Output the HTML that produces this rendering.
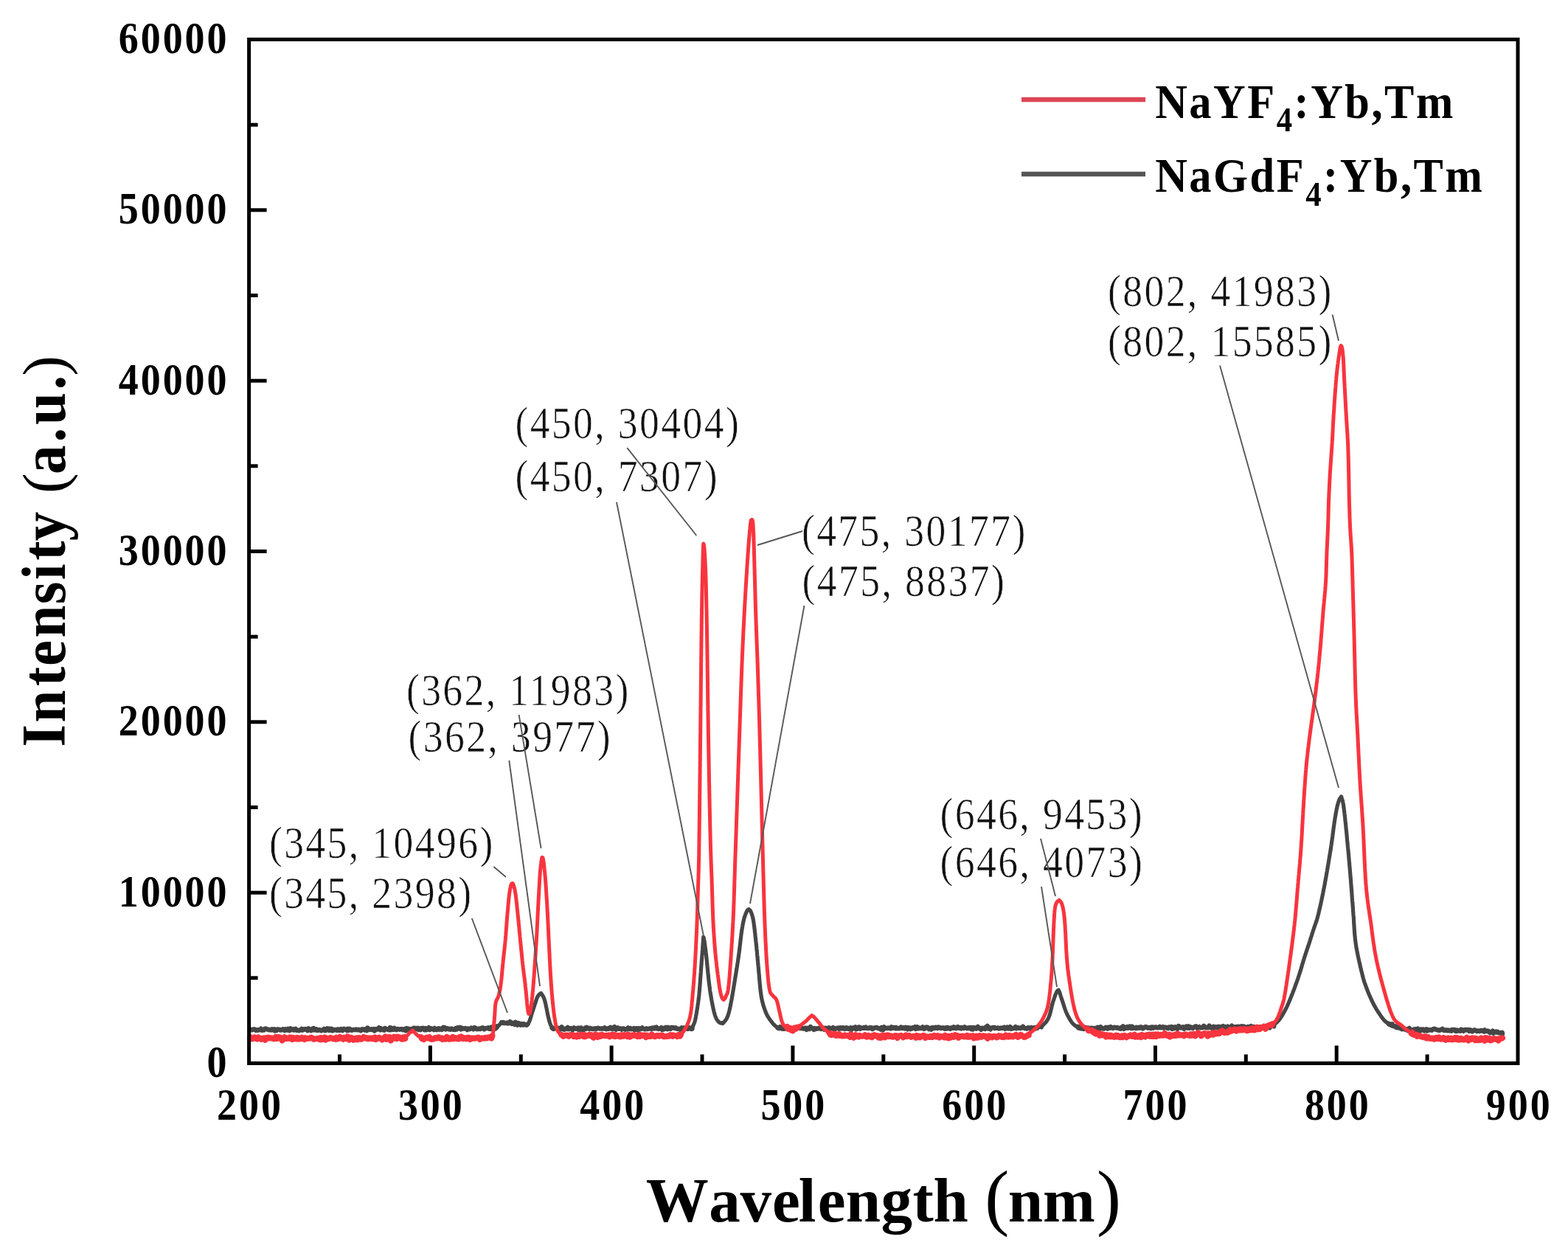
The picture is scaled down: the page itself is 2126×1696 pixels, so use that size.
<!DOCTYPE html><html><head><meta charset="utf-8"><title>Upconversion emission spectra</title><style>html,body{margin:0;padding:0;background:#fff;}svg{display:block;}</style></head><body>
<svg width="2126" height="1696" viewBox="0 0 2126 1696">
<rect width="2126" height="1696" fill="#fff"/>
<path d="M339.0,1396.0 L340.0,1395.8 L341.1,1396.4 L342.3,1395.8 L343.6,1395.8 L344.9,1395.3 L345.9,1395.8 L346.9,1396.9 L348.0,1396.3 L349.1,1396.8 L350.3,1396.2 L351.5,1396.3 L352.7,1396.2 L353.9,1394.7 L355.2,1396.7 L356.5,1396.4 L357.8,1396.4 L359.2,1394.7 L360.6,1394.6 L362.0,1395.3 L363.4,1395.7 L364.9,1396.3 L366.3,1396.0 L367.8,1396.5 L368.8,1395.5 L369.8,1396.3 L370.9,1396.4 L371.9,1395.5 L372.9,1397.4 L374.0,1396.5 L375.0,1397.0 L376.1,1395.6 L377.2,1395.5 L378.2,1395.8 L379.3,1396.0 L380.4,1396.6 L381.5,1396.3 L382.6,1395.7 L383.7,1395.3 L384.8,1395.6 L385.9,1397.0 L387.1,1395.4 L388.2,1396.3 L389.3,1396.4 L390.5,1394.9 L391.6,1396.1 L392.7,1397.1 L393.9,1394.5 L395.0,1395.8 L396.2,1396.0 L397.3,1395.4 L398.5,1396.5 L399.6,1396.0 L400.8,1394.9 L402.0,1396.7 L403.1,1396.6 L404.3,1396.8 L405.5,1397.2 L406.6,1396.4 L407.8,1396.2 L409.0,1395.0 L410.1,1396.6 L411.3,1395.6 L412.5,1395.7 L413.6,1395.1 L414.8,1395.3 L416.0,1395.6 L417.1,1397.1 L418.3,1394.4 L419.4,1394.9 L420.6,1396.3 L421.7,1397.2 L422.9,1396.5 L424.0,1394.5 L425.2,1394.1 L426.3,1396.3 L427.5,1395.5 L428.6,1395.2 L429.7,1396.8 L430.8,1396.9 L432.0,1396.2 L433.1,1396.2 L434.2,1396.4 L435.3,1397.3 L436.4,1396.5 L437.5,1396.5 L438.5,1396.5 L439.6,1394.8 L440.7,1397.1 L441.8,1396.8 L442.8,1396.5 L443.9,1394.4 L444.9,1395.5 L445.9,1396.7 L447.0,1394.6 L448.0,1395.9 L449.0,1396.8 L450.0,1395.0 L451.0,1397.3 L452.0,1396.4 L453.0,1395.9 L454.0,1396.2 L455.0,1396.5 L456.0,1396.1 L457.1,1396.9 L458.1,1395.4 L459.1,1395.6 L460.1,1396.8 L461.1,1396.0 L462.1,1395.2 L463.2,1396.7 L464.2,1397.1 L465.2,1395.6 L466.2,1394.8 L467.3,1395.8 L468.3,1395.8 L469.3,1395.6 L470.4,1397.0 L471.4,1395.0 L472.4,1396.9 L473.5,1394.8 L474.5,1395.2 L475.5,1396.3 L476.6,1396.7 L477.6,1396.5 L478.7,1396.1 L479.7,1395.9 L480.7,1395.9 L481.8,1396.2 L482.8,1395.6 L483.9,1396.0 L484.9,1396.2 L485.9,1395.7 L487.0,1396.3 L488.0,1396.2 L489.1,1397.3 L490.1,1396.0 L491.1,1395.3 L492.2,1395.4 L493.2,1395.7 L494.3,1396.4 L495.3,1395.4 L496.3,1395.9 L497.4,1397.1 L498.4,1393.6 L499.5,1394.7 L500.5,1395.8 L501.5,1395.9 L502.6,1395.8 L503.6,1395.2 L504.6,1396.1 L505.7,1395.8 L506.7,1395.1 L507.7,1397.5 L508.7,1395.8 L509.8,1395.1 L510.8,1395.4 L511.8,1395.3 L512.8,1395.4 L513.8,1393.3 L514.9,1395.1 L515.9,1396.2 L516.9,1394.5 L517.9,1395.4 L518.9,1396.2 L519.9,1396.1 L520.9,1396.6 L521.9,1394.0 L522.9,1395.1 L524.4,1395.1 L525.9,1395.8 L527.4,1396.2 L528.9,1393.2 L530.4,1396.2 L531.8,1394.1 L533.3,1395.8 L534.8,1394.0 L536.2,1395.4 L537.6,1396.2 L539.1,1395.1 L540.5,1395.3 L541.9,1395.8 L543.3,1395.3 L544.7,1395.1 L546.1,1396.3 L547.5,1395.9 L548.9,1394.9 L550.3,1397.3 L551.6,1394.2 L553.0,1395.8 L554.3,1394.8 L555.6,1395.1 L557.0,1395.6 L558.3,1395.2 L559.6,1395.5 L560.6,1393.8 L561.8,1393.8 L562.9,1395.5 L564.1,1394.2 L565.3,1394.1 L566.5,1393.8 L567.6,1396.0 L568.8,1395.5 L570.0,1396.1 L571.1,1394.2 L572.3,1394.9 L573.4,1394.0 L574.6,1395.5 L575.7,1396.2 L576.9,1394.2 L578.0,1396.1 L579.2,1395.7 L580.3,1394.7 L581.4,1393.3 L582.6,1396.0 L583.7,1394.8 L584.8,1394.3 L585.9,1395.1 L587.1,1395.1 L588.2,1396.0 L589.3,1394.0 L590.4,1395.7 L591.5,1396.0 L592.6,1395.9 L593.7,1394.6 L594.7,1394.2 L595.8,1395.6 L596.9,1394.8 L597.9,1394.8 L599.0,1395.9 L600.1,1394.5 L601.1,1392.9 L602.2,1394.4 L603.2,1393.2 L604.2,1395.4 L605.3,1395.0 L606.3,1394.2 L607.3,1394.7 L608.3,1395.3 L609.3,1394.7 L610.8,1395.7 L612.3,1394.6 L613.7,1395.5 L615.2,1395.8 L616.6,1395.9 L618.0,1394.1 L619.4,1395.3 L620.8,1393.1 L622.1,1393.7 L623.4,1393.0 L624.8,1395.4 L626.1,1393.6 L627.3,1394.6 L628.6,1394.4 L629.8,1394.5 L631.1,1394.1 L632.3,1394.7 L633.4,1396.0 L634.6,1394.6 L635.7,1395.0 L636.8,1395.3 L637.9,1394.4 L639.0,1393.5 L640.0,1394.1 L641.8,1395.3 L643.4,1393.2 L645.1,1394.0 L646.6,1395.3 L648.1,1395.1 L649.5,1394.5 L650.8,1395.1 L652.1,1394.6 L653.3,1393.6 L654.4,1393.3 L655.5,1394.0 L656.6,1395.3 L658.1,1394.1 L659.4,1393.9 L660.7,1394.0 L661.9,1393.4 L663.1,1394.5 L664.1,1393.6 L665.1,1394.9 L666.4,1392.6 L667.7,1394.7 L668.8,1393.9 L670.0,1392.7 L671.2,1394.7 L672.9,1393.6 L673.9,1391.5 L674.5,1392.5 L675.1,1391.3 L676.2,1390.4 L677.1,1389.4 L678.1,1388.3 L679.2,1387.4 L680.1,1386.2 L681.3,1386.7 L682.4,1386.0 L683.8,1386.9 L685.2,1386.9 L686.3,1386.8 L687.3,1386.6 L688.4,1387.5 L689.5,1387.1 L690.6,1387.0 L691.6,1385.1 L692.7,1387.5 L694.1,1388.0 L695.6,1386.8 L696.6,1386.7 L697.7,1388.8 L699.1,1385.9 L700.5,1387.9 L701.9,1389.6 L703.2,1387.1 L704.5,1388.5 L706.0,1389.6 L707.1,1388.2 L708.2,1389.0 L709.3,1389.5 L710.3,1388.2 L711.3,1389.0 L712.7,1389.4 L713.9,1389.7 L715.2,1388.6 L716.2,1387.7 L716.9,1386.5 L717.3,1385.6 L717.8,1384.5 L718.2,1383.6 L718.6,1382.5 L719.0,1381.2 L719.4,1379.9 L719.7,1378.9 L720.0,1377.9 L720.3,1376.8 L720.6,1375.7 L721.0,1374.5 L721.4,1373.3 L721.8,1372.0 L722.3,1370.5 L722.6,1369.5 L722.9,1368.5 L723.3,1367.5 L723.6,1366.5 L723.9,1365.5 L724.3,1364.5 L724.6,1363.5 L725.1,1362.1 L725.5,1360.8 L725.9,1359.6 L726.3,1358.4 L726.6,1357.3 L727.0,1356.3 L727.3,1355.3 L727.7,1354.0 L728.1,1352.8 L728.6,1351.7 L729.3,1350.5 L730.0,1349.5 L730.7,1348.6 L731.5,1347.9 L732.6,1347.1 L733.6,1346.5 L734.5,1347.9 L735.4,1349.1 L736.0,1350.0 L736.5,1351.0 L737.0,1352.0 L737.5,1353.1 L737.9,1354.2 L738.3,1355.4 L738.7,1356.8 L739.0,1358.0 L739.3,1359.3 L739.6,1360.4 L739.9,1361.5 L740.1,1362.9 L740.4,1364.3 L740.6,1365.3 L740.9,1366.4 L741.1,1367.4 L741.3,1368.5 L741.5,1369.6 L741.7,1370.6 L741.9,1371.7 L742.1,1372.8 L742.3,1373.8 L742.5,1374.8 L742.8,1376.2 L743.1,1377.4 L743.3,1378.4 L743.6,1379.6 L743.9,1380.7 L744.2,1381.8 L744.4,1382.8 L744.8,1384.2 L745.1,1385.4 L745.5,1386.6 L745.9,1387.7 L746.2,1388.6 L746.7,1389.7 L747.3,1391.0 L748.1,1392.0 L749.0,1392.6 L748.0,1393.5 L749.2,1393.9 L750.4,1394.9 L752.1,1394.4 L754.3,1393.7 L757.0,1393.7 L758.1,1396.6 L759.3,1395.3 L760.6,1395.0 L761.6,1392.4 L762.7,1395.0 L763.8,1394.9 L764.9,1395.8 L766.1,1394.8 L767.3,1394.4 L768.6,1394.9 L769.8,1393.0 L771.2,1395.3 L772.5,1394.8 L773.9,1394.0 L775.3,1395.6 L776.7,1396.0 L778.2,1393.4 L779.7,1394.0 L780.7,1394.8 L781.7,1394.7 L782.7,1394.2 L783.7,1393.7 L784.8,1396.2 L785.8,1395.4 L786.9,1393.6 L788.0,1393.4 L789.0,1395.9 L790.1,1395.3 L791.2,1396.0 L792.3,1395.2 L793.4,1393.8 L794.5,1394.7 L795.6,1392.8 L796.7,1393.9 L797.9,1394.5 L799.0,1394.9 L800.1,1393.9 L801.3,1394.4 L802.4,1394.9 L803.6,1394.8 L804.7,1395.0 L805.9,1394.7 L807.0,1394.2 L808.2,1395.1 L809.3,1394.5 L810.5,1393.8 L811.6,1394.0 L812.8,1394.5 L813.9,1394.4 L815.1,1394.6 L816.2,1394.5 L817.4,1394.6 L818.5,1394.3 L819.7,1393.4 L820.8,1394.8 L822.0,1395.3 L823.1,1394.8 L824.3,1394.3 L825.4,1394.8 L826.5,1393.7 L827.6,1392.9 L828.8,1394.5 L829.9,1393.7 L831.0,1395.0 L832.1,1393.6 L833.2,1392.3 L834.3,1393.6 L835.3,1395.7 L836.4,1394.1 L837.5,1393.3 L838.5,1393.8 L839.6,1394.8 L840.6,1394.8 L841.7,1394.5 L842.7,1395.6 L843.7,1395.0 L844.7,1394.4 L846.2,1394.9 L847.6,1395.7 L849.1,1395.2 L850.5,1395.2 L851.6,1393.5 L852.7,1394.3 L853.8,1395.0 L854.9,1394.2 L856.0,1395.3 L857.1,1394.9 L858.2,1395.1 L859.4,1394.2 L860.5,1396.4 L861.6,1395.4 L862.7,1394.2 L863.9,1394.5 L865.0,1396.5 L866.2,1394.1 L867.3,1395.1 L868.5,1395.2 L869.6,1394.4 L870.7,1393.5 L871.9,1394.6 L873.0,1394.7 L874.2,1395.3 L875.3,1395.0 L876.5,1394.4 L877.6,1395.1 L878.8,1394.8 L879.9,1394.6 L881.1,1394.5 L882.2,1394.2 L883.4,1395.0 L884.5,1393.6 L885.6,1393.9 L886.8,1394.4 L887.9,1393.2 L889.0,1394.1 L890.1,1392.8 L891.2,1393.9 L892.3,1394.9 L893.4,1394.9 L894.5,1394.4 L895.6,1394.2 L896.7,1393.3 L897.8,1395.9 L898.8,1394.8 L899.9,1395.3 L901.0,1393.7 L902.0,1394.3 L903.0,1393.0 L904.1,1395.1 L905.1,1395.2 L906.1,1392.9 L907.6,1394.4 L909.0,1394.9 L910.5,1393.0 L911.9,1393.0 L913.3,1393.6 L914.6,1393.9 L916.0,1393.3 L917.3,1394.5 L918.5,1394.7 L919.8,1395.0 L921.0,1395.0 L922.1,1395.7 L923.2,1395.4 L924.3,1393.4 L925.4,1394.1 L926.4,1393.6 L927.7,1393.6 L928.9,1394.4 L930.0,1394.5 L932.6,1394.9 L934.7,1393.3 L936.2,1393.7 L937.3,1394.7 L938.4,1394.8 L937.4,1395.0 L938.1,1394.5 L938.8,1393.5 L939.3,1392.2 L939.6,1391.1 L940.0,1390.0 L940.4,1389.0 L941.0,1387.9 L941.4,1386.9 L941.9,1385.6 L942.2,1384.4 L942.6,1382.9 L943.0,1381.0 L943.2,1380.0 L943.4,1378.9 L943.6,1377.8 L943.8,1376.6 L944.0,1375.4 L944.3,1374.0 L944.5,1372.7 L944.7,1371.2 L945.0,1369.8 L945.1,1368.8 L945.3,1367.8 L945.5,1366.7 L945.6,1365.7 L945.8,1364.6 L945.9,1363.5 L946.1,1362.4 L946.3,1361.3 L946.4,1360.2 L946.6,1359.1 L946.7,1358.0 L946.9,1356.9 L947.0,1355.7 L947.2,1354.6 L947.3,1353.4 L947.4,1352.3 L947.6,1351.1 L947.7,1350.0 L947.8,1348.7 L948.0,1347.3 L948.1,1345.9 L948.2,1344.5 L948.4,1343.1 L948.5,1341.6 L948.6,1340.1 L948.7,1339.1 L948.8,1338.1 L948.9,1337.1 L949.0,1336.1 L949.0,1335.0 L949.1,1334.0 L949.2,1333.0 L949.3,1331.9 L949.3,1330.9 L949.4,1329.8 L949.5,1328.8 L949.6,1327.7 L949.6,1326.7 L949.7,1325.6 L949.8,1324.6 L949.9,1323.6 L949.9,1322.5 L950.0,1321.5 L950.1,1320.5 L950.1,1319.5 L950.2,1318.5 L950.3,1317.5 L950.4,1316.0 L950.5,1314.5 L950.6,1313.1 L950.7,1311.7 L950.8,1310.3 L950.9,1309.0 L951.0,1307.9 L951.1,1306.7 L951.2,1305.6 L951.2,1304.5 L951.3,1303.3 L951.4,1302.2 L951.5,1301.0 L951.6,1299.9 L951.7,1298.8 L951.7,1297.6 L951.8,1296.5 L951.9,1295.4 L952.0,1294.3 L952.1,1293.2 L952.2,1292.1 L952.2,1291.1 L952.3,1290.0 L952.4,1289.0 L952.5,1288.0 L952.6,1286.5 L952.7,1285.1 L952.8,1283.7 L952.9,1282.4 L953.0,1281.2 L953.1,1280.0 L953.1,1278.9 L953.2,1277.9 L953.4,1275.6 L953.5,1274.4 L953.5,1273.3 L953.6,1271.5 L953.7,1270.4 L954.2,1271.4 L954.4,1272.5 L954.6,1273.4 L954.8,1274.6 L955.0,1275.9 L955.2,1277.3 L955.4,1278.3 L955.5,1279.4 L955.7,1280.4 L955.8,1281.6 L956.0,1282.7 L956.1,1283.9 L956.3,1285.1 L956.5,1286.3 L956.6,1287.5 L956.8,1288.7 L956.9,1290.0 L957.1,1291.2 L957.2,1292.4 L957.3,1293.4 L957.5,1294.7 L957.6,1296.1 L957.8,1297.5 L957.9,1298.9 L958.1,1300.4 L958.2,1301.4 L958.3,1302.4 L958.4,1303.4 L958.5,1304.4 L958.6,1305.5 L958.7,1306.5 L958.8,1307.6 L958.9,1308.6 L959.0,1309.7 L959.1,1310.7 L959.2,1311.8 L959.3,1312.8 L959.4,1313.9 L959.5,1314.9 L959.6,1315.9 L959.7,1316.9 L959.8,1318.0 L959.9,1319.0 L960.0,1320.4 L960.2,1321.8 L960.3,1323.2 L960.5,1324.6 L960.6,1325.6 L960.7,1326.7 L960.8,1327.8 L960.9,1328.9 L961.1,1329.9 L961.2,1330.9 L961.3,1331.9 L961.4,1332.9 L961.6,1334.4 L961.8,1335.9 L962.0,1337.3 L962.2,1338.7 L962.4,1340.1 L962.5,1341.5 L962.7,1342.9 L962.9,1344.2 L963.2,1345.7 L963.4,1347.1 L963.6,1348.5 L963.9,1350.0 L964.0,1351.0 L964.2,1352.0 L964.4,1353.0 L964.6,1354.1 L964.7,1355.1 L964.9,1356.2 L965.1,1357.2 L965.3,1358.3 L965.5,1359.3 L965.7,1360.4 L965.9,1361.4 L966.1,1362.5 L966.3,1363.5 L966.5,1364.5 L966.7,1365.5 L967.0,1366.9 L967.3,1368.3 L967.6,1369.6 L967.9,1370.9 L968.2,1372.1 L968.6,1373.5 L969.0,1374.8 L969.3,1376.0 L969.7,1377.1 L970.1,1378.1 L970.4,1379.0 L971.0,1380.3 L971.5,1381.5 L972.1,1382.5 L972.8,1383.4 L973.6,1384.5 L974.4,1385.3 L975.2,1386.0 L976.1,1386.6 L977.4,1387.1 L978.7,1386.7 L979.9,1387.5 L980.8,1386.7 L981.8,1385.6 L982.7,1384.6 L983.4,1383.8 L984.0,1383.0 L984.6,1382.0 L985.2,1380.9 L985.7,1379.8 L986.1,1378.9 L986.6,1377.8 L987.0,1376.8 L987.3,1375.7 L987.7,1374.5 L988.1,1373.3 L988.4,1372.0 L988.8,1370.6 L989.0,1369.7 L989.2,1368.6 L989.5,1367.5 L989.7,1366.3 L990.0,1365.1 L990.3,1363.8 L990.6,1362.4 L990.8,1361.3 L991.0,1360.2 L991.2,1359.0 L991.5,1357.7 L991.7,1356.4 L992.0,1355.1 L992.2,1353.6 L992.5,1352.2 L992.6,1351.2 L992.8,1350.2 L993.0,1349.2 L993.2,1348.2 L993.3,1347.1 L993.5,1346.1 L993.7,1345.0 L993.9,1344.0 L994.1,1342.9 L994.2,1341.9 L994.4,1340.8 L994.6,1339.7 L994.8,1338.7 L994.9,1337.6 L995.1,1336.5 L995.3,1335.5 L995.5,1334.4 L995.6,1333.4 L995.8,1332.3 L996.0,1331.3 L996.1,1330.3 L996.3,1329.3 L996.5,1327.8 L996.8,1326.4 L997.0,1325.0 L997.2,1323.9 L997.3,1322.9 L997.5,1321.9 L997.7,1320.8 L997.8,1319.8 L998.0,1318.8 L998.2,1317.8 L998.3,1316.8 L998.5,1315.8 L998.6,1314.8 L998.8,1313.8 L999.0,1312.3 L999.3,1310.9 L999.5,1309.4 L999.7,1308.0 L999.9,1306.5 L1000.2,1305.1 L1000.4,1303.6 L1000.6,1302.2 L1000.8,1300.7 L1001.0,1299.3 L1001.2,1297.9 L1001.4,1296.4 L1001.6,1295.0 L1001.8,1293.5 L1002.0,1292.0 L1002.2,1291.0 L1002.3,1290.0 L1002.4,1288.9 L1002.6,1287.9 L1002.7,1286.9 L1002.8,1285.8 L1002.9,1284.8 L1003.1,1283.7 L1003.2,1282.7 L1003.3,1281.6 L1003.4,1280.6 L1003.6,1279.5 L1003.7,1278.5 L1003.8,1277.4 L1003.9,1276.4 L1004.0,1275.4 L1004.1,1274.3 L1004.3,1273.3 L1004.4,1272.3 L1004.5,1271.3 L1004.7,1269.9 L1004.8,1268.4 L1005.0,1267.0 L1005.2,1265.6 L1005.4,1264.3 L1005.6,1263.0 L1005.7,1261.8 L1005.9,1260.8 L1006.1,1259.5 L1006.3,1258.3 L1006.5,1257.2 L1006.7,1256.1 L1006.8,1255.0 L1007.0,1253.9 L1007.2,1252.9 L1007.4,1251.9 L1007.7,1250.5 L1008.0,1249.1 L1008.3,1247.8 L1008.6,1246.5 L1008.9,1245.3 L1009.2,1244.1 L1009.6,1243.0 L1010.0,1241.7 L1010.5,1240.4 L1010.9,1239.2 L1011.4,1238.0 L1011.9,1236.9 L1012.4,1235.8 L1012.9,1234.9 L1013.6,1233.7 L1014.4,1233.0 L1015.4,1232.7 L1016.4,1233.5 L1017.3,1234.6 L1017.9,1235.7 L1018.5,1237.0 L1018.9,1238.1 L1019.3,1239.2 L1019.7,1240.5 L1020.1,1241.8 L1020.5,1243.2 L1020.8,1244.7 L1021.1,1245.8 L1021.3,1246.9 L1021.5,1248.1 L1021.7,1249.3 L1021.9,1250.6 L1022.1,1252.0 L1022.3,1253.4 L1022.5,1254.8 L1022.7,1256.3 L1022.8,1257.3 L1022.9,1258.4 L1023.1,1259.4 L1023.2,1260.5 L1023.3,1261.5 L1023.4,1262.6 L1023.5,1263.7 L1023.7,1264.7 L1023.8,1265.8 L1023.9,1266.9 L1024.0,1268.0 L1024.1,1269.0 L1024.2,1270.1 L1024.3,1271.2 L1024.5,1272.2 L1024.6,1273.3 L1024.7,1274.3 L1024.8,1275.3 L1024.9,1276.3 L1025.1,1277.8 L1025.2,1279.2 L1025.4,1280.7 L1025.5,1282.1 L1025.7,1283.5 L1025.8,1284.9 L1025.9,1286.3 L1026.1,1287.8 L1026.2,1289.2 L1026.4,1290.6 L1026.5,1292.0 L1026.6,1293.4 L1026.7,1294.8 L1026.9,1296.3 L1027.0,1297.7 L1027.2,1299.2 L1027.2,1300.2 L1027.3,1301.2 L1027.4,1302.2 L1027.5,1303.3 L1027.6,1304.3 L1027.7,1305.4 L1027.8,1306.5 L1027.9,1307.5 L1028.0,1308.6 L1028.1,1309.6 L1028.3,1311.0 L1028.4,1312.4 L1028.5,1313.9 L1028.7,1315.4 L1028.7,1316.4 L1028.8,1317.4 L1028.9,1318.4 L1029.0,1319.5 L1029.1,1320.5 L1029.2,1321.6 L1029.3,1322.6 L1029.4,1323.7 L1029.4,1324.8 L1029.5,1325.9 L1029.6,1326.9 L1029.7,1328.0 L1029.8,1329.1 L1029.9,1330.2 L1030.0,1331.2 L1030.1,1332.3 L1030.2,1333.4 L1030.3,1334.4 L1030.4,1335.5 L1030.5,1336.5 L1030.6,1337.6 L1030.7,1338.6 L1030.8,1339.6 L1030.9,1340.6 L1031.0,1342.1 L1031.2,1343.5 L1031.4,1344.9 L1031.6,1346.3 L1031.7,1347.6 L1031.9,1348.8 L1032.1,1350.0 L1032.3,1351.3 L1032.5,1352.6 L1032.8,1353.8 L1033.0,1355.0 L1033.3,1356.1 L1033.5,1357.2 L1033.7,1358.3 L1034.0,1359.3 L1034.3,1360.3 L1034.5,1361.3 L1034.9,1362.7 L1035.3,1364.0 L1035.7,1365.3 L1036.2,1366.6 L1036.6,1367.8 L1037.0,1369.0 L1037.5,1370.2 L1037.9,1371.3 L1038.4,1372.4 L1038.7,1373.4 L1039.2,1374.5 L1039.7,1375.5 L1040.2,1376.5 L1040.7,1377.4 L1041.3,1378.3 L1041.8,1379.2 L1042.6,1380.4 L1043.4,1381.6 L1044.2,1382.7 L1044.9,1383.7 L1045.7,1384.7 L1046.4,1385.6 L1047.1,1386.6 L1047.8,1387.4 L1048.5,1388.2 L1049.5,1389.3 L1050.5,1390.2 L1051.5,1391.0 L1052.5,1391.8 L1053.4,1392.6 L1053.9,1393.7 L1054.9,1393.6 L1056.5,1394.2 L1057.7,1392.2 L1059.2,1393.7 L1060.3,1394.6 L1061.3,1393.4 L1062.6,1394.7 L1063.8,1394.7 L1065.1,1393.5 L1066.1,1394.3 L1067.3,1394.3 L1068.5,1394.9 L1069.5,1394.9 L1070.6,1394.4 L1071.8,1393.7 L1073.1,1394.2 L1074.6,1394.3 L1075.6,1394.9 L1076.7,1394.5 L1077.8,1393.7 L1079.0,1393.1 L1080.3,1393.9 L1081.7,1393.6 L1083.1,1393.3 L1084.6,1394.0 L1086.2,1393.7 L1087.9,1394.2 L1089.7,1394.5 L1091.5,1393.7 L1093.5,1395.9 L1094.5,1393.8 L1095.6,1394.9 L1096.6,1394.1 L1097.7,1394.9 L1098.9,1392.1 L1100.0,1393.4 L1101.3,1394.2 L1102.6,1394.5 L1103.6,1395.9 L1104.7,1394.2 L1105.7,1395.0 L1106.8,1394.6 L1107.9,1394.7 L1109.1,1394.4 L1110.2,1393.8 L1111.4,1394.4 L1112.5,1393.1 L1113.7,1394.9 L1115.0,1393.1 L1116.2,1394.1 L1117.5,1395.6 L1118.7,1393.8 L1120.0,1393.9 L1121.3,1394.9 L1122.6,1393.9 L1124.0,1393.3 L1125.3,1394.1 L1126.7,1394.4 L1128.1,1394.5 L1129.5,1393.3 L1130.9,1395.3 L1132.3,1395.2 L1133.7,1393.9 L1135.2,1394.1 L1136.7,1393.6 L1138.1,1395.0 L1139.6,1393.3 L1141.1,1394.4 L1142.1,1393.5 L1143.1,1393.3 L1144.1,1394.5 L1145.2,1394.9 L1146.2,1393.9 L1147.2,1393.3 L1148.2,1394.5 L1149.3,1393.8 L1150.3,1394.1 L1151.4,1395.1 L1152.4,1394.8 L1153.5,1393.4 L1154.5,1395.7 L1155.6,1393.9 L1156.6,1394.5 L1157.7,1393.3 L1158.8,1393.8 L1159.8,1392.4 L1160.9,1395.3 L1162.0,1394.9 L1163.1,1392.9 L1164.2,1392.6 L1165.3,1392.5 L1166.3,1394.8 L1167.4,1393.5 L1168.5,1393.8 L1169.6,1393.6 L1170.7,1393.7 L1171.8,1393.0 L1172.9,1393.8 L1174.0,1392.7 L1175.1,1393.8 L1176.2,1394.1 L1177.3,1394.2 L1178.5,1393.6 L1179.6,1393.1 L1180.7,1393.9 L1181.8,1393.4 L1182.9,1395.1 L1184.0,1394.4 L1185.1,1393.7 L1186.3,1393.4 L1187.4,1393.2 L1188.5,1393.0 L1189.6,1393.5 L1190.7,1394.0 L1191.9,1394.2 L1193.0,1394.2 L1194.1,1395.5 L1195.2,1393.2 L1196.3,1393.8 L1197.4,1396.0 L1198.6,1392.3 L1199.7,1393.4 L1200.8,1393.9 L1201.9,1393.9 L1203.0,1394.1 L1204.1,1393.6 L1205.2,1394.1 L1206.4,1393.8 L1207.5,1394.4 L1208.6,1392.3 L1209.7,1393.1 L1210.8,1393.8 L1211.9,1392.9 L1213.0,1392.9 L1214.1,1394.3 L1215.2,1393.2 L1216.3,1394.3 L1217.4,1394.3 L1218.5,1394.0 L1219.5,1394.2 L1220.6,1393.7 L1221.7,1392.6 L1222.8,1393.7 L1223.9,1394.1 L1224.9,1393.3 L1226.0,1393.7 L1227.1,1394.3 L1228.1,1393.0 L1229.2,1394.2 L1230.3,1395.2 L1231.3,1393.3 L1232.4,1393.8 L1233.4,1393.6 L1234.4,1395.0 L1235.5,1394.0 L1236.5,1394.4 L1237.5,1393.2 L1238.6,1393.7 L1239.6,1393.7 L1240.6,1392.3 L1241.6,1394.9 L1242.6,1394.4 L1243.6,1392.3 L1245.1,1394.3 L1246.6,1393.6 L1248.1,1394.1 L1249.5,1394.0 L1251.0,1392.5 L1252.1,1393.5 L1253.1,1394.9 L1254.2,1393.2 L1255.2,1392.9 L1256.3,1392.6 L1257.3,1392.7 L1258.4,1394.0 L1259.5,1395.0 L1260.6,1394.0 L1261.6,1393.9 L1262.7,1395.5 L1263.8,1393.3 L1264.9,1393.1 L1266.0,1394.1 L1267.1,1394.1 L1268.2,1392.9 L1269.3,1392.7 L1270.4,1393.9 L1271.5,1393.9 L1272.6,1392.6 L1273.7,1393.5 L1274.9,1393.2 L1276.0,1394.0 L1277.1,1393.6 L1278.2,1393.6 L1279.4,1393.4 L1280.5,1394.5 L1281.6,1394.8 L1282.7,1393.4 L1283.9,1394.3 L1285.0,1393.1 L1286.1,1393.7 L1287.3,1394.3 L1288.4,1394.9 L1289.6,1393.4 L1290.7,1393.6 L1291.8,1393.8 L1293.0,1392.5 L1294.1,1393.7 L1295.3,1393.1 L1296.4,1394.0 L1297.5,1392.8 L1298.7,1392.1 L1299.8,1393.7 L1301.0,1393.9 L1302.1,1393.2 L1303.3,1394.4 L1304.4,1393.4 L1305.5,1393.2 L1306.7,1394.0 L1307.8,1392.4 L1308.9,1393.1 L1310.1,1393.6 L1311.2,1394.3 L1312.3,1393.5 L1313.5,1393.9 L1314.6,1393.1 L1315.7,1393.9 L1316.9,1395.0 L1318.0,1393.1 L1319.1,1395.5 L1320.2,1393.1 L1321.3,1393.7 L1322.5,1393.8 L1323.6,1394.5 L1324.7,1392.7 L1325.8,1392.0 L1326.9,1394.1 L1328.0,1394.3 L1329.1,1394.1 L1330.2,1395.7 L1331.3,1393.8 L1332.3,1393.8 L1333.4,1394.4 L1334.5,1393.9 L1335.6,1395.0 L1336.6,1392.6 L1337.7,1393.3 L1338.8,1390.9 L1339.8,1394.3 L1340.9,1393.3 L1341.9,1394.4 L1343.0,1395.4 L1344.0,1393.6 L1345.0,1393.4 L1346.0,1393.2 L1347.1,1393.0 L1348.1,1393.1 L1349.1,1394.1 L1350.1,1393.7 L1351.6,1393.7 L1353.1,1393.5 L1354.5,1394.4 L1356.0,1394.0 L1357.4,1393.5 L1358.8,1394.1 L1360.3,1393.5 L1361.6,1392.7 L1363.0,1394.8 L1364.4,1394.0 L1365.7,1392.8 L1367.0,1394.5 L1368.3,1393.9 L1369.6,1392.3 L1370.9,1394.9 L1372.1,1393.9 L1373.4,1394.3 L1374.6,1393.7 L1375.8,1393.5 L1376.9,1392.3 L1378.1,1394.3 L1379.2,1393.6 L1380.3,1393.3 L1381.4,1393.8 L1382.4,1393.6 L1383.5,1394.1 L1384.5,1393.2 L1385.8,1393.5 L1387.0,1391.8 L1388.3,1393.2 L1389.4,1394.0 L1392.1,1394.6 L1393.9,1393.2 L1395.7,1393.4 L1397.2,1394.7 L1398.7,1393.2 L1400.0,1394.0 L1401.1,1394.8 L1402.2,1393.4 L1403.9,1394.4 L1405.2,1392.8 L1406.5,1393.5 L1407.4,1392.6 L1408.7,1392.3 L1409.8,1392.1 L1410.9,1392.6 L1412.2,1393.0 L1413.3,1390.5 L1414.3,1389.7 L1415.3,1388.7 L1416.0,1388.0 L1416.9,1387.1 L1417.8,1386.1 L1418.6,1385.1 L1419.4,1384.0 L1420.2,1382.8 L1420.7,1381.9 L1421.2,1380.9 L1421.7,1379.8 L1422.2,1378.6 L1422.6,1377.6 L1423.0,1376.5 L1423.4,1375.2 L1423.8,1373.8 L1424.2,1372.4 L1424.4,1371.4 L1424.7,1370.4 L1424.9,1369.3 L1425.2,1368.3 L1425.4,1367.2 L1425.7,1366.2 L1425.9,1365.1 L1426.2,1364.1 L1426.4,1363.1 L1426.7,1362.0 L1426.9,1361.0 L1427.3,1359.6 L1427.7,1358.3 L1428.1,1357.0 L1428.5,1355.9 L1428.9,1354.7 L1429.3,1353.5 L1429.7,1352.4 L1430.1,1351.2 L1430.5,1350.0 L1430.9,1348.9 L1431.3,1347.8 L1431.8,1346.8 L1432.2,1345.9 L1432.8,1344.7 L1433.4,1343.7 L1434.1,1342.9 L1435.2,1342.3 L1436.0,1343.8 L1436.5,1345.1 L1436.9,1346.1 L1437.3,1347.2 L1437.6,1348.5 L1438.0,1349.7 L1438.4,1351.0 L1438.8,1352.2 L1439.2,1353.4 L1439.5,1354.4 L1440.0,1355.7 L1440.5,1357.0 L1440.9,1358.5 L1441.2,1359.5 L1441.6,1360.5 L1441.9,1361.5 L1442.2,1362.5 L1442.5,1363.5 L1442.8,1364.5 L1443.2,1365.5 L1443.5,1366.5 L1443.8,1367.5 L1444.3,1368.9 L1444.8,1370.2 L1445.3,1371.5 L1445.8,1372.6 L1446.2,1373.6 L1446.6,1374.6 L1447.1,1375.5 L1447.5,1376.4 L1448.2,1377.7 L1448.8,1378.9 L1449.5,1380.1 L1450.1,1381.2 L1450.8,1382.3 L1451.4,1383.2 L1451.9,1384.1 L1452.7,1385.3 L1453.6,1386.5 L1454.4,1387.5 L1455.4,1388.5 L1456.4,1389.4 L1457.5,1390.2 L1458.5,1391.0 L1459.7,1391.7 L1460.9,1391.9 L1462.2,1393.4 L1463.2,1392.5 L1464.3,1394.0 L1465.6,1394.3 L1466.6,1393.8 L1467.7,1394.6 L1468.8,1392.9 L1469.9,1394.8 L1471.4,1392.9 L1472.7,1393.5 L1474.4,1393.6 L1476.3,1393.7 L1477.5,1394.7 L1478.7,1394.1 L1480.0,1393.7 L1481.3,1394.4 L1482.3,1395.2 L1483.3,1394.0 L1484.4,1394.2 L1485.6,1394.9 L1486.8,1394.1 L1488.1,1392.9 L1489.4,1395.9 L1490.7,1395.6 L1492.1,1392.3 L1493.5,1393.8 L1495.0,1394.1 L1496.4,1394.6 L1497.4,1394.3 L1498.5,1393.5 L1499.5,1392.9 L1500.5,1393.8 L1501.6,1394.5 L1502.6,1392.8 L1503.7,1392.8 L1504.8,1393.6 L1505.9,1392.1 L1507.0,1393.4 L1508.1,1393.2 L1509.2,1393.9 L1510.3,1393.0 L1511.4,1392.8 L1512.5,1393.2 L1513.7,1393.5 L1514.8,1393.0 L1515.9,1393.5 L1517.1,1394.1 L1518.2,1394.4 L1519.3,1394.8 L1520.5,1392.8 L1521.6,1393.0 L1522.7,1391.4 L1523.9,1394.9 L1525.0,1392.7 L1526.1,1393.3 L1527.2,1393.7 L1528.4,1392.2 L1529.5,1393.6 L1530.6,1393.2 L1531.7,1391.8 L1532.8,1393.4 L1533.8,1394.1 L1534.9,1391.7 L1536.0,1393.8 L1537.0,1393.3 L1538.1,1393.5 L1539.1,1393.5 L1540.1,1394.2 L1541.1,1392.9 L1542.6,1393.8 L1544.1,1392.7 L1545.5,1393.6 L1546.9,1392.4 L1548.3,1392.9 L1549.6,1394.4 L1550.6,1393.4 L1551.8,1392.9 L1553.0,1392.1 L1554.1,1392.3 L1555.2,1393.1 L1556.4,1393.7 L1557.5,1393.3 L1558.6,1393.4 L1559.7,1392.9 L1560.7,1394.0 L1561.8,1392.6 L1562.9,1392.5 L1563.9,1393.7 L1564.9,1393.0 L1566.0,1392.7 L1567.0,1392.5 L1568.0,1392.7 L1569.5,1393.4 L1571.0,1393.2 L1572.4,1392.0 L1573.9,1393.3 L1575.3,1393.1 L1576.7,1392.2 L1578.1,1393.6 L1579.6,1392.8 L1581.0,1392.7 L1582.4,1393.6 L1583.8,1394.1 L1585.2,1392.5 L1586.6,1393.4 L1588.0,1392.3 L1589.4,1394.9 L1590.8,1392.6 L1592.2,1394.0 L1593.6,1392.5 L1595.1,1393.7 L1596.5,1394.8 L1598.0,1391.0 L1599.5,1392.7 L1601.0,1393.4 L1602.5,1392.9 L1604.0,1392.4 L1605.4,1394.7 L1606.9,1393.0 L1608.4,1391.6 L1609.9,1393.6 L1611.4,1391.5 L1612.9,1393.8 L1614.4,1392.4 L1615.8,1393.0 L1617.3,1393.9 L1618.8,1392.9 L1620.3,1391.7 L1621.8,1391.4 L1623.3,1393.7 L1624.8,1393.3 L1626.2,1392.1 L1627.7,1393.4 L1629.2,1393.1 L1630.7,1393.2 L1632.2,1390.9 L1633.7,1392.4 L1635.1,1393.3 L1636.6,1393.2 L1638.1,1393.3 L1639.6,1390.6 L1641.1,1392.7 L1642.6,1392.9 L1644.1,1394.6 L1645.5,1391.8 L1647.0,1392.3 L1648.5,1392.5 L1650.0,1393.2 L1651.0,1392.1 L1652.0,1393.4 L1653.0,1391.9 L1654.1,1392.7 L1655.1,1392.1 L1656.2,1392.6 L1657.2,1391.9 L1658.3,1391.2 L1659.4,1393.4 L1660.5,1392.7 L1661.5,1392.0 L1662.6,1392.6 L1663.7,1393.3 L1664.8,1391.7 L1665.9,1392.4 L1667.0,1392.9 L1668.1,1392.9 L1669.2,1392.2 L1670.3,1390.8 L1671.4,1393.5 L1672.5,1392.8 L1673.5,1392.5 L1674.6,1392.3 L1675.7,1392.7 L1676.8,1392.2 L1677.8,1391.7 L1678.9,1391.9 L1680.0,1392.1 L1681.0,1392.1 L1682.0,1391.6 L1683.1,1393.1 L1684.1,1391.5 L1685.1,1393.1 L1686.6,1391.7 L1688.1,1392.8 L1689.5,1393.7 L1690.9,1392.7 L1692.3,1392.0 L1693.6,1392.6 L1694.9,1392.7 L1696.2,1391.2 L1697.4,1392.0 L1698.5,1392.6 L1699.6,1392.1 L1700.8,1392.6 L1702.3,1393.1 L1703.8,1393.1 L1705.2,1393.2 L1706.4,1392.9 L1707.7,1392.2 L1708.8,1392.4 L1709.9,1392.2 L1710.9,1392.2 L1712.4,1392.3 L1713.7,1391.0 L1715.0,1392.1 L1716.1,1392.3 L1717.3,1391.4 L1718.4,1392.1 L1719.4,1392.3 L1720.5,1391.6 L1721.6,1393.2 L1722.8,1389.1 L1723.9,1390.7 L1725.0,1389.0 L1725.9,1390.8 L1727.2,1391.4 L1728.3,1388.5 L1729.4,1387.6 L1730.4,1386.7 L1731.5,1385.7 L1732.5,1384.7 L1733.5,1383.6 L1734.4,1382.5 L1735.3,1381.4 L1736.2,1380.2 L1736.7,1379.3 L1737.3,1378.5 L1737.8,1377.6 L1738.4,1376.7 L1738.9,1375.8 L1739.5,1374.9 L1740.0,1374.0 L1740.7,1372.8 L1741.3,1371.6 L1742.0,1370.5 L1742.6,1369.2 L1743.3,1368.0 L1743.9,1366.7 L1744.6,1365.4 L1745.0,1364.5 L1745.4,1363.5 L1745.9,1362.6 L1746.3,1361.6 L1746.8,1360.5 L1747.2,1359.6 L1747.7,1358.4 L1748.2,1357.2 L1748.8,1355.9 L1749.3,1354.5 L1749.9,1353.2 L1750.4,1351.8 L1750.8,1350.8 L1751.2,1349.9 L1751.6,1349.0 L1751.9,1348.0 L1752.3,1347.0 L1752.7,1346.1 L1753.0,1345.1 L1753.4,1344.2 L1753.8,1343.2 L1754.1,1342.3 L1754.7,1340.9 L1755.2,1339.5 L1755.7,1338.1 L1756.2,1336.7 L1756.7,1335.3 L1757.2,1334.0 L1757.7,1332.6 L1758.2,1331.2 L1758.7,1329.8 L1759.2,1328.4 L1759.7,1327.0 L1760.1,1325.6 L1760.6,1324.2 L1761.1,1322.8 L1761.5,1321.4 L1762.0,1320.0 L1762.3,1319.0 L1762.8,1317.6 L1763.2,1316.2 L1763.6,1314.8 L1764.1,1313.3 L1764.5,1311.9 L1764.9,1310.5 L1765.3,1309.0 L1765.7,1307.6 L1766.1,1306.2 L1766.6,1304.8 L1767.0,1303.3 L1767.4,1301.9 L1767.9,1300.5 L1768.3,1299.1 L1768.7,1297.7 L1769.2,1296.3 L1769.7,1294.9 L1770.1,1293.5 L1770.6,1292.1 L1771.0,1290.7 L1771.5,1289.3 L1772.0,1287.9 L1772.4,1286.5 L1772.9,1285.1 L1773.4,1283.7 L1773.8,1282.3 L1774.3,1280.9 L1774.8,1279.5 L1775.1,1278.6 L1775.4,1277.6 L1775.7,1276.7 L1776.0,1275.7 L1776.3,1274.8 L1776.6,1273.8 L1777.1,1272.4 L1777.5,1271.0 L1778.0,1269.5 L1778.4,1268.1 L1778.9,1266.7 L1779.3,1265.2 L1779.8,1263.8 L1780.2,1262.4 L1780.7,1261.0 L1781.2,1259.5 L1781.6,1258.2 L1782.0,1256.9 L1782.5,1255.7 L1782.9,1254.5 L1783.3,1253.3 L1783.8,1252.1 L1784.2,1250.8 L1784.7,1249.5 L1785.1,1248.1 L1785.4,1247.2 L1785.7,1246.1 L1786.0,1245.1 L1786.4,1243.9 L1786.7,1242.7 L1787.0,1241.4 L1787.4,1240.0 L1787.7,1238.9 L1788.0,1237.7 L1788.2,1236.5 L1788.5,1235.3 L1788.8,1234.0 L1789.1,1232.7 L1789.4,1231.4 L1789.7,1230.1 L1790.0,1228.7 L1790.4,1227.3 L1790.7,1225.8 L1791.0,1224.4 L1791.2,1223.4 L1791.4,1222.4 L1791.6,1221.4 L1791.8,1220.4 L1792.1,1219.3 L1792.3,1218.3 L1792.5,1217.3 L1792.7,1216.2 L1792.9,1215.2 L1793.1,1214.1 L1793.3,1213.0 L1793.6,1212.0 L1793.8,1210.9 L1794.0,1209.8 L1794.2,1208.7 L1794.4,1207.7 L1794.6,1206.6 L1794.8,1205.5 L1795.1,1204.4 L1795.3,1203.3 L1795.5,1202.2 L1795.7,1201.1 L1795.9,1200.0 L1796.2,1198.7 L1796.4,1197.3 L1796.7,1195.9 L1796.9,1194.5 L1797.2,1193.1 L1797.4,1191.6 L1797.7,1190.2 L1798.0,1188.7 L1798.1,1187.7 L1798.3,1186.7 L1798.5,1185.7 L1798.7,1184.7 L1798.8,1183.7 L1799.0,1182.7 L1799.2,1181.7 L1799.4,1180.6 L1799.5,1179.6 L1799.7,1178.6 L1799.9,1177.6 L1800.1,1176.5 L1800.2,1175.5 L1800.4,1174.5 L1800.6,1173.5 L1800.8,1172.4 L1800.9,1171.4 L1801.1,1170.4 L1801.3,1169.4 L1801.4,1168.3 L1801.6,1167.3 L1801.8,1166.3 L1801.9,1165.3 L1802.1,1164.3 L1802.3,1163.3 L1802.4,1162.3 L1802.6,1161.3 L1802.8,1159.8 L1803.1,1158.4 L1803.3,1156.9 L1803.5,1155.5 L1803.8,1154.1 L1804.0,1152.7 L1804.2,1151.3 L1804.4,1150.0 L1804.6,1148.9 L1804.7,1147.8 L1804.9,1146.7 L1805.1,1145.6 L1805.2,1144.5 L1805.4,1143.3 L1805.6,1142.2 L1805.7,1141.1 L1805.9,1140.1 L1806.0,1139.0 L1806.2,1137.9 L1806.3,1136.8 L1806.5,1135.7 L1806.6,1134.7 L1806.8,1133.6 L1806.9,1132.5 L1807.0,1131.5 L1807.2,1130.4 L1807.3,1129.4 L1807.4,1128.4 L1807.6,1127.4 L1807.7,1126.4 L1807.8,1125.4 L1808.0,1123.9 L1808.2,1122.4 L1808.4,1121.0 L1808.6,1119.6 L1808.8,1118.2 L1809.0,1116.9 L1809.2,1115.6 L1809.3,1114.3 L1809.5,1113.1 L1809.7,1111.9 L1809.9,1110.7 L1810.1,1109.3 L1810.3,1107.9 L1810.6,1106.5 L1810.8,1105.3 L1811.0,1104.1 L1811.2,1102.9 L1811.4,1101.8 L1811.6,1100.7 L1811.8,1099.7 L1812.0,1098.3 L1812.3,1096.9 L1812.6,1095.6 L1812.9,1094.4 L1813.1,1093.2 L1813.4,1092.1 L1813.7,1091.1 L1814.0,1090.0 L1814.4,1088.5 L1814.9,1087.1 L1815.3,1085.7 L1815.8,1084.5 L1816.2,1083.4 L1816.9,1082.2 L1817.8,1081.4 L1818.7,1079.9 L1819.3,1082.7 L1819.8,1083.8 L1820.2,1084.9 L1820.6,1086.4 L1820.8,1087.7 L1821.1,1089.1 L1821.4,1090.8 L1821.7,1092.8 L1821.8,1093.9 L1822.0,1095.0 L1822.2,1096.3 L1822.3,1097.3 L1822.4,1098.4 L1822.6,1099.6 L1822.7,1100.8 L1822.9,1102.0 L1823.0,1103.3 L1823.2,1104.7 L1823.3,1106.1 L1823.5,1107.5 L1823.7,1109.0 L1823.8,1110.4 L1823.9,1111.5 L1824.0,1112.5 L1824.1,1113.5 L1824.2,1114.6 L1824.4,1115.6 L1824.5,1116.7 L1824.6,1117.8 L1824.7,1118.9 L1824.8,1119.9 L1824.9,1121.0 L1825.0,1122.1 L1825.1,1123.3 L1825.2,1124.4 L1825.3,1125.5 L1825.5,1126.6 L1825.6,1127.7 L1825.7,1128.8 L1825.8,1129.9 L1825.9,1131.1 L1826.0,1132.2 L1826.1,1133.3 L1826.2,1134.4 L1826.3,1135.5 L1826.4,1136.6 L1826.5,1137.7 L1826.6,1138.8 L1826.7,1139.8 L1826.8,1140.9 L1826.9,1142.0 L1827.0,1143.0 L1827.1,1144.1 L1827.2,1145.1 L1827.3,1146.1 L1827.4,1147.1 L1827.6,1148.6 L1827.7,1150.0 L1827.8,1151.0 L1827.9,1152.1 L1828.0,1153.1 L1828.1,1154.2 L1828.2,1155.2 L1828.3,1156.2 L1828.4,1157.3 L1828.5,1158.3 L1828.6,1159.3 L1828.7,1160.4 L1828.8,1161.4 L1828.8,1162.4 L1828.9,1163.5 L1829.0,1164.5 L1829.1,1165.5 L1829.2,1166.6 L1829.3,1167.6 L1829.4,1168.6 L1829.5,1169.6 L1829.6,1170.6 L1829.7,1171.7 L1829.7,1172.7 L1829.8,1173.7 L1829.9,1174.7 L1830.0,1175.7 L1830.1,1176.7 L1830.2,1177.7 L1830.3,1179.2 L1830.4,1180.7 L1830.5,1182.1 L1830.7,1183.6 L1830.8,1185.1 L1830.9,1186.5 L1831.0,1188.0 L1831.1,1189.4 L1831.3,1190.8 L1831.4,1192.2 L1831.5,1193.6 L1831.6,1195.0 L1831.7,1196.4 L1831.8,1197.8 L1831.9,1199.1 L1832.0,1200.6 L1832.1,1201.7 L1832.2,1202.7 L1832.3,1203.8 L1832.4,1204.9 L1832.5,1205.9 L1832.6,1207.0 L1832.6,1208.0 L1832.7,1209.1 L1832.8,1210.1 L1832.9,1211.1 L1832.9,1212.1 L1833.0,1213.1 L1833.1,1214.6 L1833.2,1216.0 L1833.3,1217.5 L1833.4,1218.9 L1833.5,1220.4 L1833.6,1221.8 L1833.8,1223.2 L1833.9,1224.7 L1834.0,1226.1 L1834.1,1227.5 L1834.2,1228.9 L1834.3,1230.4 L1834.4,1231.8 L1834.5,1233.2 L1834.6,1234.6 L1834.7,1236.1 L1834.8,1237.5 L1834.9,1239.0 L1835.0,1240.5 L1835.2,1242.0 L1835.3,1243.5 L1835.4,1244.9 L1835.5,1246.4 L1835.6,1247.9 L1835.6,1249.4 L1835.7,1250.9 L1835.8,1252.3 L1835.9,1253.8 L1836.0,1255.3 L1836.1,1256.8 L1836.2,1258.3 L1836.3,1259.8 L1836.4,1261.2 L1836.5,1262.7 L1836.6,1264.2 L1836.7,1265.7 L1836.8,1267.2 L1837.0,1268.6 L1837.1,1270.1 L1837.3,1271.6 L1837.4,1273.1 L1837.6,1274.6 L1837.8,1276.0 L1838.0,1277.5 L1838.2,1279.0 L1838.4,1280.5 L1838.6,1282.0 L1838.8,1283.0 L1838.9,1284.0 L1839.1,1285.0 L1839.3,1286.0 L1839.5,1287.1 L1839.7,1288.1 L1839.9,1289.2 L1840.1,1290.2 L1840.3,1291.3 L1840.5,1292.3 L1840.7,1293.4 L1840.9,1294.4 L1841.1,1295.5 L1841.3,1296.5 L1841.6,1297.6 L1841.8,1298.6 L1842.0,1299.7 L1842.3,1300.7 L1842.5,1301.8 L1842.7,1302.8 L1842.9,1303.8 L1843.2,1304.8 L1843.4,1305.8 L1843.6,1306.8 L1843.9,1307.8 L1844.2,1309.3 L1844.5,1310.7 L1844.9,1312.1 L1845.2,1313.5 L1845.5,1314.8 L1845.8,1316.1 L1846.1,1317.3 L1846.4,1318.5 L1846.7,1319.6 L1847.0,1320.7 L1847.3,1322.0 L1847.6,1323.3 L1847.9,1324.5 L1848.2,1325.6 L1848.5,1326.7 L1848.8,1327.7 L1849.2,1329.1 L1849.6,1330.4 L1850.0,1331.7 L1850.4,1332.9 L1850.8,1334.1 L1851.3,1335.3 L1851.7,1336.5 L1852.2,1337.7 L1852.7,1339.1 L1853.2,1340.5 L1853.7,1341.8 L1854.1,1342.8 L1854.4,1343.7 L1854.8,1344.7 L1855.2,1345.6 L1855.6,1346.6 L1856.0,1347.5 L1856.4,1348.5 L1856.8,1349.4 L1857.2,1350.4 L1857.6,1351.3 L1858.0,1352.2 L1858.5,1353.2 L1858.9,1354.1 L1859.5,1355.4 L1860.1,1356.7 L1860.7,1358.0 L1861.3,1359.2 L1862.0,1360.5 L1862.5,1361.5 L1863.0,1362.5 L1863.5,1363.4 L1864.0,1364.3 L1864.5,1365.2 L1865.0,1366.1 L1865.7,1367.4 L1866.5,1368.6 L1867.2,1369.8 L1868.0,1370.9 L1868.7,1372.1 L1869.5,1373.2 L1870.3,1374.4 L1870.9,1375.3 L1871.4,1376.1 L1872.0,1377.0 L1872.6,1377.8 L1873.4,1379.0 L1874.3,1380.2 L1875.2,1381.3 L1876.1,1382.4 L1877.0,1383.4 L1878.0,1384.4 L1879.1,1385.3 L1880.3,1386.2 L1881.5,1387.0 L1882.7,1387.9 L1884.0,1388.9 L1885.3,1388.8 L1886.7,1390.1 L1887.6,1388.3 L1888.6,1391.1 L1889.5,1391.1 L1890.8,1391.3 L1891.9,1391.3 L1893.0,1392.8 L1894.0,1392.3 L1895.1,1393.3 L1896.3,1393.1 L1897.6,1392.1 L1898.6,1394.1 L1899.7,1394.6 L1901.0,1395.2 L1902.4,1394.1 L1904.0,1395.0 L1905.0,1395.6 L1906.1,1395.3 L1907.2,1396.3 L1908.4,1397.0 L1909.6,1394.7 L1910.8,1394.0 L1912.0,1396.3 L1913.3,1396.9 L1914.7,1396.5 L1916.0,1396.5 L1917.4,1395.4 L1918.9,1395.3 L1920.4,1396.7 L1921.4,1395.3 L1922.4,1394.6 L1923.4,1395.3 L1924.5,1398.1 L1925.6,1397.6 L1926.7,1395.6 L1927.8,1395.6 L1928.9,1396.4 L1930.1,1395.6 L1931.3,1397.3 L1932.5,1396.2 L1933.7,1395.4 L1934.9,1397.4 L1936.1,1395.9 L1937.4,1396.5 L1938.7,1396.4 L1940.0,1396.1 L1941.2,1396.7 L1942.5,1395.9 L1943.8,1395.0 L1945.2,1394.7 L1946.6,1395.5 L1948.0,1395.9 L1949.5,1396.5 L1950.5,1396.6 L1951.5,1397.0 L1952.5,1396.6 L1953.6,1395.9 L1954.6,1396.0 L1955.7,1394.9 L1956.8,1396.4 L1957.9,1396.9 L1959.0,1397.0 L1960.1,1396.5 L1961.2,1396.4 L1962.3,1397.3 L1963.4,1396.6 L1964.5,1397.2 L1965.7,1397.0 L1966.8,1396.7 L1967.9,1397.6 L1969.0,1396.1 L1970.2,1396.3 L1971.3,1395.9 L1972.4,1395.9 L1973.5,1397.8 L1974.6,1398.0 L1975.7,1396.6 L1976.8,1397.0 L1977.9,1397.5 L1979.0,1397.2 L1980.1,1397.6 L1981.2,1395.6 L1982.3,1396.1 L1983.3,1397.0 L1984.3,1397.8 L1985.4,1396.7 L1986.4,1395.9 L1987.9,1396.4 L1989.3,1396.1 L1990.7,1396.0 L1992.1,1397.9 L1993.4,1396.2 L1994.7,1396.7 L1996.0,1398.4 L1997.1,1397.7 L1998.3,1397.0 L1999.3,1396.3 L2001.0,1397.2 L2002.7,1398.2 L2004.3,1397.4 L2005.8,1398.0 L2007.1,1397.2 L2008.3,1397.6 L2009.4,1397.1 L2010.8,1397.7 L2012.1,1398.5 L2013.2,1396.5 L2014.3,1397.7 L2015.6,1398.1 L2016.9,1397.7 L2018.0,1398.0 L2019.1,1399.0 L2020.5,1400.2 L2021.6,1399.2 L2022.7,1399.0 L2023.9,1397.7 L2025.0,1400.6 L2026.1,1399.2 L2027.3,1399.3 L2028.4,1398.5 L2029.5,1399.5 L2030.5,1398.8 L2031.6,1399.9 L2033.0,1400.4 L2034.3,1400.2 L2035.5,1400.5 L2036.7,1399.8 L2037.0,1401.6" fill="none" stroke="#464646" stroke-width="5.2" stroke-linejoin="round" stroke-linecap="round"/>
<path d="M339.0,1396.0 L340.0,1395.8 L341.1,1396.4 L342.3,1395.8 L343.6,1395.8 L344.9,1395.3 L345.9,1395.8 L346.9,1396.9 L348.0,1396.3 L349.1,1396.8 L350.3,1396.2 L351.5,1396.3 L352.7,1396.2 L353.9,1394.7 L355.2,1396.7 L356.5,1396.4 L357.8,1396.4 L359.2,1394.7 L360.6,1394.6 L362.0,1395.3 L363.4,1395.7 L364.9,1396.3 L366.3,1396.0 L367.8,1396.5 L368.8,1395.5 L369.8,1396.3 L370.9,1396.4 L371.9,1395.5 L372.9,1397.4 L374.0,1396.5 L375.0,1397.0 L376.1,1395.6 L377.2,1395.5 L378.2,1395.8 L379.3,1396.0 L380.4,1396.6 L381.5,1396.3 L382.6,1395.7 L383.7,1395.3 L384.8,1395.6 L385.9,1397.0 L387.1,1395.4 L388.2,1396.3 L389.3,1396.4 L390.5,1394.9 L391.6,1396.1 L392.7,1397.1 L393.9,1394.5 L395.0,1395.8 L396.2,1396.0 L397.3,1395.4 L398.5,1396.5 L399.6,1396.0 L400.8,1394.9 L402.0,1396.7 L403.1,1396.6 L404.3,1396.8 L405.5,1397.2 L406.6,1396.4 L407.8,1396.2 L409.0,1395.0 L410.1,1396.6 L411.3,1395.6 L412.5,1395.7 L413.6,1395.1 L414.8,1395.3 L416.0,1395.6 L417.1,1397.1 L418.3,1394.4 L419.4,1394.9 L420.6,1396.3 L421.7,1397.2 L422.9,1396.5 L424.0,1394.5 L425.2,1394.1 L426.3,1396.3 L427.5,1395.5 L428.6,1395.2 L429.7,1396.8 L430.8,1396.9 L432.0,1396.2 L433.1,1396.2 L434.2,1396.4 L435.3,1397.3 L436.4,1396.5 L437.5,1396.5 L438.5,1396.5 L439.6,1394.8 L440.7,1397.1 L441.8,1396.8 L442.8,1396.5 L443.9,1394.4 L444.9,1395.5 L445.9,1396.7 L447.0,1394.6 L448.0,1395.9 L449.0,1396.8 L450.0,1395.0 L451.0,1397.3 L452.0,1396.4 L453.0,1395.9 L454.0,1396.2 L455.0,1396.5 L456.0,1396.1 L457.1,1396.9 L458.1,1395.4 L459.1,1395.6 L460.1,1396.8 L461.1,1396.0 L462.1,1395.2 L463.2,1396.7 L464.2,1397.1 L465.2,1395.6 L466.2,1394.8 L467.3,1395.8 L468.3,1395.8 L469.3,1395.6 L470.4,1397.0 L471.4,1395.0 L472.4,1396.9 L473.5,1394.8 L474.5,1395.2 L475.5,1396.3 L476.6,1396.7 L477.6,1396.5 L478.7,1396.1 L479.7,1395.9 L480.7,1395.9 L481.8,1396.2 L482.8,1395.6 L483.9,1396.0 L484.9,1396.2 L485.9,1395.7 L487.0,1396.3 L488.0,1396.2 L489.1,1397.3 L490.1,1396.0 L491.1,1395.3 L492.2,1395.4 L493.2,1395.7 L494.3,1396.4 L495.3,1395.4 L496.3,1395.9 L497.4,1397.1 L498.4,1393.6 L499.5,1394.7 L500.5,1395.8 L501.5,1395.9 L502.6,1395.8 L503.6,1395.2 L504.6,1396.1 L505.7,1395.8 L506.7,1395.1 L507.7,1397.5 L508.7,1395.8 L509.8,1395.1 L510.8,1395.4 L511.8,1395.3 L512.8,1395.4 L513.8,1393.3 L514.9,1395.1 L515.9,1396.2 L516.9,1394.5 L517.9,1395.4 L518.9,1396.2 L519.9,1396.1 L520.9,1396.6 L521.9,1394.0 L522.9,1395.1 L524.4,1395.1 L525.9,1395.8 L527.4,1396.2 L528.9,1393.2 L530.4,1396.2 L531.8,1394.1 L533.3,1395.8 L534.8,1394.0 L536.2,1395.4 L537.6,1396.2 L539.1,1395.1 L540.5,1395.3 L541.9,1395.8 L543.3,1395.3 L544.7,1395.1 L546.1,1396.3 L547.5,1395.9 L548.9,1394.9 L550.3,1397.3 L551.6,1394.2 L553.0,1395.8 L554.3,1394.8 L555.6,1395.1 L557.0,1395.6 L558.3,1395.2 L559.6,1395.5 L560.6,1393.8 L561.8,1393.8 L562.9,1395.5 L564.1,1394.2 L565.3,1394.1 L566.5,1393.8 L567.6,1396.0 L568.8,1395.5 L570.0,1396.1 L571.1,1394.2 L572.3,1394.9 L573.4,1394.0 L574.6,1395.5 L575.7,1396.2 L576.9,1394.2 L578.0,1396.1 L579.2,1395.7 L580.3,1394.7 L581.4,1393.3 L582.6,1396.0 L583.7,1394.8 L584.8,1394.3 L585.9,1395.1 L587.1,1395.1 L588.2,1396.0 L589.3,1394.0 L590.4,1395.7 L591.5,1396.0 L592.6,1395.9 L593.7,1394.6 L594.7,1394.2 L595.8,1395.6 L596.9,1394.8 L597.9,1394.8 L599.0,1395.9 L600.1,1394.5 L601.1,1392.9 L602.2,1394.4 L603.2,1393.2 L604.2,1395.4 L605.3,1395.0 L606.3,1394.2 L607.3,1394.7 L608.3,1395.3 L609.3,1394.7 L610.8,1395.7 L612.3,1394.6 L613.7,1395.5 L615.2,1395.8 L616.6,1395.9 L618.0,1394.1 L619.4,1395.3 L620.8,1393.1 L622.1,1393.7 L623.4,1393.0 L624.8,1395.4 L626.1,1393.6 L627.3,1394.6 L628.6,1394.4 L629.8,1394.5 L631.1,1394.1 L632.3,1394.7 L633.4,1396.0 L634.6,1394.6 L635.7,1395.0 L636.8,1395.3 L637.9,1394.4 L639.0,1393.5 L640.0,1394.1 L641.8,1395.3 L643.4,1393.2 L645.1,1394.0 L646.6,1395.3 L648.1,1395.1 L649.5,1394.5 L650.8,1395.1 L652.1,1394.6 L653.3,1393.6 L654.4,1393.3 L655.5,1394.0 L656.6,1395.3 L658.1,1394.1 L659.4,1393.9 L660.7,1394.0 L661.9,1393.4 L663.1,1394.5 L664.1,1393.6 L665.1,1394.9 L666.4,1392.6 L667.7,1394.7 L668.8,1393.9 L670.0,1392.7 L671.2,1394.7 L672.9,1393.6 L673.9,1391.5 M680.1,1386.2 L681.3,1386.7 L682.4,1386.0 L683.8,1386.9 L685.2,1386.9 L686.3,1386.8 L687.3,1386.6 L688.4,1387.5 L689.5,1387.1 L690.6,1387.0 L691.6,1385.1 L692.7,1387.5 L694.1,1388.0 L695.6,1386.8 L696.6,1386.7 L697.7,1388.8 L699.1,1385.9 L700.5,1387.9 L701.9,1389.6 L703.2,1387.1 L704.5,1388.5 L706.0,1389.6 L707.1,1388.2 L708.2,1389.0 L709.3,1389.5 L710.3,1388.2 L711.3,1389.0 L712.7,1389.4 L713.9,1389.7 L715.2,1388.6 M749.2,1393.9 L750.4,1394.9 L752.1,1394.4 L754.3,1393.7 L757.0,1393.7 L758.1,1396.6 L759.3,1395.3 L760.6,1395.0 L761.6,1392.4 L762.7,1395.0 L763.8,1394.9 L764.9,1395.8 L766.1,1394.8 L767.3,1394.4 L768.6,1394.9 L769.8,1393.0 L771.2,1395.3 L772.5,1394.8 L773.9,1394.0 L775.3,1395.6 L776.7,1396.0 L778.2,1393.4 L779.7,1394.0 L780.7,1394.8 L781.7,1394.7 L782.7,1394.2 L783.7,1393.7 L784.8,1396.2 L785.8,1395.4 L786.9,1393.6 L788.0,1393.4 L789.0,1395.9 L790.1,1395.3 L791.2,1396.0 L792.3,1395.2 L793.4,1393.8 L794.5,1394.7 L795.6,1392.8 L796.7,1393.9 L797.9,1394.5 L799.0,1394.9 L800.1,1393.9 L801.3,1394.4 L802.4,1394.9 L803.6,1394.8 L804.7,1395.0 L805.9,1394.7 L807.0,1394.2 L808.2,1395.1 L809.3,1394.5 L810.5,1393.8 L811.6,1394.0 L812.8,1394.5 L813.9,1394.4 L815.1,1394.6 L816.2,1394.5 L817.4,1394.6 L818.5,1394.3 L819.7,1393.4 L820.8,1394.8 L822.0,1395.3 L823.1,1394.8 L824.3,1394.3 L825.4,1394.8 L826.5,1393.7 L827.6,1392.9 L828.8,1394.5 L829.9,1393.7 L831.0,1395.0 L832.1,1393.6 L833.2,1392.3 L834.3,1393.6 L835.3,1395.7 L836.4,1394.1 L837.5,1393.3 L838.5,1393.8 L839.6,1394.8 L840.6,1394.8 L841.7,1394.5 L842.7,1395.6 L843.7,1395.0 L844.7,1394.4 L846.2,1394.9 L847.6,1395.7 L849.1,1395.2 L850.5,1395.2 L851.6,1393.5 L852.7,1394.3 L853.8,1395.0 L854.9,1394.2 L856.0,1395.3 L857.1,1394.9 L858.2,1395.1 L859.4,1394.2 L860.5,1396.4 L861.6,1395.4 L862.7,1394.2 L863.9,1394.5 L865.0,1396.5 L866.2,1394.1 L867.3,1395.1 L868.5,1395.2 L869.6,1394.4 L870.7,1393.5 L871.9,1394.6 L873.0,1394.7 L874.2,1395.3 L875.3,1395.0 L876.5,1394.4 L877.6,1395.1 L878.8,1394.8 L879.9,1394.6 L881.1,1394.5 L882.2,1394.2 L883.4,1395.0 L884.5,1393.6 L885.6,1393.9 L886.8,1394.4 L887.9,1393.2 L889.0,1394.1 L890.1,1392.8 L891.2,1393.9 L892.3,1394.9 L893.4,1394.9 L894.5,1394.4 L895.6,1394.2 L896.7,1393.3 L897.8,1395.9 L898.8,1394.8 L899.9,1395.3 L901.0,1393.7 L902.0,1394.3 L903.0,1393.0 L904.1,1395.1 L905.1,1395.2 L906.1,1392.9 L907.6,1394.4 L909.0,1394.9 L910.5,1393.0 L911.9,1393.0 L913.3,1393.6 L914.6,1393.9 L916.0,1393.3 L917.3,1394.5 L918.5,1394.7 L919.8,1395.0 L921.0,1395.0 L922.1,1395.7 L923.2,1395.4 L924.3,1393.4 L925.4,1394.1 L926.4,1393.6 L927.7,1393.6 L928.9,1394.4 L930.0,1394.5 L932.6,1394.9 L934.7,1393.3 L936.2,1393.7 L937.3,1394.7 L938.4,1394.8 L937.4,1395.0 M1054.9,1393.6 L1056.5,1394.2 L1057.7,1392.2 L1059.2,1393.7 L1060.3,1394.6 L1061.3,1393.4 L1062.6,1394.7 L1063.8,1394.7 L1065.1,1393.5 L1066.1,1394.3 L1067.3,1394.3 L1068.5,1394.9 L1069.5,1394.9 L1070.6,1394.4 L1071.8,1393.7 L1073.1,1394.2 L1074.6,1394.3 L1075.6,1394.9 L1076.7,1394.5 L1077.8,1393.7 L1079.0,1393.1 L1080.3,1393.9 L1081.7,1393.6 L1083.1,1393.3 L1084.6,1394.0 L1086.2,1393.7 L1087.9,1394.2 L1089.7,1394.5 L1091.5,1393.7 L1093.5,1395.9 L1094.5,1393.8 L1095.6,1394.9 L1096.6,1394.1 L1097.7,1394.9 L1098.9,1392.1 L1100.0,1393.4 L1101.3,1394.2 L1102.6,1394.5 L1103.6,1395.9 L1104.7,1394.2 L1105.7,1395.0 L1106.8,1394.6 L1107.9,1394.7 L1109.1,1394.4 L1110.2,1393.8 L1111.4,1394.4 L1112.5,1393.1 L1113.7,1394.9 L1115.0,1393.1 L1116.2,1394.1 L1117.5,1395.6 L1118.7,1393.8 L1120.0,1393.9 L1121.3,1394.9 L1122.6,1393.9 L1124.0,1393.3 L1125.3,1394.1 L1126.7,1394.4 L1128.1,1394.5 L1129.5,1393.3 L1130.9,1395.3 L1132.3,1395.2 L1133.7,1393.9 L1135.2,1394.1 L1136.7,1393.6 L1138.1,1395.0 L1139.6,1393.3 L1141.1,1394.4 L1142.1,1393.5 L1143.1,1393.3 L1144.1,1394.5 L1145.2,1394.9 L1146.2,1393.9 L1147.2,1393.3 L1148.2,1394.5 L1149.3,1393.8 L1150.3,1394.1 L1151.4,1395.1 L1152.4,1394.8 L1153.5,1393.4 L1154.5,1395.7 L1155.6,1393.9 L1156.6,1394.5 L1157.7,1393.3 L1158.8,1393.8 L1159.8,1392.4 L1160.9,1395.3 L1162.0,1394.9 L1163.1,1392.9 L1164.2,1392.6 L1165.3,1392.5 L1166.3,1394.8 L1167.4,1393.5 L1168.5,1393.8 L1169.6,1393.6 L1170.7,1393.7 L1171.8,1393.0 L1172.9,1393.8 L1174.0,1392.7 L1175.1,1393.8 L1176.2,1394.1 L1177.3,1394.2 L1178.5,1393.6 L1179.6,1393.1 L1180.7,1393.9 L1181.8,1393.4 L1182.9,1395.1 L1184.0,1394.4 L1185.1,1393.7 L1186.3,1393.4 L1187.4,1393.2 L1188.5,1393.0 L1189.6,1393.5 L1190.7,1394.0 L1191.9,1394.2 L1193.0,1394.2 L1194.1,1395.5 L1195.2,1393.2 L1196.3,1393.8 L1197.4,1396.0 L1198.6,1392.3 L1199.7,1393.4 L1200.8,1393.9 L1201.9,1393.9 L1203.0,1394.1 L1204.1,1393.6 L1205.2,1394.1 L1206.4,1393.8 L1207.5,1394.4 L1208.6,1392.3 L1209.7,1393.1 L1210.8,1393.8 L1211.9,1392.9 L1213.0,1392.9 L1214.1,1394.3 L1215.2,1393.2 L1216.3,1394.3 L1217.4,1394.3 L1218.5,1394.0 L1219.5,1394.2 L1220.6,1393.7 L1221.7,1392.6 L1222.8,1393.7 L1223.9,1394.1 L1224.9,1393.3 L1226.0,1393.7 L1227.1,1394.3 L1228.1,1393.0 L1229.2,1394.2 L1230.3,1395.2 L1231.3,1393.3 L1232.4,1393.8 L1233.4,1393.6 L1234.4,1395.0 L1235.5,1394.0 L1236.5,1394.4 L1237.5,1393.2 L1238.6,1393.7 L1239.6,1393.7 L1240.6,1392.3 L1241.6,1394.9 L1242.6,1394.4 L1243.6,1392.3 L1245.1,1394.3 L1246.6,1393.6 L1248.1,1394.1 L1249.5,1394.0 L1251.0,1392.5 L1252.1,1393.5 L1253.1,1394.9 L1254.2,1393.2 L1255.2,1392.9 L1256.3,1392.6 L1257.3,1392.7 L1258.4,1394.0 L1259.5,1395.0 L1260.6,1394.0 L1261.6,1393.9 L1262.7,1395.5 L1263.8,1393.3 L1264.9,1393.1 L1266.0,1394.1 L1267.1,1394.1 L1268.2,1392.9 L1269.3,1392.7 L1270.4,1393.9 L1271.5,1393.9 L1272.6,1392.6 L1273.7,1393.5 L1274.9,1393.2 L1276.0,1394.0 L1277.1,1393.6 L1278.2,1393.6 L1279.4,1393.4 L1280.5,1394.5 L1281.6,1394.8 L1282.7,1393.4 L1283.9,1394.3 L1285.0,1393.1 L1286.1,1393.7 L1287.3,1394.3 L1288.4,1394.9 L1289.6,1393.4 L1290.7,1393.6 L1291.8,1393.8 L1293.0,1392.5 L1294.1,1393.7 L1295.3,1393.1 L1296.4,1394.0 L1297.5,1392.8 L1298.7,1392.1 L1299.8,1393.7 L1301.0,1393.9 L1302.1,1393.2 L1303.3,1394.4 L1304.4,1393.4 L1305.5,1393.2 L1306.7,1394.0 L1307.8,1392.4 L1308.9,1393.1 L1310.1,1393.6 L1311.2,1394.3 L1312.3,1393.5 L1313.5,1393.9 L1314.6,1393.1 L1315.7,1393.9 L1316.9,1395.0 L1318.0,1393.1 L1319.1,1395.5 L1320.2,1393.1 L1321.3,1393.7 L1322.5,1393.8 L1323.6,1394.5 L1324.7,1392.7 L1325.8,1392.0 L1326.9,1394.1 L1328.0,1394.3 L1329.1,1394.1 L1330.2,1395.7 L1331.3,1393.8 L1332.3,1393.8 L1333.4,1394.4 L1334.5,1393.9 L1335.6,1395.0 L1336.6,1392.6 L1337.7,1393.3 L1338.8,1390.9 L1339.8,1394.3 L1340.9,1393.3 L1341.9,1394.4 L1343.0,1395.4 L1344.0,1393.6 L1345.0,1393.4 L1346.0,1393.2 L1347.1,1393.0 L1348.1,1393.1 L1349.1,1394.1 L1350.1,1393.7 L1351.6,1393.7 L1353.1,1393.5 L1354.5,1394.4 L1356.0,1394.0 L1357.4,1393.5 L1358.8,1394.1 L1360.3,1393.5 L1361.6,1392.7 L1363.0,1394.8 L1364.4,1394.0 L1365.7,1392.8 L1367.0,1394.5 L1368.3,1393.9 L1369.6,1392.3 L1370.9,1394.9 L1372.1,1393.9 L1373.4,1394.3 L1374.6,1393.7 L1375.8,1393.5 L1376.9,1392.3 L1378.1,1394.3 L1379.2,1393.6 L1380.3,1393.3 L1381.4,1393.8 L1382.4,1393.6 L1383.5,1394.1 L1384.5,1393.2 L1385.8,1393.5 L1387.0,1391.8 L1388.3,1393.2 L1389.4,1394.0 L1392.1,1394.6 L1393.9,1393.2 L1395.7,1393.4 L1397.2,1394.7 L1398.7,1393.2 L1400.0,1394.0 L1401.1,1394.8 L1402.2,1393.4 L1403.9,1394.4 L1405.2,1392.8 L1406.5,1393.5 M1460.9,1391.9 L1462.2,1393.4 L1463.2,1392.5 L1464.3,1394.0 L1465.6,1394.3 L1466.6,1393.8 L1467.7,1394.6 L1468.8,1392.9 L1469.9,1394.8 L1471.4,1392.9 L1472.7,1393.5 L1474.4,1393.6 L1476.3,1393.7 L1477.5,1394.7 L1478.7,1394.1 L1480.0,1393.7 L1481.3,1394.4 L1482.3,1395.2 L1483.3,1394.0 L1484.4,1394.2 L1485.6,1394.9 L1486.8,1394.1 L1488.1,1392.9 L1489.4,1395.9 L1490.7,1395.6 L1492.1,1392.3 L1493.5,1393.8 L1495.0,1394.1 L1496.4,1394.6 L1497.4,1394.3 L1498.5,1393.5 L1499.5,1392.9 L1500.5,1393.8 L1501.6,1394.5 L1502.6,1392.8 L1503.7,1392.8 L1504.8,1393.6 L1505.9,1392.1 L1507.0,1393.4 L1508.1,1393.2 L1509.2,1393.9 L1510.3,1393.0 L1511.4,1392.8 L1512.5,1393.2 L1513.7,1393.5 L1514.8,1393.0 L1515.9,1393.5 L1517.1,1394.1 L1518.2,1394.4 L1519.3,1394.8 L1520.5,1392.8 L1521.6,1393.0 L1522.7,1391.4 L1523.9,1394.9 L1525.0,1392.7 L1526.1,1393.3 L1527.2,1393.7 L1528.4,1392.2 L1529.5,1393.6 L1530.6,1393.2 L1531.7,1391.8 L1532.8,1393.4 L1533.8,1394.1 L1534.9,1391.7 L1536.0,1393.8 L1537.0,1393.3 L1538.1,1393.5 L1539.1,1393.5 L1540.1,1394.2 L1541.1,1392.9 L1542.6,1393.8 L1544.1,1392.7 L1545.5,1393.6 L1546.9,1392.4 L1548.3,1392.9 L1549.6,1394.4 L1550.6,1393.4 L1551.8,1392.9 L1553.0,1392.1 L1554.1,1392.3 L1555.2,1393.1 L1556.4,1393.7 L1557.5,1393.3 L1558.6,1393.4 L1559.7,1392.9 L1560.7,1394.0 L1561.8,1392.6 L1562.9,1392.5 L1563.9,1393.7 L1564.9,1393.0 L1566.0,1392.7 L1567.0,1392.5 L1568.0,1392.7 L1569.5,1393.4 L1571.0,1393.2 L1572.4,1392.0 L1573.9,1393.3 L1575.3,1393.1 L1576.7,1392.2 L1578.1,1393.6 L1579.6,1392.8 L1581.0,1392.7 L1582.4,1393.6 L1583.8,1394.1 L1585.2,1392.5 L1586.6,1393.4 L1588.0,1392.3 L1589.4,1394.9 L1590.8,1392.6 L1592.2,1394.0 L1593.6,1392.5 L1595.1,1393.7 L1596.5,1394.8 L1598.0,1391.0 L1599.5,1392.7 L1601.0,1393.4 L1602.5,1392.9 L1604.0,1392.4 L1605.4,1394.7 L1606.9,1393.0 L1608.4,1391.6 L1609.9,1393.6 L1611.4,1391.5 L1612.9,1393.8 L1614.4,1392.4 L1615.8,1393.0 L1617.3,1393.9 L1618.8,1392.9 L1620.3,1391.7 L1621.8,1391.4 L1623.3,1393.7 L1624.8,1393.3 L1626.2,1392.1 L1627.7,1393.4 L1629.2,1393.1 L1630.7,1393.2 L1632.2,1390.9 L1633.7,1392.4 L1635.1,1393.3 L1636.6,1393.2 L1638.1,1393.3 L1639.6,1390.6 L1641.1,1392.7 L1642.6,1392.9 L1644.1,1394.6 L1645.5,1391.8 L1647.0,1392.3 L1648.5,1392.5 L1650.0,1393.2 L1651.0,1392.1 L1652.0,1393.4 L1653.0,1391.9 L1654.1,1392.7 L1655.1,1392.1 L1656.2,1392.6 L1657.2,1391.9 L1658.3,1391.2 L1659.4,1393.4 L1660.5,1392.7 L1661.5,1392.0 L1662.6,1392.6 L1663.7,1393.3 L1664.8,1391.7 L1665.9,1392.4 L1667.0,1392.9 L1668.1,1392.9 L1669.2,1392.2 L1670.3,1390.8 L1671.4,1393.5 L1672.5,1392.8 L1673.5,1392.5 L1674.6,1392.3 L1675.7,1392.7 L1676.8,1392.2 L1677.8,1391.7 L1678.9,1391.9 L1680.0,1392.1 L1681.0,1392.1 L1682.0,1391.6 L1683.1,1393.1 L1684.1,1391.5 L1685.1,1393.1 L1686.6,1391.7 L1688.1,1392.8 L1689.5,1393.7 L1690.9,1392.7 L1692.3,1392.0 L1693.6,1392.6 L1694.9,1392.7 L1696.2,1391.2 L1697.4,1392.0 L1698.5,1392.6 L1699.6,1392.1 L1700.8,1392.6 L1702.3,1393.1 L1703.8,1393.1 L1705.2,1393.2 L1706.4,1392.9 L1707.7,1392.2 L1708.8,1392.4 L1709.9,1392.2 L1710.9,1392.2 L1712.4,1392.3 L1713.7,1391.0 L1715.0,1392.1 L1716.1,1392.3 L1717.3,1391.4 L1718.4,1392.1 L1719.4,1392.3 L1720.5,1391.6 L1721.6,1393.2 L1722.8,1389.1 L1723.9,1390.7 L1725.0,1389.0 L1725.9,1390.8 L1727.2,1391.4 M1882.7,1387.9 L1884.0,1388.9 L1885.3,1388.8 L1886.7,1390.1 L1887.6,1388.3 L1888.6,1391.1 L1889.5,1391.1 L1890.8,1391.3 L1891.9,1391.3 L1893.0,1392.8 L1894.0,1392.3 L1895.1,1393.3 L1896.3,1393.1 L1897.6,1392.1 L1898.6,1394.1 L1899.7,1394.6 L1901.0,1395.2 L1902.4,1394.1 L1904.0,1395.0 L1905.0,1395.6 L1906.1,1395.3 L1907.2,1396.3 L1908.4,1397.0 L1909.6,1394.7 L1910.8,1394.0 L1912.0,1396.3 L1913.3,1396.9 L1914.7,1396.5 L1916.0,1396.5 L1917.4,1395.4 L1918.9,1395.3 L1920.4,1396.7 L1921.4,1395.3 L1922.4,1394.6 L1923.4,1395.3 L1924.5,1398.1 L1925.6,1397.6 L1926.7,1395.6 L1927.8,1395.6 L1928.9,1396.4 L1930.1,1395.6 L1931.3,1397.3 L1932.5,1396.2 L1933.7,1395.4 L1934.9,1397.4 L1936.1,1395.9 L1937.4,1396.5 L1938.7,1396.4 L1940.0,1396.1 L1941.2,1396.7 L1942.5,1395.9 L1943.8,1395.0 L1945.2,1394.7 L1946.6,1395.5 L1948.0,1395.9 L1949.5,1396.5 L1950.5,1396.6 L1951.5,1397.0 L1952.5,1396.6 L1953.6,1395.9 L1954.6,1396.0 L1955.7,1394.9 L1956.8,1396.4 L1957.9,1396.9 L1959.0,1397.0 L1960.1,1396.5 L1961.2,1396.4 L1962.3,1397.3 L1963.4,1396.6 L1964.5,1397.2 L1965.7,1397.0 L1966.8,1396.7 L1967.9,1397.6 L1969.0,1396.1 L1970.2,1396.3 L1971.3,1395.9 L1972.4,1395.9 L1973.5,1397.8 L1974.6,1398.0 L1975.7,1396.6 L1976.8,1397.0 L1977.9,1397.5 L1979.0,1397.2 L1980.1,1397.6 L1981.2,1395.6 L1982.3,1396.1 L1983.3,1397.0 L1984.3,1397.8 L1985.4,1396.7 L1986.4,1395.9 L1987.9,1396.4 L1989.3,1396.1 L1990.7,1396.0 L1992.1,1397.9 L1993.4,1396.2 L1994.7,1396.7 L1996.0,1398.4 L1997.1,1397.7 L1998.3,1397.0 L1999.3,1396.3 L2001.0,1397.2 L2002.7,1398.2 L2004.3,1397.4 L2005.8,1398.0 L2007.1,1397.2 L2008.3,1397.6 L2009.4,1397.1 L2010.8,1397.7 L2012.1,1398.5 L2013.2,1396.5 L2014.3,1397.7 L2015.6,1398.1 L2016.9,1397.7 L2018.0,1398.0 L2019.1,1399.0 L2020.5,1400.2 L2021.6,1399.2 L2022.7,1399.0 L2023.9,1397.7 L2025.0,1400.6 L2026.1,1399.2 L2027.3,1399.3 L2028.4,1398.5 L2029.5,1399.5 L2030.5,1398.8 L2031.6,1399.9 L2033.0,1400.4 L2034.3,1400.2 L2035.5,1400.5 L2036.7,1399.8 L2037.0,1401.6" fill="none" stroke="#464646" stroke-width="6.5" stroke-linejoin="round" stroke-linecap="round"/>
<path d="M339.0,1407.5 L340.0,1406.4 L341.2,1407.8 L342.3,1408.4 L343.6,1407.0 L344.9,1406.3 L346.0,1407.4 L347.1,1407.9 L348.2,1408.5 L349.3,1406.4 L350.5,1406.3 L351.7,1408.1 L353.0,1407.9 L354.3,1408.9 L355.6,1408.4 L356.9,1407.4 L358.3,1407.3 L359.7,1409.8 L361.1,1407.2 L362.5,1406.8 L364.0,1406.5 L365.5,1407.6 L366.5,1407.6 L367.5,1407.2 L368.6,1407.4 L369.6,1407.7 L370.6,1408.1 L371.7,1408.5 L372.8,1407.7 L373.8,1405.9 L374.9,1408.1 L376.0,1406.2 L377.1,1407.3 L378.2,1406.2 L379.3,1407.5 L380.4,1406.8 L381.5,1407.7 L382.6,1410.5 L383.7,1407.5 L384.9,1408.3 L386.0,1406.3 L387.2,1407.2 L388.3,1408.1 L389.4,1407.4 L390.6,1407.8 L391.8,1407.6 L392.9,1406.6 L394.1,1408.0 L395.2,1406.8 L396.4,1409.2 L397.6,1407.0 L398.7,1408.1 L399.9,1407.5 L401.1,1408.4 L402.3,1407.0 L403.4,1408.4 L404.6,1407.4 L405.8,1408.6 L406.9,1408.1 L408.1,1407.6 L409.3,1406.8 L410.4,1408.2 L411.6,1407.9 L412.8,1409.0 L413.9,1407.2 L415.1,1408.0 L416.3,1408.0 L417.4,1407.8 L418.6,1407.7 L419.7,1407.7 L420.8,1407.0 L422.0,1406.6 L423.1,1407.1 L424.2,1408.0 L425.4,1408.9 L426.5,1408.4 L427.6,1408.4 L428.7,1408.2 L429.8,1408.1 L430.9,1407.7 L432.0,1408.2 L433.1,1409.1 L434.1,1407.2 L435.2,1406.9 L436.2,1409.3 L437.3,1407.7 L438.3,1408.4 L439.4,1408.3 L440.4,1406.5 L441.4,1409.7 L442.4,1409.1 L443.9,1407.7 L445.3,1408.2 L446.8,1407.6 L448.2,1406.7 L449.5,1407.4 L450.6,1407.8 L451.7,1408.5 L452.8,1408.1 L453.9,1407.6 L455.1,1408.7 L456.2,1406.8 L457.3,1408.2 L458.5,1408.5 L459.6,1407.2 L460.8,1405.9 L461.9,1406.7 L463.1,1407.7 L464.2,1408.0 L465.4,1408.9 L466.6,1406.6 L467.7,1407.5 L468.9,1408.1 L470.0,1407.4 L471.2,1405.4 L472.4,1408.3 L473.5,1409.6 L474.7,1408.4 L475.9,1406.7 L477.0,1407.2 L478.2,1407.8 L479.3,1409.8 L480.5,1408.1 L481.6,1407.7 L482.8,1409.0 L483.9,1407.5 L485.1,1409.3 L486.2,1407.0 L487.4,1407.2 L488.5,1408.2 L489.7,1408.9 L490.8,1408.2 L491.9,1407.9 L493.0,1406.0 L494.2,1407.0 L495.3,1407.1 L496.4,1407.1 L497.5,1408.1 L498.6,1407.3 L499.7,1408.3 L500.8,1407.7 L501.9,1407.3 L502.9,1407.7 L504.0,1408.0 L505.1,1408.4 L506.1,1407.2 L507.2,1407.4 L508.2,1406.4 L509.2,1409.1 L510.3,1408.9 L511.3,1407.5 L512.3,1407.2 L513.8,1406.5 L515.3,1407.8 L516.7,1407.8 L518.1,1409.6 L519.5,1407.9 L520.9,1406.9 L522.3,1405.4 L523.6,1408.9 L524.9,1407.8 L526.2,1406.2 L527.5,1407.8 L528.7,1406.2 L529.9,1410.7 L531.0,1408.6 L532.2,1408.1 L533.3,1407.4 L534.3,1405.7 L535.4,1407.5 L536.7,1406.2 L538.0,1408.1 L539.1,1405.6 L542.2,1406.6 L544.1,1408.5 L545.6,1408.8 L546.9,1406.3 L547.9,1405.9 L549.3,1408.0 L549.3,1406.1 L550.4,1405.3 L551.6,1404.4 L552.3,1403.7 L553.1,1402.9 L553.8,1402.0 L554.6,1401.2 L555.3,1400.4 L556.0,1399.6 L557.1,1398.7 L558.3,1398.9 L559.4,1397.1 L560.5,1397.8 L561.6,1399.2 L562.4,1399.9 L563.1,1400.7 L563.9,1401.5 L564.6,1402.3 L565.4,1403.1 L566.3,1403.9 L567.1,1404.5 L568.0,1404.4 L569.0,1404.5 L569.9,1406.2 L570.9,1406.1 L572.0,1408.1 L573.1,1407.7 L574.5,1409.1 L576.3,1407.3 L577.4,1407.3 L578.6,1406.6 L580.0,1407.4 L581.3,1406.4 L582.3,1406.0 L583.4,1408.2 L584.6,1408.9 L585.9,1408.4 L587.2,1408.8 L588.6,1407.9 L590.0,1407.0 L591.5,1407.8 L592.5,1407.4 L593.5,1406.7 L594.5,1406.2 L595.6,1406.4 L596.7,1407.7 L597.8,1407.8 L598.9,1407.3 L600.0,1409.0 L601.1,1407.9 L602.3,1408.2 L603.4,1408.8 L604.6,1407.0 L605.7,1405.9 L606.9,1408.4 L608.1,1407.1 L609.2,1408.9 L610.4,1408.0 L611.6,1408.6 L612.8,1408.4 L614.0,1405.8 L615.1,1408.3 L616.3,1407.1 L617.4,1407.0 L618.6,1407.3 L619.8,1408.3 L620.9,1408.4 L622.0,1408.5 L623.1,1406.1 L624.2,1407.1 L625.3,1405.5 L626.4,1407.5 L627.5,1408.1 L628.5,1406.9 L629.5,1407.8 L630.5,1407.8 L632.0,1408.5 L633.4,1406.8 L634.8,1406.8 L636.1,1406.8 L637.4,1409.1 L638.5,1408.5 L639.6,1407.4 L640.8,1407.7 L642.5,1407.6 L644.0,1407.7 L645.5,1407.3 L646.9,1407.2 L648.2,1406.4 L649.5,1406.9 L650.7,1409.0 L651.8,1408.0 L652.8,1407.6 L653.9,1407.3 L655.3,1407.6 L656.6,1407.8 L657.8,1406.9 L658.9,1407.6 L660.0,1407.6 L661.3,1406.6 L662.5,1406.5 L663.7,1406.1 L665.0,1405.9 L666.4,1407.5 L667.5,1404.1 L667.7,1404.8 L668.0,1403.0 L668.3,1401.7 L668.5,1400.6 L668.6,1399.3 L668.8,1397.9 L669.0,1396.5 L669.1,1395.4 L669.2,1394.4 L669.3,1393.3 L669.4,1392.2 L669.5,1391.1 L669.6,1390.0 L669.7,1388.9 L669.8,1387.8 L669.9,1386.7 L670.0,1385.6 L670.1,1384.5 L670.2,1383.4 L670.3,1382.4 L670.4,1380.9 L670.5,1379.5 L670.6,1378.4 L670.7,1377.4 L670.8,1376.3 L670.8,1375.2 L670.9,1374.2 L671.0,1373.1 L671.0,1372.0 L671.1,1371.0 L671.1,1370.0 L671.2,1368.9 L671.2,1367.9 L671.3,1366.5 L671.4,1365.0 L671.5,1363.7 L671.7,1362.4 L671.8,1361.1 L672.0,1360.0 L672.3,1358.7 L672.6,1357.6 L672.9,1356.7 L673.5,1355.4 L674.1,1354.3 L674.7,1353.2 L675.3,1352.0 L675.8,1350.5 L676.2,1349.2 L676.5,1348.0 L676.8,1346.9 L677.1,1345.7 L677.4,1344.4 L677.7,1343.1 L678.0,1341.6 L678.2,1340.6 L678.3,1339.5 L678.5,1338.3 L678.7,1337.1 L678.9,1335.7 L679.0,1334.6 L679.2,1333.5 L679.3,1332.2 L679.5,1331.0 L679.6,1329.6 L679.8,1328.3 L679.9,1326.9 L680.1,1325.4 L680.2,1323.9 L680.3,1322.9 L680.4,1321.9 L680.5,1320.9 L680.6,1319.8 L680.7,1318.8 L680.8,1317.7 L680.9,1316.7 L681.0,1315.6 L681.1,1314.5 L681.2,1313.5 L681.3,1312.4 L681.4,1311.3 L681.5,1310.3 L681.6,1309.2 L681.7,1308.1 L681.8,1307.1 L681.9,1306.0 L682.0,1305.0 L682.1,1303.6 L682.3,1302.2 L682.4,1300.7 L682.6,1299.3 L682.7,1297.8 L682.9,1296.3 L683.1,1294.9 L683.2,1293.4 L683.4,1291.9 L683.5,1290.4 L683.6,1289.4 L683.8,1288.4 L683.9,1287.4 L684.0,1286.4 L684.1,1285.4 L684.2,1284.4 L684.3,1283.4 L684.4,1282.4 L684.5,1281.4 L684.6,1280.4 L684.7,1279.4 L684.8,1278.4 L684.9,1277.5 L685.0,1276.5 L685.1,1275.0 L685.3,1273.5 L685.4,1272.0 L685.5,1270.5 L685.7,1269.0 L685.8,1267.5 L685.9,1266.1 L686.0,1265.1 L686.1,1264.1 L686.1,1263.1 L686.2,1262.1 L686.3,1261.1 L686.4,1260.1 L686.4,1259.1 L686.5,1258.1 L686.6,1257.1 L686.7,1256.1 L686.8,1254.6 L686.9,1253.1 L687.0,1251.6 L687.1,1250.1 L687.2,1248.6 L687.3,1247.2 L687.4,1245.7 L687.6,1244.2 L687.7,1242.8 L687.8,1241.4 L687.9,1239.9 L688.0,1238.5 L688.1,1237.4 L688.2,1236.4 L688.3,1235.3 L688.4,1234.2 L688.5,1233.2 L688.6,1232.1 L688.7,1231.0 L688.8,1229.9 L688.9,1228.8 L689.0,1227.7 L689.1,1226.6 L689.2,1225.6 L689.3,1224.5 L689.4,1223.4 L689.5,1222.4 L689.6,1221.4 L689.7,1220.3 L689.8,1219.3 L689.9,1217.8 L690.1,1216.4 L690.2,1215.0 L690.4,1213.7 L690.5,1212.4 L690.7,1211.2 L690.8,1210.1 L691.0,1209.0 L691.3,1207.4 L691.5,1205.9 L691.8,1204.5 L692.1,1203.2 L692.3,1202.0 L692.6,1200.9 L693.0,1199.6 L693.5,1198.5 L694.1,1197.7 L695.1,1197.6 L695.8,1198.8 L696.3,1200.0 L696.7,1201.4 L697.1,1202.5 L697.4,1203.8 L697.7,1205.1 L698.0,1206.6 L698.3,1208.2 L698.6,1209.3 L698.7,1210.4 L698.9,1211.6 L699.1,1212.8 L699.3,1214.1 L699.5,1215.5 L699.6,1216.9 L699.8,1218.3 L700.0,1219.8 L700.1,1220.8 L700.2,1221.9 L700.3,1222.9 L700.4,1224.0 L700.6,1225.0 L700.7,1226.1 L700.8,1227.2 L700.9,1228.3 L701.0,1229.4 L701.1,1230.4 L701.2,1231.5 L701.3,1232.6 L701.4,1233.7 L701.6,1234.8 L701.7,1235.8 L701.8,1236.9 L701.9,1238.0 L702.0,1239.0 L702.1,1240.4 L702.3,1241.8 L702.4,1243.3 L702.6,1244.7 L702.7,1246.2 L702.9,1247.7 L703.0,1249.1 L703.2,1250.6 L703.3,1252.1 L703.4,1253.6 L703.6,1255.1 L703.7,1256.1 L703.8,1257.1 L703.9,1258.1 L704.0,1259.1 L704.1,1260.1 L704.2,1261.1 L704.2,1262.1 L704.3,1263.1 L704.4,1264.1 L704.5,1265.1 L704.6,1266.1 L704.7,1267.0 L704.9,1268.5 L705.0,1270.0 L705.2,1271.5 L705.3,1273.0 L705.4,1274.5 L705.6,1275.9 L705.7,1277.4 L705.9,1278.9 L706.0,1280.4 L706.2,1281.9 L706.3,1283.3 L706.4,1284.8 L706.6,1286.3 L706.7,1287.8 L706.9,1289.2 L707.0,1290.7 L707.2,1292.2 L707.3,1293.7 L707.5,1295.1 L707.6,1296.6 L707.8,1298.1 L707.9,1299.6 L708.1,1301.1 L708.2,1302.5 L708.4,1304.0 L708.6,1305.5 L708.7,1307.0 L708.9,1308.5 L709.0,1309.5 L709.1,1310.5 L709.2,1311.4 L709.4,1312.4 L709.5,1313.4 L709.6,1314.4 L709.7,1315.4 L709.9,1316.4 L710.0,1317.4 L710.1,1318.4 L710.2,1319.4 L710.4,1320.4 L710.5,1321.4 L710.6,1322.4 L710.7,1323.4 L710.9,1324.4 L711.1,1325.9 L711.2,1327.4 L711.4,1328.9 L711.6,1330.3 L711.8,1331.8 L712.0,1333.2 L712.1,1334.7 L712.3,1336.1 L712.4,1337.5 L712.6,1339.0 L712.7,1340.1 L712.8,1341.2 L712.9,1342.3 L713.1,1343.3 L713.2,1344.4 L713.3,1345.6 L713.4,1346.7 L713.5,1347.8 L713.6,1348.9 L713.7,1350.0 L713.8,1351.1 L713.9,1352.2 L714.0,1353.3 L714.1,1354.4 L714.2,1355.4 L714.3,1356.5 L714.4,1357.5 L714.5,1358.5 L714.6,1360.0 L714.8,1361.4 L714.9,1362.7 L715.0,1364.0 L715.2,1365.2 L715.3,1366.3 L715.4,1367.4 L715.7,1369.2 L715.8,1370.2 L716.1,1372.0 L716.4,1373.3 L716.8,1374.5 L717.8,1374.2 L718.3,1373.6 L718.6,1372.3 L718.9,1371.2 L719.1,1370.1 L719.3,1368.9 L719.6,1367.6 L719.8,1366.3 L720.0,1365.0 L720.2,1363.8 L720.4,1362.6 L720.5,1361.4 L720.7,1360.1 L720.9,1358.7 L721.0,1357.3 L721.2,1355.8 L721.3,1354.8 L721.4,1353.7 L721.5,1352.7 L721.7,1351.6 L721.8,1350.4 L721.9,1349.2 L722.0,1348.0 L722.1,1346.8 L722.2,1345.6 L722.3,1344.3 L722.5,1343.1 L722.6,1341.9 L722.7,1340.6 L722.8,1339.3 L722.9,1338.0 L723.0,1336.6 L723.2,1335.2 L723.3,1333.7 L723.4,1332.6 L723.4,1331.6 L723.5,1330.5 L723.6,1329.3 L723.7,1328.2 L723.8,1326.9 L723.9,1325.7 L724.0,1324.4 L724.1,1323.0 L724.2,1321.6 L724.3,1320.4 L724.4,1319.2 L724.5,1318.0 L724.5,1316.7 L724.6,1315.4 L724.7,1314.1 L724.8,1312.7 L724.9,1311.3 L725.0,1309.9 L725.1,1308.4 L725.2,1306.9 L725.3,1305.4 L725.4,1304.4 L725.5,1303.4 L725.5,1302.4 L725.6,1301.4 L725.7,1300.3 L725.8,1299.3 L725.8,1298.2 L725.9,1297.2 L726.0,1296.1 L726.0,1295.1 L726.1,1294.0 L726.2,1292.9 L726.3,1291.9 L726.3,1290.8 L726.4,1289.7 L726.5,1288.7 L726.5,1287.6 L726.6,1286.5 L726.7,1285.5 L726.7,1284.4 L726.8,1283.3 L726.9,1282.3 L726.9,1281.2 L727.0,1280.2 L727.1,1279.1 L727.1,1278.1 L727.2,1277.1 L727.3,1276.0 L727.3,1275.0 L727.4,1274.0 L727.4,1273.0 L727.5,1271.5 L727.6,1270.5 L727.6,1269.5 L727.7,1268.5 L727.8,1267.5 L727.8,1266.5 L727.9,1265.4 L727.9,1264.4 L728.0,1263.4 L728.0,1262.4 L728.1,1261.4 L728.1,1260.3 L728.2,1259.3 L728.2,1258.3 L728.3,1257.3 L728.3,1256.3 L728.4,1255.2 L728.4,1254.2 L728.5,1253.2 L728.5,1252.2 L728.6,1251.1 L728.6,1250.1 L728.7,1249.1 L728.7,1248.1 L728.8,1247.1 L728.8,1246.0 L728.9,1245.0 L728.9,1244.0 L729.0,1243.0 L729.0,1242.0 L729.1,1241.0 L729.1,1240.0 L729.2,1239.0 L729.2,1237.5 L729.3,1236.0 L729.4,1234.5 L729.5,1233.0 L729.5,1231.6 L729.6,1230.1 L729.7,1228.7 L729.8,1227.3 L729.8,1225.9 L729.9,1224.5 L730.0,1223.1 L730.0,1222.1 L730.1,1221.0 L730.1,1219.9 L730.2,1218.8 L730.3,1217.7 L730.3,1216.6 L730.4,1215.5 L730.4,1214.4 L730.5,1213.3 L730.6,1212.2 L730.6,1211.1 L730.7,1210.0 L730.7,1208.9 L730.8,1207.9 L730.8,1206.8 L730.9,1205.7 L731.0,1204.6 L731.0,1203.6 L731.1,1202.5 L731.1,1201.5 L731.2,1200.4 L731.3,1199.4 L731.3,1198.4 L731.4,1197.3 L731.4,1196.3 L731.5,1194.8 L731.6,1193.4 L731.7,1192.0 L731.8,1190.5 L731.9,1189.2 L732.0,1187.8 L732.1,1186.5 L732.2,1185.3 L732.2,1184.0 L732.3,1182.9 L732.4,1181.7 L732.6,1180.2 L732.7,1178.7 L732.9,1177.2 L733.0,1175.7 L733.1,1174.3 L733.3,1172.9 L733.4,1171.6 L733.6,1170.3 L733.7,1169.1 L733.9,1168.0 L734.0,1166.9 L734.3,1165.5 L734.5,1164.3 L734.7,1163.3 L735.1,1162.3 L735.9,1162.8 L736.3,1164.0 L736.5,1165.1 L736.7,1166.4 L736.9,1167.4 L737.1,1168.5 L737.2,1169.7 L737.4,1170.9 L737.5,1172.2 L737.7,1173.6 L737.9,1175.0 L738.0,1176.5 L738.2,1177.9 L738.3,1179.5 L738.5,1181.0 L738.6,1182.1 L738.7,1183.3 L738.8,1184.5 L738.9,1185.7 L739.0,1187.0 L739.2,1188.3 L739.3,1189.6 L739.4,1191.0 L739.5,1192.4 L739.6,1193.9 L739.7,1195.3 L739.8,1196.8 L739.9,1197.8 L740.0,1198.9 L740.0,1199.9 L740.1,1200.9 L740.2,1202.0 L740.3,1203.0 L740.3,1204.1 L740.4,1205.2 L740.5,1206.2 L740.5,1207.3 L740.6,1208.4 L740.7,1209.5 L740.8,1210.6 L740.8,1211.7 L740.9,1212.8 L741.0,1213.9 L741.0,1215.0 L741.1,1216.1 L741.2,1217.1 L741.2,1218.2 L741.3,1219.3 L741.4,1220.4 L741.4,1221.5 L741.5,1222.6 L741.6,1224.0 L741.7,1225.4 L741.7,1226.8 L741.8,1228.2 L741.9,1229.7 L742.0,1231.1 L742.1,1232.6 L742.1,1234.0 L742.2,1235.5 L742.3,1237.0 L742.4,1238.5 L742.4,1239.5 L742.5,1240.5 L742.5,1241.5 L742.6,1242.5 L742.6,1243.5 L742.7,1244.5 L742.7,1245.5 L742.8,1246.5 L742.8,1247.6 L742.9,1248.6 L742.9,1249.6 L743.0,1250.6 L743.0,1251.6 L743.1,1252.7 L743.1,1253.7 L743.2,1254.7 L743.2,1255.7 L743.3,1256.8 L743.3,1257.8 L743.4,1258.8 L743.4,1259.8 L743.5,1260.9 L743.5,1261.9 L743.6,1262.9 L743.6,1263.9 L743.7,1264.9 L743.7,1266.0 L743.7,1267.0 L743.8,1268.0 L743.8,1269.0 L743.9,1270.0 L743.9,1271.0 L744.0,1272.0 L744.1,1273.5 L744.1,1275.0 L744.2,1276.0 L744.2,1277.0 L744.3,1278.0 L744.3,1279.0 L744.4,1280.0 L744.4,1281.0 L744.5,1282.0 L744.5,1283.1 L744.6,1284.1 L744.6,1285.1 L744.7,1286.1 L744.7,1287.1 L744.8,1288.1 L744.8,1289.2 L744.9,1290.2 L744.9,1291.2 L745.0,1292.2 L745.0,1293.2 L745.1,1294.3 L745.1,1295.3 L745.2,1296.3 L745.2,1297.3 L745.2,1298.3 L745.3,1299.3 L745.3,1300.3 L745.4,1301.3 L745.4,1302.3 L745.5,1303.3 L745.6,1304.8 L745.6,1306.3 L745.7,1307.8 L745.8,1309.3 L745.9,1310.7 L745.9,1312.2 L746.0,1313.6 L746.1,1315.1 L746.2,1316.5 L746.3,1317.9 L746.4,1319.3 L746.4,1320.7 L746.5,1322.1 L746.6,1323.2 L746.7,1324.3 L746.7,1325.4 L746.8,1326.5 L746.9,1327.5 L747.0,1328.6 L747.0,1329.7 L747.1,1330.7 L747.2,1331.8 L747.2,1332.8 L747.3,1333.9 L747.4,1334.9 L747.5,1336.0 L747.5,1337.0 L747.6,1338.1 L747.7,1339.1 L747.8,1340.1 L747.8,1341.1 L747.9,1342.1 L748.0,1343.1 L748.1,1344.1 L748.2,1345.6 L748.3,1347.1 L748.4,1348.6 L748.6,1350.0 L748.7,1351.4 L748.8,1352.9 L748.9,1354.2 L749.1,1355.6 L749.2,1357.0 L749.3,1358.3 L749.4,1359.6 L749.6,1360.9 L749.7,1362.2 L749.9,1363.6 L750.0,1364.8 L750.1,1366.0 L750.3,1367.2 L750.4,1368.4 L750.5,1369.5 L750.7,1370.7 L750.8,1371.8 L751.0,1372.9 L751.1,1374.0 L751.2,1375.1 L751.4,1376.1 L751.5,1377.2 L751.7,1378.2 L751.8,1379.2 L752.1,1380.7 L752.3,1382.1 L752.5,1383.5 L752.7,1384.8 L753.0,1386.1 L753.2,1387.3 L753.4,1388.5 L753.7,1389.6 L753.9,1390.7 L754.2,1391.8 L754.6,1393.2 L754.9,1394.5 L755.3,1395.6 L755.6,1396.5 L756.2,1397.7 L756.8,1398.7 L757.5,1399.6 L758.3,1400.4 L759.3,1401.3 L759.7,1402.4 L760.1,1403.3 L761.4,1403.0 L762.9,1403.8 L763.9,1404.8 L765.1,1403.9 L766.5,1403.7 L768.1,1403.4 L770.0,1403.9 L771.2,1404.9 L772.5,1403.7 L773.5,1403.1 L774.5,1403.0 L775.6,1403.1 L776.8,1402.9 L778.0,1405.1 L779.2,1404.5 L780.5,1404.0 L781.8,1405.5 L783.2,1403.6 L784.6,1404.9 L786.0,1404.9 L787.4,1402.8 L788.9,1402.8 L789.9,1403.4 L790.9,1405.0 L791.9,1405.4 L793.0,1403.1 L794.0,1405.2 L795.1,1403.9 L796.1,1403.9 L797.2,1403.7 L798.3,1403.9 L799.4,1402.6 L800.5,1403.3 L801.6,1403.1 L802.7,1404.6 L803.8,1406.1 L804.9,1406.7 L806.1,1403.9 L807.2,1402.6 L808.3,1403.8 L809.5,1403.3 L810.6,1406.0 L811.8,1404.7 L812.9,1403.5 L814.0,1405.0 L815.2,1404.6 L816.3,1402.7 L817.5,1403.7 L818.6,1403.9 L819.8,1404.1 L820.9,1404.2 L822.1,1403.8 L823.2,1404.3 L824.4,1403.6 L825.5,1403.3 L826.6,1405.4 L827.8,1404.4 L828.9,1404.5 L830.0,1402.6 L831.1,1403.9 L832.2,1404.8 L833.3,1402.9 L834.4,1405.0 L835.5,1403.7 L836.6,1404.4 L837.6,1403.9 L838.7,1404.2 L839.7,1405.1 L840.8,1403.7 L841.8,1405.4 L842.8,1403.3 L843.8,1403.2 L845.3,1404.6 L846.7,1403.0 L848.2,1403.7 L849.5,1404.8 L850.6,1405.1 L851.7,1402.4 L852.8,1404.5 L853.9,1405.7 L855.1,1405.1 L856.2,1403.8 L857.4,1403.5 L858.5,1403.7 L859.7,1403.0 L860.8,1403.8 L862.0,1403.9 L863.1,1403.9 L864.3,1405.1 L865.4,1403.8 L866.6,1402.7 L867.7,1405.0 L868.9,1403.1 L870.1,1403.7 L871.2,1404.0 L872.4,1403.8 L873.5,1403.2 L874.7,1403.9 L875.8,1406.1 L876.9,1403.6 L878.1,1404.0 L879.2,1405.1 L880.3,1404.8 L881.4,1404.8 L882.6,1404.9 L883.7,1402.4 L884.8,1403.4 L885.9,1404.3 L886.9,1404.6 L888.0,1405.3 L889.1,1404.6 L890.1,1404.0 L891.2,1404.2 L892.2,1404.0 L893.2,1404.4 L894.3,1404.8 L895.3,1403.9 L896.7,1403.5 L898.2,1403.4 L899.6,1405.2 L901.0,1405.3 L902.4,1405.1 L903.7,1404.9 L905.0,1404.9 L906.2,1404.2 L907.4,1404.7 L908.6,1403.2 L909.7,1403.9 L910.8,1403.4 L911.9,1404.7 L913.2,1403.5 L914.4,1403.9 L916.8,1404.3 L918.3,1405.1 L919.6,1403.1 L920.6,1403.0 L922.0,1404.5 L923.1,1402.5 L923.2,1402.5 L924.0,1401.5 L924.9,1400.7 L925.7,1399.7 L926.6,1398.6 L927.4,1397.4 L928.0,1396.5 L928.6,1395.6 L929.1,1394.7 L929.6,1393.8 L930.1,1392.8 L930.6,1391.9 L931.1,1390.9 L931.6,1390.0 L932.0,1389.0 L932.5,1387.8 L933.0,1386.6 L933.5,1385.4 L933.9,1384.3 L934.3,1383.1 L934.7,1381.8 L935.1,1380.4 L935.5,1379.0 L935.7,1377.9 L935.9,1376.8 L936.1,1375.6 L936.4,1374.4 L936.6,1373.0 L936.8,1371.9 L937.0,1370.7 L937.1,1369.4 L937.3,1368.1 L937.5,1366.7 L937.6,1365.3 L937.8,1363.8 L937.9,1362.4 L938.0,1361.4 L938.1,1360.3 L938.2,1359.3 L938.3,1358.3 L938.4,1357.2 L938.5,1356.2 L938.6,1355.1 L938.7,1354.0 L938.8,1353.0 L938.9,1351.9 L939.0,1350.8 L939.1,1349.8 L939.1,1348.7 L939.2,1347.7 L939.3,1346.6 L939.4,1345.6 L939.5,1344.5 L939.6,1343.5 L939.7,1342.5 L939.8,1341.5 L939.9,1340.0 L940.0,1338.6 L940.1,1337.2 L940.3,1335.8 L940.4,1334.4 L940.5,1333.0 L940.6,1331.7 L940.7,1330.3 L940.8,1329.0 L940.9,1327.6 L941.0,1326.2 L941.1,1324.8 L941.2,1323.4 L941.3,1322.0 L941.5,1320.5 L941.5,1319.5 L941.6,1318.5 L941.7,1317.5 L941.7,1316.4 L941.8,1315.3 L941.9,1314.3 L941.9,1313.1 L942.0,1312.0 L942.1,1310.8 L942.2,1309.6 L942.2,1308.6 L942.3,1307.3 L942.4,1306.0 L942.5,1304.7 L942.5,1303.4 L942.6,1302.0 L942.7,1300.6 L942.8,1299.2 L942.8,1297.7 L942.9,1296.3 L943.0,1294.8 L943.1,1293.3 L943.1,1292.3 L943.2,1291.3 L943.2,1290.3 L943.3,1289.3 L943.3,1288.3 L943.4,1287.2 L943.4,1286.2 L943.5,1285.2 L943.5,1284.1 L943.6,1283.1 L943.6,1282.0 L943.7,1281.0 L943.7,1280.0 L943.8,1278.9 L943.8,1277.9 L943.9,1276.8 L943.9,1275.8 L944.0,1274.7 L944.0,1273.7 L944.1,1272.7 L944.1,1271.6 L944.2,1270.6 L944.2,1269.6 L944.3,1268.5 L944.3,1267.5 L944.4,1266.5 L944.4,1265.5 L944.5,1264.5 L944.5,1263.5 L944.6,1262.0 L944.6,1260.5 L944.7,1259.0 L944.7,1257.5 L944.8,1256.1 L944.9,1254.7 L944.9,1253.2 L945.0,1251.8 L945.0,1250.4 L945.1,1249.0 L945.1,1247.6 L945.2,1246.2 L945.2,1244.8 L945.3,1243.4 L945.3,1242.0 L945.4,1240.6 L945.4,1239.2 L945.5,1237.8 L945.5,1236.4 L945.6,1234.9 L945.6,1233.5 L945.7,1232.0 L945.7,1230.6 L945.8,1229.1 L945.8,1228.1 L945.8,1227.0 L945.8,1226.0 L945.9,1225.0 L945.9,1223.9 L945.9,1222.9 L946.0,1221.8 L946.0,1220.7 L946.0,1219.7 L946.1,1218.6 L946.1,1217.4 L946.1,1216.3 L946.2,1215.2 L946.2,1214.0 L946.2,1212.7 L946.3,1211.5 L946.3,1210.2 L946.3,1209.0 L946.4,1207.8 L946.4,1206.7 L946.5,1205.5 L946.5,1204.4 L946.5,1203.2 L946.6,1202.1 L946.6,1200.9 L946.6,1199.8 L946.7,1198.6 L946.7,1197.5 L946.8,1196.3 L946.8,1195.2 L946.8,1194.0 L946.9,1192.8 L946.9,1191.6 L946.9,1190.3 L947.0,1189.1 L947.0,1187.8 L947.0,1186.5 L947.1,1185.1 L947.1,1183.7 L947.2,1182.3 L947.2,1180.9 L947.2,1179.4 L947.3,1178.3 L947.3,1177.3 L947.3,1176.2 L947.3,1175.1 L947.4,1174.0 L947.4,1172.9 L947.4,1171.7 L947.4,1170.5 L947.5,1169.3 L947.5,1168.1 L947.5,1166.8 L947.5,1165.5 L947.6,1164.2 L947.6,1162.8 L947.6,1161.4 L947.6,1160.0 L947.7,1158.6 L947.7,1157.1 L947.7,1155.6 L947.7,1154.0 L947.8,1152.4 L947.8,1150.8 L947.8,1149.6 L947.8,1148.6 L947.8,1147.5 L947.9,1146.4 L947.9,1145.2 L947.9,1144.1 L947.9,1142.9 L947.9,1141.7 L947.9,1140.5 L948.0,1139.3 L948.0,1138.1 L948.0,1136.9 L948.0,1135.6 L948.0,1134.4 L948.0,1133.1 L948.1,1131.8 L948.1,1130.5 L948.1,1129.2 L948.1,1127.8 L948.1,1126.5 L948.2,1125.1 L948.2,1123.8 L948.2,1122.4 L948.2,1121.0 L948.2,1119.6 L948.2,1118.2 L948.3,1116.8 L948.3,1115.3 L948.3,1113.9 L948.3,1112.4 L948.3,1111.0 L948.4,1109.5 L948.4,1108.0 L948.4,1106.5 L948.4,1105.0 L948.4,1104.0 L948.4,1103.0 L948.4,1102.0 L948.5,1101.0 L948.5,1100.0 L948.5,1099.0 L948.5,1097.9 L948.5,1096.9 L948.5,1095.9 L948.5,1094.8 L948.5,1093.8 L948.6,1092.8 L948.6,1091.7 L948.6,1090.7 L948.6,1089.6 L948.6,1088.6 L948.6,1087.5 L948.6,1086.5 L948.6,1085.4 L948.7,1084.4 L948.7,1083.3 L948.7,1082.2 L948.7,1081.2 L948.7,1080.1 L948.7,1079.0 L948.7,1078.0 L948.7,1076.9 L948.8,1075.8 L948.8,1074.7 L948.8,1073.7 L948.8,1072.6 L948.8,1071.5 L948.8,1070.4 L948.8,1069.3 L948.8,1068.3 L948.9,1067.2 L948.9,1066.1 L948.9,1065.0 L948.9,1063.9 L948.9,1062.8 L948.9,1061.7 L948.9,1060.6 L948.9,1059.6 L948.9,1058.5 L949.0,1057.4 L949.0,1056.3 L949.0,1055.2 L949.0,1054.1 L949.0,1053.0 L949.0,1051.9 L949.0,1050.8 L949.0,1049.7 L949.1,1048.6 L949.1,1047.5 L949.1,1046.5 L949.1,1045.4 L949.1,1044.3 L949.1,1043.2 L949.1,1042.1 L949.1,1041.0 L949.2,1039.9 L949.2,1038.8 L949.2,1037.8 L949.2,1036.7 L949.2,1035.6 L949.2,1034.5 L949.2,1033.4 L949.2,1032.3 L949.3,1031.3 L949.3,1030.2 L949.3,1029.1 L949.3,1028.0 L949.3,1027.0 L949.3,1025.9 L949.3,1024.8 L949.3,1023.8 L949.3,1022.7 L949.4,1021.7 L949.4,1020.6 L949.4,1019.5 L949.4,1018.5 L949.4,1017.4 L949.4,1016.4 L949.4,1015.3 L949.4,1014.3 L949.5,1013.2 L949.5,1012.2 L949.5,1011.2 L949.5,1010.1 L949.5,1009.1 L949.5,1008.1 L949.5,1007.1 L949.5,1006.0 L949.5,1005.0 L949.6,1004.0 L949.6,1003.0 L949.6,1002.0 L949.6,1001.0 L949.6,999.5 L949.6,998.0 L949.6,997.0 L949.6,996.0 L949.7,995.0 L949.7,994.0 L949.7,992.9 L949.7,991.9 L949.7,990.9 L949.7,989.9 L949.7,988.9 L949.7,987.8 L949.7,986.8 L949.8,985.8 L949.8,984.7 L949.8,983.7 L949.8,982.6 L949.8,981.6 L949.8,980.6 L949.8,979.5 L949.8,978.5 L949.8,977.4 L949.9,976.4 L949.9,975.3 L949.9,974.2 L949.9,973.2 L949.9,972.1 L949.9,971.1 L949.9,970.0 L949.9,968.9 L949.9,967.9 L950.0,966.8 L950.0,965.7 L950.0,964.7 L950.0,963.6 L950.0,962.5 L950.0,961.5 L950.0,960.4 L950.0,959.3 L950.0,958.2 L950.1,957.2 L950.1,956.1 L950.1,955.0 L950.1,953.9 L950.1,952.9 L950.1,951.8 L950.1,950.7 L950.1,949.6 L950.1,948.6 L950.2,947.5 L950.2,946.4 L950.2,945.3 L950.2,944.2 L950.2,943.2 L950.2,942.1 L950.2,941.0 L950.2,939.9 L950.2,938.9 L950.3,937.8 L950.3,936.7 L950.3,935.6 L950.3,934.6 L950.3,933.5 L950.3,932.4 L950.3,931.3 L950.3,930.3 L950.3,929.2 L950.3,928.1 L950.4,927.1 L950.4,926.0 L950.4,924.9 L950.4,923.9 L950.4,922.8 L950.4,921.8 L950.4,920.7 L950.4,919.6 L950.4,918.6 L950.5,917.5 L950.5,916.5 L950.5,915.4 L950.5,914.4 L950.5,913.3 L950.5,912.3 L950.5,911.3 L950.5,910.2 L950.5,909.2 L950.5,908.1 L950.6,907.1 L950.6,906.1 L950.6,905.1 L950.6,904.0 L950.6,903.0 L950.6,902.0 L950.6,901.0 L950.6,900.0 L950.6,898.9 L950.7,897.9 L950.7,896.9 L950.7,895.9 L950.7,894.4 L950.7,892.9 L950.7,891.5 L950.7,890.0 L950.8,888.5 L950.8,887.1 L950.8,885.6 L950.8,884.2 L950.8,882.7 L950.8,881.3 L950.8,879.9 L950.9,878.5 L950.9,877.1 L950.9,875.7 L950.9,874.3 L950.9,873.0 L950.9,871.6 L951.0,870.3 L951.0,868.9 L951.0,867.6 L951.0,866.3 L951.0,865.0 L951.0,863.7 L951.0,862.4 L951.1,861.2 L951.1,859.9 L951.1,858.7 L951.1,857.4 L951.1,856.2 L951.1,855.0 L951.2,853.8 L951.2,852.7 L951.2,851.5 L951.2,850.4 L951.2,849.3 L951.2,847.8 L951.2,846.4 L951.3,845.0 L951.3,843.6 L951.3,842.2 L951.3,840.8 L951.3,839.5 L951.4,838.2 L951.4,836.8 L951.4,835.5 L951.4,834.3 L951.4,833.0 L951.5,831.7 L951.5,830.5 L951.5,829.3 L951.5,828.1 L951.5,826.9 L951.5,825.7 L951.6,824.5 L951.6,823.4 L951.6,822.2 L951.6,821.1 L951.6,820.0 L951.7,818.9 L951.7,817.8 L951.7,816.7 L951.7,815.6 L951.7,814.6 L951.7,813.5 L951.8,812.5 L951.8,811.5 L951.8,810.5 L951.8,809.5 L951.8,808.0 L951.9,806.5 L951.9,805.1 L951.9,803.7 L952.0,802.3 L952.0,800.9 L952.0,799.6 L952.0,798.2 L952.1,796.9 L952.1,795.6 L952.1,794.3 L952.1,793.1 L952.2,791.8 L952.2,790.6 L952.2,789.4 L952.2,788.2 L952.3,787.0 L952.3,785.8 L952.3,784.6 L952.3,783.4 L952.4,782.3 L952.4,781.2 L952.4,780.0 L952.5,778.9 L952.5,777.8 L952.5,776.7 L952.5,775.6 L952.6,774.5 L952.6,773.4 L952.6,772.2 L952.7,770.7 L952.7,769.2 L952.7,767.6 L952.8,766.1 L952.8,764.7 L952.8,763.2 L952.9,761.7 L952.9,760.3 L952.9,758.9 L953.0,757.5 L953.0,756.2 L953.0,754.9 L953.1,753.6 L953.1,752.3 L953.1,751.1 L953.2,749.9 L953.2,748.8 L953.2,747.7 L953.3,746.6 L953.3,745.6 L953.4,744.2 L953.4,742.8 L953.5,741.6 L953.5,740.5 L953.6,739.3 L953.7,738.1 L953.9,737.1 L954.3,738.1 L954.5,739.3 L954.6,740.5 L954.8,741.6 L954.9,742.8 L955.0,744.2 L955.1,745.6 L955.2,746.6 L955.3,747.7 L955.3,748.8 L955.4,749.9 L955.5,751.1 L955.6,752.3 L955.6,753.6 L955.7,754.9 L955.8,756.2 L955.9,757.5 L956.0,758.9 L956.0,760.3 L956.1,761.7 L956.2,763.2 L956.2,764.7 L956.3,766.1 L956.4,767.6 L956.4,769.2 L956.5,770.7 L956.6,772.2 L956.6,773.4 L956.7,774.5 L956.7,775.6 L956.7,776.7 L956.8,777.8 L956.8,778.9 L956.9,780.0 L956.9,781.2 L956.9,782.3 L957.0,783.4 L957.0,784.6 L957.0,785.8 L957.1,787.0 L957.1,788.2 L957.1,789.4 L957.2,790.6 L957.2,791.8 L957.3,793.1 L957.3,794.3 L957.3,795.6 L957.4,796.9 L957.4,798.2 L957.4,799.6 L957.5,800.9 L957.5,802.3 L957.5,803.7 L957.5,805.1 L957.6,806.5 L957.6,808.0 L957.6,809.5 L957.7,810.5 L957.7,811.5 L957.7,812.5 L957.7,813.5 L957.8,814.6 L957.8,815.6 L957.8,816.7 L957.8,817.8 L957.8,818.9 L957.9,820.0 L957.9,821.1 L957.9,822.2 L957.9,823.4 L957.9,824.5 L958.0,825.7 L958.0,826.9 L958.0,828.1 L958.0,829.3 L958.1,830.5 L958.1,831.7 L958.1,833.0 L958.1,834.3 L958.1,835.5 L958.2,836.8 L958.2,838.2 L958.2,839.5 L958.2,840.8 L958.3,842.2 L958.3,843.6 L958.3,845.0 L958.3,846.4 L958.4,847.8 L958.4,849.3 L958.4,850.4 L958.4,851.5 L958.4,852.7 L958.5,853.9 L958.5,855.1 L958.5,856.3 L958.5,857.5 L958.5,858.7 L958.6,860.0 L958.6,861.2 L958.6,862.5 L958.6,863.8 L958.6,865.1 L958.7,866.4 L958.7,867.8 L958.7,869.1 L958.7,870.5 L958.7,871.8 L958.8,873.2 L958.8,874.6 L958.8,876.0 L958.8,877.4 L958.8,878.9 L958.9,880.3 L958.9,881.7 L958.9,883.2 L958.9,884.7 L958.9,886.1 L959.0,887.6 L959.0,889.1 L959.0,890.6 L959.0,891.6 L959.0,892.6 L959.0,893.6 L959.1,894.7 L959.1,895.7 L959.1,896.7 L959.1,897.7 L959.1,898.7 L959.1,899.8 L959.1,900.8 L959.1,901.8 L959.2,902.9 L959.2,903.9 L959.2,905.0 L959.2,906.0 L959.2,907.1 L959.2,908.1 L959.2,909.2 L959.3,910.2 L959.3,911.3 L959.3,912.3 L959.3,913.4 L959.3,914.5 L959.3,915.5 L959.3,916.6 L959.4,917.7 L959.4,918.7 L959.4,919.8 L959.4,920.9 L959.4,922.0 L959.4,923.0 L959.4,924.1 L959.5,925.2 L959.5,926.3 L959.5,927.3 L959.5,928.4 L959.5,929.5 L959.5,930.6 L959.5,931.7 L959.5,932.7 L959.6,933.8 L959.6,934.9 L959.6,936.0 L959.6,937.1 L959.6,938.2 L959.6,939.2 L959.6,940.3 L959.7,941.4 L959.7,942.5 L959.7,943.6 L959.7,944.6 L959.7,945.7 L959.7,946.8 L959.7,947.9 L959.8,949.0 L959.8,950.0 L959.8,951.1 L959.8,952.2 L959.8,953.3 L959.8,954.3 L959.8,955.4 L959.9,956.5 L959.9,957.5 L959.9,958.6 L959.9,959.7 L959.9,960.7 L959.9,961.8 L959.9,962.9 L960.0,963.9 L960.0,965.0 L960.0,966.0 L960.0,967.1 L960.0,968.1 L960.0,969.2 L960.1,970.2 L960.1,971.3 L960.1,972.3 L960.1,973.3 L960.1,974.4 L960.1,975.4 L960.1,976.4 L960.2,977.5 L960.2,978.5 L960.2,979.5 L960.2,980.5 L960.2,981.5 L960.2,982.5 L960.2,983.5 L960.3,984.5 L960.3,986.0 L960.3,987.5 L960.3,989.0 L960.3,990.5 L960.4,991.9 L960.4,993.4 L960.4,994.8 L960.4,996.2 L960.5,997.7 L960.5,999.1 L960.5,1000.5 L960.5,1001.6 L960.5,1002.7 L960.6,1003.8 L960.6,1004.8 L960.6,1005.9 L960.6,1007.0 L960.6,1008.1 L960.7,1009.2 L960.7,1010.2 L960.7,1011.3 L960.7,1012.4 L960.7,1013.5 L960.7,1014.6 L960.8,1015.7 L960.8,1016.7 L960.8,1017.8 L960.8,1018.9 L960.8,1020.0 L960.9,1021.1 L960.9,1022.2 L960.9,1023.2 L960.9,1024.3 L960.9,1025.4 L960.9,1026.5 L961.0,1027.6 L961.0,1028.7 L961.0,1029.8 L961.0,1030.8 L961.0,1031.9 L961.1,1033.0 L961.1,1034.1 L961.1,1035.2 L961.1,1036.3 L961.1,1037.3 L961.2,1038.4 L961.2,1039.5 L961.2,1040.6 L961.2,1041.7 L961.2,1042.7 L961.3,1043.8 L961.3,1044.9 L961.3,1046.0 L961.3,1047.0 L961.3,1048.1 L961.3,1049.2 L961.4,1050.2 L961.4,1051.3 L961.4,1052.4 L961.4,1053.5 L961.4,1054.5 L961.5,1055.6 L961.5,1056.6 L961.5,1057.7 L961.5,1058.8 L961.5,1059.8 L961.6,1060.9 L961.6,1061.9 L961.6,1063.0 L961.6,1064.0 L961.6,1065.1 L961.7,1066.1 L961.7,1067.1 L961.7,1068.2 L961.7,1069.2 L961.7,1070.3 L961.8,1071.3 L961.8,1072.3 L961.8,1073.3 L961.8,1074.4 L961.8,1075.4 L961.9,1076.4 L961.9,1077.4 L961.9,1078.4 L961.9,1079.5 L961.9,1080.5 L962.0,1081.5 L962.0,1082.5 L962.0,1083.5 L962.0,1085.0 L962.1,1086.5 L962.1,1087.9 L962.1,1089.4 L962.1,1090.9 L962.2,1092.3 L962.2,1093.8 L962.2,1095.2 L962.3,1096.7 L962.3,1098.1 L962.3,1099.5 L962.4,1100.9 L962.4,1102.3 L962.4,1103.7 L962.4,1105.1 L962.5,1106.4 L962.5,1107.8 L962.5,1109.1 L962.6,1110.5 L962.6,1111.8 L962.6,1113.1 L962.6,1114.4 L962.7,1115.7 L962.7,1117.0 L962.7,1118.3 L962.8,1119.6 L962.8,1120.8 L962.8,1122.1 L962.8,1123.3 L962.9,1124.5 L962.9,1125.7 L962.9,1126.9 L963.0,1128.1 L963.0,1129.2 L963.0,1130.7 L963.1,1132.1 L963.1,1133.5 L963.1,1134.8 L963.2,1136.2 L963.2,1137.5 L963.2,1138.8 L963.3,1140.1 L963.3,1141.4 L963.3,1142.6 L963.4,1143.9 L963.4,1145.1 L963.4,1146.3 L963.5,1147.5 L963.5,1148.6 L963.5,1149.8 L963.6,1150.9 L963.6,1152.0 L963.6,1153.2 L963.7,1154.3 L963.7,1155.3 L963.7,1156.4 L963.8,1157.5 L963.8,1158.5 L963.8,1159.6 L963.9,1160.6 L963.9,1161.6 L963.9,1162.6 L964.0,1164.1 L964.0,1165.5 L964.1,1167.0 L964.1,1168.4 L964.2,1169.8 L964.2,1171.1 L964.3,1172.5 L964.3,1173.9 L964.4,1175.2 L964.4,1176.5 L964.5,1177.8 L964.5,1179.1 L964.6,1180.4 L964.6,1181.6 L964.7,1182.9 L964.7,1184.2 L964.8,1185.4 L964.8,1186.7 L964.9,1187.9 L964.9,1189.2 L965.0,1190.4 L965.0,1191.6 L965.1,1192.9 L965.1,1194.1 L965.1,1195.4 L965.2,1196.6 L965.2,1197.9 L965.3,1199.2 L965.3,1200.6 L965.4,1201.8 L965.4,1202.9 L965.4,1204.1 L965.5,1205.2 L965.5,1206.3 L965.5,1207.5 L965.6,1208.6 L965.6,1209.7 L965.6,1210.7 L965.7,1211.8 L965.7,1212.9 L965.7,1213.9 L965.8,1215.0 L965.8,1216.0 L965.8,1217.0 L965.9,1218.1 L965.9,1219.1 L965.9,1220.1 L966.0,1221.6 L966.0,1223.1 L966.0,1224.5 L966.1,1226.0 L966.1,1227.4 L966.2,1228.8 L966.2,1230.2 L966.3,1231.7 L966.3,1233.0 L966.4,1234.4 L966.4,1235.8 L966.5,1237.2 L966.5,1238.6 L966.6,1239.9 L966.6,1241.3 L966.7,1242.7 L966.7,1244.1 L966.8,1245.4 L966.8,1246.8 L966.9,1248.2 L967.0,1249.5 L967.1,1251.1 L967.1,1252.1 L967.2,1253.2 L967.2,1254.2 L967.3,1255.3 L967.3,1256.3 L967.4,1257.3 L967.4,1258.4 L967.5,1259.4 L967.6,1260.4 L967.6,1261.4 L967.7,1262.5 L967.7,1263.5 L967.8,1264.5 L967.9,1265.5 L968.0,1267.0 L968.1,1268.4 L968.2,1269.9 L968.3,1271.4 L968.4,1272.9 L968.5,1274.3 L968.6,1275.8 L968.7,1277.2 L968.8,1278.7 L968.9,1280.1 L969.0,1281.5 L969.1,1283.0 L969.2,1284.4 L969.4,1285.8 L969.5,1287.3 L969.6,1288.7 L969.7,1290.1 L969.9,1291.6 L970.0,1293.0 L970.1,1294.0 L970.2,1295.1 L970.3,1296.1 L970.4,1297.2 L970.5,1298.2 L970.6,1299.3 L970.7,1300.4 L970.9,1301.5 L971.0,1302.5 L971.1,1303.6 L971.2,1304.7 L971.3,1305.8 L971.5,1306.9 L971.6,1307.9 L971.7,1309.0 L971.8,1310.1 L972.0,1311.2 L972.1,1312.2 L972.2,1313.3 L972.4,1314.4 L972.5,1315.4 L972.6,1316.4 L972.7,1317.5 L972.9,1318.5 L973.0,1319.5 L973.1,1320.5 L973.3,1322.0 L973.5,1323.4 L973.7,1324.8 L973.9,1326.2 L974.0,1327.5 L974.2,1328.8 L974.4,1330.0 L974.5,1331.2 L974.7,1332.3 L974.9,1333.8 L975.1,1335.3 L975.3,1336.7 L975.5,1338.1 L975.7,1339.3 L975.9,1340.4 L976.1,1341.5 L976.3,1342.5 L976.5,1343.9 L976.8,1345.2 L977.0,1346.3 L977.3,1347.4 L977.6,1348.4 L977.8,1349.4 L978.3,1350.9 L978.8,1352.3 L979.3,1353.4 L980.1,1354.5 L981.2,1355.4 L982.3,1354.0 L983.1,1353.4 L983.6,1352.3 L984.2,1350.9 L984.6,1349.7 L985.0,1348.8 L985.6,1347.8 L986.1,1346.8 L986.5,1345.5 L986.8,1344.2 L987.1,1343.0 L987.3,1341.6 L987.5,1339.9 L987.8,1338.0 L987.9,1336.9 L988.0,1335.7 L988.2,1334.4 L988.3,1333.0 L988.4,1331.8 L988.5,1330.5 L988.6,1329.4 L988.7,1328.4 L988.8,1327.3 L988.9,1326.2 L989.0,1325.0 L989.1,1323.8 L989.2,1322.6 L989.3,1321.3 L989.4,1320.0 L989.5,1318.7 L989.6,1317.4 L989.7,1316.0 L989.8,1314.6 L989.9,1313.2 L990.0,1311.8 L990.1,1310.3 L990.2,1308.8 L990.3,1307.8 L990.4,1306.8 L990.5,1305.8 L990.5,1304.8 L990.6,1303.8 L990.7,1302.7 L990.8,1301.7 L990.8,1300.6 L990.9,1299.6 L991.0,1298.5 L991.1,1297.4 L991.1,1296.3 L991.2,1295.2 L991.3,1294.2 L991.3,1293.1 L991.4,1292.0 L991.5,1290.9 L991.6,1289.8 L991.6,1288.7 L991.7,1287.5 L991.8,1286.4 L991.9,1285.3 L991.9,1284.2 L992.0,1283.1 L992.1,1281.9 L992.1,1280.8 L992.2,1279.7 L992.3,1278.6 L992.4,1277.4 L992.4,1276.3 L992.5,1275.2 L992.6,1274.1 L992.6,1272.9 L992.7,1271.8 L992.8,1270.7 L992.8,1269.6 L992.9,1268.4 L993.0,1267.3 L993.0,1266.2 L993.1,1265.1 L993.1,1264.0 L993.2,1262.9 L993.3,1261.8 L993.3,1260.7 L993.4,1259.6 L993.5,1258.5 L993.5,1257.4 L993.6,1256.3 L993.6,1255.3 L993.7,1254.2 L993.7,1253.1 L993.8,1252.1 L993.8,1251.0 L993.9,1250.0 L994.0,1248.6 L994.0,1247.2 L994.1,1245.8 L994.2,1244.4 L994.2,1243.0 L994.3,1241.6 L994.4,1240.3 L994.4,1238.9 L994.5,1237.6 L994.5,1236.3 L994.6,1235.0 L994.6,1233.7 L994.7,1232.3 L994.7,1231.0 L994.8,1229.7 L994.8,1228.4 L994.9,1227.1 L994.9,1225.8 L995.0,1224.6 L995.0,1223.3 L995.1,1222.0 L995.1,1220.7 L995.2,1219.3 L995.2,1218.0 L995.2,1216.7 L995.3,1215.4 L995.3,1214.1 L995.4,1212.7 L995.4,1211.4 L995.4,1210.0 L995.5,1208.7 L995.5,1207.3 L995.6,1205.9 L995.6,1204.5 L995.7,1203.1 L995.7,1201.7 L995.7,1200.2 L995.8,1198.8 L995.8,1197.3 L995.9,1195.8 L995.9,1194.8 L995.9,1193.8 L996.0,1192.7 L996.0,1191.7 L996.0,1190.6 L996.1,1189.6 L996.1,1188.5 L996.1,1187.5 L996.2,1186.4 L996.2,1185.3 L996.2,1184.2 L996.3,1183.0 L996.3,1181.9 L996.3,1180.8 L996.4,1179.6 L996.4,1178.5 L996.4,1177.3 L996.5,1176.1 L996.5,1174.9 L996.5,1173.7 L996.6,1172.4 L996.6,1171.2 L996.7,1169.9 L996.7,1168.6 L996.8,1167.4 L996.8,1166.1 L996.8,1164.7 L996.9,1163.4 L996.9,1162.1 L997.0,1160.7 L997.0,1159.6 L997.1,1158.4 L997.1,1157.2 L997.1,1156.0 L997.2,1154.8 L997.2,1153.5 L997.3,1152.3 L997.3,1151.0 L997.4,1149.7 L997.4,1148.4 L997.4,1147.1 L997.5,1145.7 L997.5,1144.4 L997.6,1143.0 L997.6,1141.6 L997.7,1140.2 L997.7,1138.8 L997.8,1137.4 L997.8,1136.0 L997.9,1134.5 L997.9,1133.1 L998.0,1131.6 L998.0,1130.1 L998.1,1128.7 L998.1,1127.2 L998.2,1126.2 L998.2,1125.2 L998.2,1124.1 L998.3,1123.1 L998.3,1122.1 L998.3,1121.1 L998.4,1120.1 L998.4,1119.0 L998.4,1118.0 L998.5,1117.0 L998.5,1115.9 L998.5,1114.9 L998.6,1113.8 L998.6,1112.8 L998.7,1111.7 L998.7,1110.7 L998.7,1109.6 L998.8,1108.6 L998.8,1107.5 L998.8,1106.4 L998.9,1105.4 L998.9,1104.3 L998.9,1103.2 L999.0,1102.2 L999.0,1101.1 L999.1,1100.0 L999.1,1098.9 L999.1,1097.8 L999.2,1096.8 L999.2,1095.7 L999.2,1094.6 L999.3,1093.5 L999.3,1092.4 L999.4,1091.3 L999.4,1090.2 L999.4,1089.1 L999.5,1088.0 L999.5,1086.9 L999.5,1085.8 L999.6,1084.7 L999.6,1083.6 L999.7,1082.5 L999.7,1081.4 L999.7,1080.4 L999.8,1079.3 L999.8,1078.2 L999.8,1077.1 L999.9,1076.0 L999.9,1074.9 L1000.0,1073.8 L1000.0,1072.7 L1000.0,1071.6 L1000.1,1070.5 L1000.1,1069.4 L1000.1,1068.3 L1000.2,1067.2 L1000.2,1066.1 L1000.3,1065.0 L1000.3,1063.9 L1000.3,1062.8 L1000.4,1061.7 L1000.4,1060.6 L1000.4,1059.6 L1000.5,1058.5 L1000.5,1057.4 L1000.6,1056.3 L1000.6,1055.2 L1000.6,1054.2 L1000.7,1053.1 L1000.7,1052.0 L1000.7,1050.9 L1000.8,1049.9 L1000.8,1048.8 L1000.9,1047.8 L1000.9,1046.7 L1000.9,1045.6 L1001.0,1044.6 L1001.0,1043.5 L1001.0,1042.5 L1001.1,1041.4 L1001.1,1040.4 L1001.1,1039.4 L1001.2,1038.3 L1001.2,1037.3 L1001.2,1036.3 L1001.3,1035.2 L1001.3,1034.2 L1001.4,1033.2 L1001.4,1032.2 L1001.4,1031.2 L1001.5,1030.2 L1001.5,1029.2 L1001.5,1027.7 L1001.6,1026.2 L1001.6,1024.7 L1001.7,1023.3 L1001.7,1021.8 L1001.8,1020.4 L1001.8,1019.0 L1001.9,1017.5 L1001.9,1016.1 L1002.0,1014.8 L1002.0,1013.4 L1002.1,1012.0 L1002.1,1010.7 L1002.2,1009.3 L1002.2,1008.0 L1002.3,1006.7 L1002.3,1005.4 L1002.4,1004.1 L1002.4,1002.9 L1002.4,1001.6 L1002.5,1000.4 L1002.5,999.4 L1002.6,998.1 L1002.6,996.8 L1002.7,995.5 L1002.7,994.3 L1002.7,993.0 L1002.8,991.8 L1002.8,990.5 L1002.9,989.3 L1002.9,988.1 L1002.9,986.9 L1003.0,985.7 L1003.0,984.5 L1003.1,983.3 L1003.1,982.2 L1003.2,981.0 L1003.2,979.8 L1003.2,978.7 L1003.3,977.5 L1003.3,976.4 L1003.3,975.3 L1003.4,974.1 L1003.4,973.0 L1003.5,971.9 L1003.5,970.8 L1003.5,969.7 L1003.6,968.6 L1003.6,967.5 L1003.6,966.5 L1003.7,965.4 L1003.7,964.3 L1003.7,963.3 L1003.8,962.2 L1003.8,961.2 L1003.9,960.1 L1003.9,959.1 L1003.9,958.1 L1004.0,957.1 L1004.0,956.1 L1004.0,955.0 L1004.1,954.0 L1004.1,953.0 L1004.1,951.5 L1004.2,950.1 L1004.2,948.6 L1004.3,947.1 L1004.3,945.7 L1004.4,944.3 L1004.4,942.8 L1004.5,941.4 L1004.5,940.0 L1004.6,938.6 L1004.6,937.2 L1004.7,935.8 L1004.7,934.5 L1004.8,933.1 L1004.8,931.7 L1004.9,930.4 L1004.9,929.0 L1005.0,927.7 L1005.0,926.4 L1005.1,925.0 L1005.1,923.7 L1005.2,922.4 L1005.2,921.1 L1005.2,919.8 L1005.3,918.5 L1005.3,917.2 L1005.4,915.9 L1005.4,914.6 L1005.5,913.3 L1005.5,912.0 L1005.6,910.7 L1005.6,909.4 L1005.7,908.1 L1005.7,906.8 L1005.8,905.6 L1005.8,904.3 L1005.9,903.0 L1005.9,901.7 L1006.0,900.4 L1006.0,899.4 L1006.1,898.2 L1006.1,897.1 L1006.2,895.9 L1006.2,894.8 L1006.3,893.6 L1006.3,892.5 L1006.4,891.4 L1006.4,890.3 L1006.4,889.2 L1006.5,888.1 L1006.5,887.0 L1006.6,885.9 L1006.6,884.8 L1006.7,883.7 L1006.7,882.7 L1006.8,881.6 L1006.8,880.6 L1006.9,879.5 L1006.9,878.5 L1006.9,877.5 L1007.0,876.5 L1007.0,875.5 L1007.1,874.4 L1007.1,873.4 L1007.2,871.9 L1007.3,870.5 L1007.3,869.0 L1007.4,867.5 L1007.5,866.1 L1007.5,864.6 L1007.6,863.2 L1007.7,861.8 L1007.7,860.3 L1007.8,858.9 L1007.9,857.5 L1007.9,856.1 L1008.0,854.7 L1008.1,853.3 L1008.2,851.9 L1008.2,850.5 L1008.3,849.1 L1008.4,847.7 L1008.4,846.3 L1008.5,844.9 L1008.6,843.6 L1008.7,842.2 L1008.7,840.8 L1008.8,839.4 L1008.9,838.0 L1008.9,836.6 L1009.0,835.1 L1009.1,833.7 L1009.2,832.3 L1009.2,830.9 L1009.3,829.4 L1009.4,828.0 L1009.5,827.0 L1009.5,826.0 L1009.6,824.9 L1009.6,823.9 L1009.7,822.9 L1009.7,821.8 L1009.8,820.8 L1009.9,819.7 L1009.9,818.7 L1010.0,817.7 L1010.0,816.6 L1010.1,815.6 L1010.1,814.5 L1010.2,813.5 L1010.3,812.4 L1010.3,811.4 L1010.4,810.3 L1010.4,809.3 L1010.5,808.2 L1010.6,807.2 L1010.6,806.1 L1010.7,805.1 L1010.7,804.0 L1010.8,803.0 L1010.9,801.9 L1010.9,800.9 L1011.0,799.8 L1011.1,798.8 L1011.1,797.7 L1011.2,796.7 L1011.2,795.7 L1011.3,794.6 L1011.4,793.6 L1011.4,792.6 L1011.5,791.5 L1011.6,790.5 L1011.6,789.5 L1011.7,788.5 L1011.7,787.5 L1011.8,786.5 L1011.9,785.5 L1011.9,784.5 L1012.0,783.0 L1012.1,781.5 L1012.2,780.0 L1012.3,778.5 L1012.4,777.1 L1012.5,775.6 L1012.6,774.2 L1012.7,772.8 L1012.7,771.4 L1012.8,770.0 L1012.9,768.7 L1013.0,767.3 L1013.1,766.0 L1013.2,764.7 L1013.3,763.4 L1013.4,762.1 L1013.4,760.8 L1013.5,759.4 L1013.6,758.1 L1013.7,756.9 L1013.8,755.7 L1013.9,754.5 L1014.0,753.3 L1014.0,752.1 L1014.1,750.9 L1014.2,749.7 L1014.3,748.5 L1014.4,747.3 L1014.5,746.2 L1014.5,745.0 L1014.6,743.9 L1014.7,742.7 L1014.8,741.6 L1014.9,740.5 L1015.0,739.4 L1015.0,738.3 L1015.1,737.3 L1015.2,736.2 L1015.3,735.2 L1015.4,734.1 L1015.4,733.1 L1015.5,732.1 L1015.6,730.6 L1015.8,729.2 L1015.9,727.8 L1016.0,726.4 L1016.1,725.1 L1016.2,723.8 L1016.3,722.5 L1016.4,721.3 L1016.5,720.1 L1016.6,719.0 L1016.7,717.9 L1016.8,716.9 L1016.9,715.6 L1017.1,713.7 L1017.2,712.6 L1017.4,711.5 L1017.6,709.7 L1017.8,708.1 L1017.9,707.0 L1018.2,705.7 L1018.7,704.8 L1019.7,704.6 L1020.4,705.9 L1020.6,707.4 L1020.8,708.9 L1021.0,710.9 L1021.1,712.0 L1021.1,713.3 L1021.2,714.8 L1021.3,716.4 L1021.4,718.1 L1021.5,720.0 L1021.6,721.2 L1021.6,722.4 L1021.7,723.7 L1021.7,724.7 L1021.7,725.8 L1021.8,726.9 L1021.8,728.0 L1021.9,729.2 L1021.9,730.4 L1021.9,731.6 L1022.0,732.8 L1022.0,734.1 L1022.1,735.4 L1022.1,736.8 L1022.1,738.1 L1022.2,739.5 L1022.2,741.0 L1022.3,742.4 L1022.3,743.9 L1022.4,745.3 L1022.4,746.3 L1022.4,747.3 L1022.4,748.4 L1022.5,749.4 L1022.5,750.4 L1022.5,751.5 L1022.6,752.5 L1022.6,753.6 L1022.6,754.6 L1022.7,755.7 L1022.7,756.8 L1022.7,757.9 L1022.7,758.9 L1022.8,760.0 L1022.8,761.1 L1022.8,762.2 L1022.9,763.4 L1022.9,764.5 L1022.9,765.6 L1022.9,766.7 L1023.0,767.8 L1023.0,769.0 L1023.0,770.1 L1023.1,771.2 L1023.1,772.4 L1023.1,773.5 L1023.2,774.6 L1023.2,775.8 L1023.2,776.9 L1023.2,778.1 L1023.3,779.2 L1023.3,780.4 L1023.3,781.5 L1023.4,782.7 L1023.4,783.8 L1023.4,785.0 L1023.4,786.1 L1023.5,787.2 L1023.5,788.4 L1023.5,789.5 L1023.6,790.7 L1023.6,791.8 L1023.6,792.9 L1023.7,794.1 L1023.7,795.2 L1023.7,796.3 L1023.7,797.4 L1023.8,798.6 L1023.8,799.7 L1023.8,800.8 L1023.9,801.9 L1023.9,803.0 L1023.9,804.1 L1023.9,805.2 L1024.0,806.3 L1024.0,807.3 L1024.0,808.4 L1024.1,809.5 L1024.1,810.5 L1024.1,811.6 L1024.1,812.6 L1024.2,813.6 L1024.2,814.7 L1024.2,815.7 L1024.3,816.7 L1024.3,818.2 L1024.3,819.7 L1024.4,821.1 L1024.4,822.5 L1024.5,823.9 L1024.5,825.3 L1024.6,826.7 L1024.6,828.0 L1024.6,829.1 L1024.7,830.3 L1024.7,831.4 L1024.7,832.5 L1024.8,833.7 L1024.8,834.8 L1024.9,835.9 L1024.9,836.9 L1024.9,838.0 L1025.0,839.1 L1025.0,840.2 L1025.0,841.2 L1025.1,842.3 L1025.1,843.3 L1025.1,844.4 L1025.2,845.4 L1025.2,846.5 L1025.2,847.5 L1025.3,848.5 L1025.3,849.5 L1025.4,850.5 L1025.4,851.5 L1025.4,853.0 L1025.5,854.5 L1025.6,856.0 L1025.6,857.5 L1025.7,858.9 L1025.7,860.4 L1025.8,861.8 L1025.8,863.2 L1025.9,864.7 L1025.9,866.1 L1026.0,867.5 L1026.0,868.9 L1026.1,870.4 L1026.1,871.8 L1026.2,873.2 L1026.2,874.6 L1026.3,876.0 L1026.3,877.4 L1026.4,878.8 L1026.5,880.2 L1026.5,881.6 L1026.6,883.0 L1026.6,884.5 L1026.7,885.9 L1026.7,887.3 L1026.8,888.7 L1026.8,890.1 L1026.9,891.6 L1026.9,893.0 L1027.0,894.5 L1027.0,895.9 L1027.1,897.4 L1027.1,898.9 L1027.2,900.3 L1027.2,901.8 L1027.3,902.8 L1027.3,903.8 L1027.3,904.9 L1027.4,905.9 L1027.4,906.9 L1027.4,907.9 L1027.5,909.0 L1027.5,910.0 L1027.5,911.4 L1027.6,912.8 L1027.6,914.2 L1027.7,915.6 L1027.7,917.0 L1027.8,918.3 L1027.8,919.7 L1027.9,921.0 L1027.9,922.3 L1027.9,923.7 L1028.0,925.0 L1028.0,926.3 L1028.1,927.6 L1028.1,928.9 L1028.2,930.2 L1028.2,931.5 L1028.2,932.8 L1028.3,934.1 L1028.3,935.4 L1028.4,936.7 L1028.4,938.0 L1028.4,939.3 L1028.5,940.6 L1028.5,941.9 L1028.6,943.2 L1028.6,944.5 L1028.6,945.9 L1028.7,947.2 L1028.7,948.5 L1028.8,949.9 L1028.8,951.3 L1028.9,952.6 L1028.9,954.0 L1028.9,955.4 L1029.0,956.9 L1029.0,958.3 L1029.1,959.7 L1029.1,961.2 L1029.1,962.7 L1029.2,964.2 L1029.2,965.2 L1029.3,966.2 L1029.3,967.2 L1029.3,968.3 L1029.3,969.3 L1029.4,970.4 L1029.4,971.4 L1029.4,972.5 L1029.5,973.6 L1029.5,974.7 L1029.5,975.8 L1029.6,976.9 L1029.6,978.1 L1029.6,979.2 L1029.7,980.4 L1029.7,981.5 L1029.7,982.7 L1029.8,983.9 L1029.8,985.1 L1029.8,986.3 L1029.9,987.6 L1029.9,988.8 L1029.9,990.1 L1030.0,991.4 L1030.0,992.6 L1030.0,993.9 L1030.1,995.3 L1030.1,996.6 L1030.1,997.9 L1030.2,999.3 L1030.2,1000.4 L1030.2,1001.6 L1030.3,1002.8 L1030.3,1004.0 L1030.3,1005.2 L1030.4,1006.5 L1030.4,1007.8 L1030.4,1009.0 L1030.5,1010.3 L1030.5,1011.7 L1030.5,1013.0 L1030.6,1014.3 L1030.6,1015.7 L1030.7,1017.1 L1030.7,1018.5 L1030.7,1019.9 L1030.8,1021.3 L1030.8,1022.7 L1030.8,1024.1 L1030.9,1025.6 L1030.9,1027.1 L1031.0,1028.5 L1031.0,1030.0 L1031.0,1031.5 L1031.1,1032.5 L1031.1,1033.5 L1031.1,1034.6 L1031.1,1035.6 L1031.2,1036.6 L1031.2,1037.6 L1031.2,1038.6 L1031.2,1039.7 L1031.3,1040.7 L1031.3,1041.8 L1031.3,1042.8 L1031.3,1043.9 L1031.4,1044.9 L1031.4,1046.0 L1031.4,1047.0 L1031.5,1048.1 L1031.5,1049.1 L1031.5,1050.2 L1031.5,1051.3 L1031.6,1052.3 L1031.6,1053.4 L1031.6,1054.5 L1031.6,1055.6 L1031.7,1056.7 L1031.7,1057.7 L1031.7,1058.8 L1031.8,1059.9 L1031.8,1061.0 L1031.8,1062.1 L1031.8,1063.2 L1031.9,1064.3 L1031.9,1065.4 L1031.9,1066.5 L1031.9,1067.6 L1032.0,1068.7 L1032.0,1069.8 L1032.0,1070.9 L1032.1,1072.0 L1032.1,1073.1 L1032.1,1074.2 L1032.1,1075.3 L1032.2,1076.4 L1032.2,1077.5 L1032.2,1078.6 L1032.2,1079.7 L1032.3,1080.8 L1032.3,1081.9 L1032.3,1083.0 L1032.4,1084.1 L1032.4,1085.3 L1032.4,1086.4 L1032.4,1087.5 L1032.5,1088.6 L1032.5,1089.7 L1032.5,1090.8 L1032.6,1091.9 L1032.6,1093.0 L1032.6,1094.1 L1032.6,1095.2 L1032.7,1096.3 L1032.7,1097.4 L1032.7,1098.4 L1032.7,1099.5 L1032.8,1100.6 L1032.8,1101.7 L1032.8,1102.8 L1032.9,1103.9 L1032.9,1105.0 L1032.9,1106.0 L1032.9,1107.1 L1033.0,1108.2 L1033.0,1109.3 L1033.0,1110.3 L1033.0,1111.4 L1033.1,1112.5 L1033.1,1113.5 L1033.1,1114.6 L1033.2,1115.6 L1033.2,1116.7 L1033.2,1117.7 L1033.2,1118.8 L1033.3,1119.8 L1033.3,1120.8 L1033.3,1121.9 L1033.3,1122.9 L1033.4,1123.9 L1033.4,1124.9 L1033.4,1126.0 L1033.4,1127.0 L1033.5,1128.0 L1033.5,1129.0 L1033.5,1130.5 L1033.6,1132.0 L1033.6,1133.4 L1033.6,1134.9 L1033.7,1136.3 L1033.7,1137.8 L1033.8,1139.2 L1033.8,1140.6 L1033.8,1142.0 L1033.9,1143.4 L1033.9,1144.8 L1033.9,1146.1 L1034.0,1147.5 L1034.0,1148.8 L1034.0,1150.1 L1034.1,1151.4 L1034.1,1152.7 L1034.1,1153.9 L1034.2,1155.2 L1034.2,1156.4 L1034.2,1157.6 L1034.3,1158.8 L1034.3,1160.0 L1034.3,1161.4 L1034.4,1162.7 L1034.4,1164.1 L1034.4,1165.4 L1034.5,1166.7 L1034.5,1168.1 L1034.5,1169.3 L1034.6,1170.6 L1034.6,1171.9 L1034.7,1173.2 L1034.7,1174.4 L1034.7,1175.7 L1034.7,1176.9 L1034.8,1178.1 L1034.8,1179.3 L1034.8,1180.5 L1034.9,1181.7 L1034.9,1182.8 L1034.9,1184.0 L1035.0,1185.2 L1035.0,1186.3 L1035.0,1187.4 L1035.1,1188.5 L1035.1,1189.7 L1035.1,1190.8 L1035.1,1191.8 L1035.2,1192.9 L1035.2,1194.0 L1035.2,1195.1 L1035.3,1196.1 L1035.3,1197.2 L1035.3,1198.2 L1035.3,1199.2 L1035.4,1200.3 L1035.4,1201.3 L1035.4,1202.3 L1035.5,1203.8 L1035.5,1205.3 L1035.5,1206.7 L1035.6,1208.2 L1035.6,1209.6 L1035.7,1211.0 L1035.7,1212.4 L1035.7,1213.8 L1035.8,1215.2 L1035.8,1216.6 L1035.8,1217.9 L1035.9,1219.3 L1035.9,1220.6 L1036.0,1221.9 L1036.0,1223.2 L1036.0,1224.5 L1036.1,1225.8 L1036.1,1227.1 L1036.2,1228.4 L1036.2,1229.7 L1036.2,1230.9 L1036.3,1232.2 L1036.3,1233.5 L1036.4,1234.7 L1036.4,1236.0 L1036.4,1237.2 L1036.5,1238.4 L1036.5,1239.7 L1036.6,1240.9 L1036.6,1242.2 L1036.7,1243.4 L1036.7,1244.6 L1036.7,1245.9 L1036.8,1247.1 L1036.8,1248.3 L1036.9,1249.6 L1036.9,1250.6 L1037.0,1251.8 L1037.0,1253.1 L1037.1,1254.3 L1037.1,1255.5 L1037.2,1256.7 L1037.2,1257.9 L1037.3,1259.1 L1037.3,1260.2 L1037.4,1261.4 L1037.4,1262.5 L1037.5,1263.7 L1037.5,1264.8 L1037.6,1265.9 L1037.6,1267.1 L1037.6,1268.2 L1037.7,1269.3 L1037.7,1270.4 L1037.8,1271.5 L1037.8,1272.5 L1037.9,1273.6 L1037.9,1274.7 L1038.0,1275.7 L1038.0,1276.8 L1038.1,1277.8 L1038.2,1278.8 L1038.2,1279.9 L1038.3,1280.9 L1038.3,1281.9 L1038.4,1283.4 L1038.5,1284.9 L1038.5,1286.3 L1038.6,1287.8 L1038.7,1289.2 L1038.8,1290.6 L1038.8,1292.0 L1038.9,1293.3 L1039.0,1294.7 L1039.1,1296.0 L1039.2,1297.3 L1039.2,1298.6 L1039.3,1299.9 L1039.4,1301.2 L1039.5,1302.5 L1039.6,1303.7 L1039.6,1304.9 L1039.7,1306.1 L1039.8,1307.3 L1039.9,1308.5 L1040.0,1309.6 L1040.1,1310.7 L1040.2,1312.1 L1040.3,1313.4 L1040.4,1314.8 L1040.5,1316.1 L1040.6,1317.3 L1040.7,1318.6 L1040.8,1319.8 L1040.9,1321.0 L1041.0,1322.1 L1041.1,1323.3 L1041.2,1324.4 L1041.3,1325.4 L1041.4,1326.5 L1041.5,1327.5 L1041.6,1328.5 L1041.7,1330.0 L1041.9,1331.4 L1042.1,1332.7 L1042.2,1334.0 L1042.4,1335.2 L1042.6,1336.4 L1042.7,1337.6 L1042.9,1338.7 L1043.1,1339.7 L1043.3,1340.7 L1043.5,1342.0 L1043.7,1343.0 L1044.1,1344.6 L1044.6,1345.9 L1045.1,1346.8 L1045.8,1347.8 L1046.8,1348.6 L1047.5,1349.4 L1048.3,1350.4 L1049.2,1351.4 L1050.2,1352.2 L1051.2,1353.1 L1052.1,1354.3 L1052.7,1355.4 L1053.1,1356.3 L1053.5,1357.5 L1053.9,1358.8 L1054.3,1360.1 L1054.5,1361.1 L1054.8,1362.1 L1055.0,1363.2 L1055.2,1364.2 L1055.5,1365.3 L1055.7,1366.4 L1055.9,1367.4 L1056.2,1368.5 L1056.4,1369.5 L1056.6,1370.5 L1056.9,1371.5 L1057.2,1373.0 L1057.5,1374.0 L1057.7,1375.0 L1057.9,1376.0 L1058.1,1377.0 L1058.4,1378.0 L1058.6,1379.1 L1058.8,1380.1 L1059.0,1381.0 L1059.4,1382.5 L1059.8,1383.8 L1060.2,1385.1 L1060.7,1386.3 L1061.3,1387.5 L1061.8,1388.6 L1062.4,1389.5 L1063.0,1390.4 L1063.7,1391.1 L1064.7,1392.2 L1065.8,1393.0 L1067.1,1392.0 L1068.4,1394.8 L1069.6,1393.9 L1071.0,1393.7 L1072.4,1396.4 L1073.9,1395.1 L1075.0,1397.4 L1076.0,1394.5 L1077.0,1393.6 L1078.0,1393.7 L1079.0,1394.8 L1080.0,1393.0 L1081.3,1392.9 L1082.5,1392.3 L1083.8,1391.0 L1084.7,1390.5 L1085.5,1389.9 L1086.4,1389.3 L1087.2,1388.6 L1088.1,1388.0 L1088.9,1387.4 L1089.7,1386.7 L1090.9,1385.8 L1092.0,1385.0 L1092.9,1384.3 L1093.7,1383.5 L1094.5,1382.7 L1095.2,1381.9 L1096.0,1381.0 L1096.7,1380.2 L1097.4,1379.5 L1098.5,1378.5 L1099.5,1377.8 L1100.6,1376.7 L1101.7,1377.7 L1102.8,1377.7 L1103.8,1378.9 L1104.9,1380.0 L1105.6,1380.8 L1106.3,1381.7 L1107.0,1382.5 L1107.8,1383.4 L1108.5,1384.3 L1109.2,1385.2 L1110.0,1386.0 L1110.9,1387.0 L1111.8,1388.1 L1112.6,1389.2 L1113.4,1390.4 L1114.3,1391.6 L1115.2,1392.8 L1115.9,1393.5 L1116.6,1394.3 L1117.3,1395.0 L1118.2,1395.7 L1119.0,1396.4 L1120.0,1397.0 L1120.9,1397.6 L1121.7,1398.4 L1122.3,1399.4 L1122.9,1400.3 L1123.9,1401.2 L1124.8,1400.6 L1126.0,1402.9 L1127.0,1403.1 L1128.3,1402.8 L1129.8,1402.2 L1131.5,1401.4 L1133.5,1403.9 L1134.7,1403.5 L1135.9,1402.2 L1137.2,1403.8 L1138.5,1402.5 L1140.0,1404.0 L1141.2,1404.2 L1142.5,1404.5 L1143.8,1404.4 L1144.8,1404.4 L1145.8,1403.3 L1146.9,1404.0 L1148.0,1403.9 L1149.1,1404.2 L1150.2,1404.7 L1151.4,1405.0 L1152.6,1406.0 L1153.8,1402.2 L1155.0,1404.9 L1156.3,1404.4 L1157.5,1406.7 L1158.8,1405.5 L1160.1,1403.2 L1161.5,1405.1 L1162.8,1404.3 L1164.2,1405.6 L1165.6,1403.8 L1167.0,1404.7 L1168.5,1404.7 L1169.9,1404.7 L1171.4,1404.3 L1172.8,1403.2 L1174.3,1405.3 L1175.3,1405.8 L1176.4,1404.8 L1177.4,1404.0 L1178.4,1405.1 L1179.4,1405.4 L1180.5,1404.7 L1181.5,1404.9 L1182.5,1406.2 L1183.6,1403.9 L1184.7,1404.4 L1185.7,1403.2 L1186.8,1404.3 L1187.9,1404.3 L1188.9,1404.1 L1190.0,1404.3 L1191.1,1406.6 L1192.2,1404.8 L1193.3,1404.8 L1194.4,1406.9 L1195.5,1404.9 L1196.6,1403.4 L1197.7,1405.3 L1198.8,1404.1 L1199.9,1406.4 L1201.0,1403.8 L1202.1,1404.4 L1203.3,1403.5 L1204.4,1405.1 L1205.5,1404.0 L1206.6,1404.9 L1207.8,1404.6 L1208.9,1404.4 L1210.0,1405.8 L1211.2,1405.8 L1212.3,1405.0 L1213.4,1404.2 L1214.6,1404.0 L1215.7,1405.2 L1216.8,1407.1 L1218.0,1404.6 L1219.1,1404.3 L1220.3,1404.3 L1221.4,1404.0 L1222.5,1404.1 L1223.7,1404.8 L1224.8,1406.3 L1226.0,1405.0 L1227.1,1404.5 L1228.2,1403.5 L1229.4,1405.2 L1230.5,1404.9 L1231.6,1403.9 L1232.8,1404.0 L1233.9,1404.9 L1235.0,1405.9 L1236.2,1405.5 L1237.3,1405.2 L1238.4,1404.7 L1239.5,1405.3 L1240.6,1405.0 L1241.8,1406.9 L1242.9,1404.0 L1244.0,1404.6 L1245.1,1406.1 L1246.2,1404.7 L1247.3,1406.3 L1248.4,1405.0 L1249.5,1405.1 L1250.5,1404.7 L1251.9,1403.8 L1253.3,1404.1 L1254.7,1407.0 L1256.2,1405.6 L1257.7,1405.6 L1259.2,1405.9 L1260.2,1405.6 L1261.2,1406.0 L1262.2,1404.8 L1263.2,1404.9 L1264.3,1406.0 L1265.3,1404.8 L1266.3,1403.9 L1267.4,1404.9 L1268.5,1404.6 L1269.5,1405.6 L1270.6,1404.4 L1271.7,1404.1 L1272.7,1404.8 L1273.8,1406.5 L1274.9,1405.1 L1276.0,1405.3 L1277.1,1405.1 L1278.2,1405.4 L1279.3,1406.0 L1280.4,1406.4 L1281.5,1403.7 L1282.7,1406.4 L1283.8,1405.2 L1284.9,1404.9 L1286.0,1407.3 L1287.2,1405.0 L1288.3,1406.9 L1289.4,1406.1 L1290.6,1404.3 L1291.7,1405.6 L1292.9,1405.9 L1294.0,1405.1 L1295.2,1403.1 L1296.3,1404.9 L1297.5,1405.1 L1298.6,1404.2 L1299.7,1406.9 L1300.9,1405.0 L1302.1,1404.9 L1303.2,1405.0 L1304.4,1404.6 L1305.5,1404.6 L1306.7,1405.4 L1307.8,1405.6 L1309.0,1404.8 L1310.1,1405.2 L1311.3,1404.0 L1312.4,1405.8 L1313.5,1404.6 L1314.7,1405.5 L1315.8,1404.5 L1317.0,1404.8 L1318.1,1405.5 L1319.2,1404.2 L1320.4,1407.5 L1321.5,1405.3 L1322.6,1405.3 L1323.8,1404.7 L1324.9,1406.8 L1326.0,1406.6 L1327.1,1405.6 L1328.2,1404.1 L1329.3,1404.9 L1330.4,1405.9 L1331.5,1404.9 L1332.6,1404.3 L1333.7,1404.3 L1334.8,1404.6 L1335.9,1405.3 L1336.9,1404.8 L1338.0,1405.4 L1339.1,1407.8 L1340.1,1406.9 L1341.2,1404.4 L1342.2,1405.6 L1343.2,1405.4 L1344.3,1405.2 L1345.3,1406.3 L1346.3,1405.0 L1347.3,1405.0 L1348.3,1405.0 L1349.8,1405.2 L1351.3,1406.5 L1352.7,1406.0 L1354.2,1404.1 L1355.6,1404.9 L1357.0,1404.6 L1358.4,1406.0 L1359.7,1405.5 L1361.0,1406.1 L1362.3,1405.2 L1363.6,1403.5 L1364.9,1405.6 L1366.1,1405.4 L1367.3,1405.7 L1368.5,1404.0 L1369.7,1405.3 L1370.8,1404.6 L1371.9,1404.5 L1373.0,1405.5 L1374.1,1405.4 L1375.1,1404.3 L1376.4,1403.5 L1377.7,1402.8 L1378.9,1404.5 L1380.0,1406.0 L1382.2,1404.9 L1384.1,1402.8 L1385.8,1404.0 L1387.4,1405.1 L1388.8,1406.2 L1390.0,1405.6 L1391.0,1404.9 L1392.6,1404.5 L1393.7,1403.2 L1394.8,1403.4 L1394.2,1402.7 L1394.1,1401.7 L1395.0,1401.0 L1396.2,1400.0 L1397.4,1399.6 L1398.6,1398.8 L1399.8,1397.9 L1400.9,1397.0 L1402.1,1396.0 L1402.8,1395.4 L1403.6,1394.7 L1404.3,1394.0 L1405.0,1393.3 L1405.7,1392.6 L1406.7,1391.5 L1407.7,1390.4 L1408.6,1389.2 L1409.5,1388.1 L1410.1,1387.3 L1410.7,1386.4 L1411.3,1385.6 L1411.8,1384.7 L1412.4,1383.9 L1412.9,1383.0 L1413.4,1382.1 L1413.9,1381.2 L1414.4,1380.3 L1414.9,1379.4 L1415.3,1378.5 L1416.0,1377.2 L1416.6,1375.9 L1417.2,1374.5 L1417.8,1373.2 L1418.3,1372.0 L1418.8,1370.8 L1419.2,1369.6 L1419.6,1368.4 L1420.0,1367.2 L1420.3,1365.8 L1420.6,1364.8 L1420.8,1363.7 L1421.0,1362.6 L1421.3,1361.3 L1421.5,1360.0 L1421.7,1358.9 L1421.9,1357.6 L1422.1,1356.4 L1422.3,1355.1 L1422.5,1353.7 L1422.7,1352.2 L1422.8,1350.8 L1423.0,1349.8 L1423.1,1348.8 L1423.2,1347.8 L1423.3,1346.7 L1423.4,1345.7 L1423.6,1344.6 L1423.7,1343.6 L1423.8,1342.5 L1423.9,1341.4 L1424.0,1340.4 L1424.1,1339.3 L1424.2,1338.2 L1424.3,1337.2 L1424.4,1336.1 L1424.5,1335.1 L1424.6,1334.0 L1424.7,1333.0 L1424.8,1332.0 L1424.9,1331.0 L1425.0,1329.5 L1425.2,1328.1 L1425.3,1326.7 L1425.4,1325.3 L1425.5,1324.0 L1425.6,1322.6 L1425.7,1321.3 L1425.8,1320.0 L1425.9,1318.7 L1426.0,1317.4 L1426.1,1316.0 L1426.2,1314.7 L1426.3,1313.3 L1426.4,1311.8 L1426.5,1310.3 L1426.5,1309.3 L1426.6,1308.2 L1426.6,1307.2 L1426.7,1306.1 L1426.7,1304.9 L1426.8,1303.8 L1426.9,1302.5 L1426.9,1301.3 L1427.0,1300.0 L1427.1,1298.8 L1427.1,1297.5 L1427.2,1296.2 L1427.2,1294.8 L1427.3,1293.4 L1427.4,1291.9 L1427.4,1290.4 L1427.5,1289.4 L1427.5,1288.4 L1427.5,1287.3 L1427.6,1286.3 L1427.6,1285.2 L1427.7,1284.1 L1427.7,1283.1 L1427.7,1282.0 L1427.8,1280.9 L1427.8,1279.8 L1427.9,1278.7 L1427.9,1277.6 L1427.9,1276.4 L1428.0,1275.3 L1428.0,1274.2 L1428.0,1273.1 L1428.1,1272.0 L1428.1,1270.9 L1428.2,1269.8 L1428.2,1268.7 L1428.2,1267.6 L1428.3,1266.6 L1428.3,1265.5 L1428.4,1264.5 L1428.4,1263.4 L1428.4,1262.4 L1428.5,1261.4 L1428.5,1259.9 L1428.6,1258.4 L1428.7,1257.0 L1428.7,1255.7 L1428.8,1254.3 L1428.8,1253.1 L1428.9,1251.9 L1429.0,1250.7 L1429.0,1249.2 L1429.1,1247.7 L1429.2,1246.2 L1429.3,1244.9 L1429.4,1243.6 L1429.4,1242.3 L1429.5,1241.2 L1429.6,1240.0 L1429.6,1239.0 L1429.7,1238.0 L1429.8,1236.5 L1429.9,1235.2 L1430.0,1234.0 L1430.2,1232.8 L1430.3,1231.7 L1430.5,1230.6 L1430.7,1229.6 L1430.9,1228.6 L1431.2,1227.2 L1431.7,1225.8 L1432.2,1224.6 L1432.7,1223.5 L1433.3,1222.7 L1434.2,1221.7 L1435.1,1221.2 L1436.2,1220.3 L1437.3,1221.6 L1438.2,1222.5 L1438.7,1223.4 L1439.3,1224.4 L1439.8,1225.7 L1440.3,1227.2 L1440.6,1228.3 L1440.8,1229.3 L1441.1,1230.3 L1441.3,1231.3 L1441.5,1232.4 L1441.8,1233.6 L1442.0,1234.8 L1442.2,1236.1 L1442.4,1237.5 L1442.6,1239.0 L1442.7,1240.0 L1442.8,1241.2 L1443.0,1242.3 L1443.1,1243.6 L1443.2,1244.9 L1443.4,1246.2 L1443.5,1247.7 L1443.6,1249.2 L1443.7,1250.4 L1443.8,1251.5 L1443.9,1252.7 L1444.0,1253.9 L1444.1,1255.2 L1444.2,1256.6 L1444.2,1258.0 L1444.3,1259.4 L1444.4,1260.9 L1444.5,1261.9 L1444.5,1262.9 L1444.6,1263.9 L1444.6,1265.0 L1444.7,1266.0 L1444.7,1267.1 L1444.8,1268.2 L1444.8,1269.3 L1444.9,1270.4 L1444.9,1271.5 L1445.0,1272.6 L1445.0,1273.7 L1445.1,1274.8 L1445.1,1275.9 L1445.2,1277.0 L1445.3,1278.1 L1445.3,1279.2 L1445.4,1280.3 L1445.4,1281.4 L1445.5,1282.5 L1445.5,1283.6 L1445.6,1284.7 L1445.6,1285.7 L1445.7,1286.8 L1445.7,1287.9 L1445.8,1288.9 L1445.9,1289.9 L1445.9,1290.9 L1446.0,1292.4 L1446.1,1293.9 L1446.2,1295.3 L1446.3,1296.6 L1446.3,1297.9 L1446.4,1299.2 L1446.6,1300.7 L1446.7,1301.9 L1446.8,1303.1 L1446.9,1304.3 L1447.0,1305.5 L1447.1,1306.6 L1447.2,1307.7 L1447.3,1308.8 L1447.4,1309.8 L1447.5,1310.8 L1447.6,1312.3 L1447.8,1313.7 L1448.0,1315.1 L1448.1,1316.5 L1448.3,1317.8 L1448.5,1319.1 L1448.7,1320.4 L1448.8,1321.8 L1449.0,1323.1 L1449.2,1324.4 L1449.4,1325.8 L1449.6,1327.1 L1449.8,1328.5 L1450.0,1330.0 L1450.2,1331.5 L1450.4,1332.5 L1450.5,1333.5 L1450.7,1334.5 L1450.8,1335.6 L1451.0,1336.6 L1451.1,1337.7 L1451.3,1338.7 L1451.4,1339.7 L1451.6,1340.8 L1451.8,1341.8 L1451.9,1342.9 L1452.1,1343.9 L1452.3,1345.0 L1452.4,1346.0 L1452.6,1347.0 L1452.8,1348.1 L1453.0,1349.1 L1453.1,1350.1 L1453.3,1351.1 L1453.6,1352.5 L1453.8,1353.9 L1454.1,1355.3 L1454.3,1356.7 L1454.6,1358.0 L1454.8,1359.2 L1455.1,1360.6 L1455.4,1361.8 L1455.6,1363.0 L1455.9,1364.1 L1456.1,1365.2 L1456.4,1366.3 L1456.6,1367.3 L1456.8,1368.3 L1457.2,1369.7 L1457.6,1371.0 L1458.0,1372.3 L1458.4,1373.6 L1458.8,1374.8 L1459.2,1376.0 L1459.7,1377.2 L1460.2,1378.5 L1460.7,1379.5 L1461.1,1380.5 L1461.6,1381.4 L1462.1,1382.3 L1462.6,1383.2 L1463.4,1384.5 L1464.2,1385.7 L1465.0,1386.8 L1465.9,1387.9 L1466.8,1389.0 L1467.7,1390.0 L1468.4,1390.7 L1469.5,1391.7 L1470.6,1392.6 L1471.7,1393.5 L1472.9,1394.3 L1474.1,1394.7 L1475.0,1395.8 L1475.9,1397.3 L1476.9,1397.2 L1478.0,1397.4 L1479.1,1397.3 L1480.3,1396.7 L1481.5,1398.5 L1482.7,1399.7 L1484.0,1398.8 L1485.4,1401.4 L1486.7,1400.4 L1487.7,1401.4 L1488.7,1401.1 L1489.7,1400.6 L1490.7,1403.8 L1491.7,1401.2 L1492.8,1403.4 L1493.9,1402.3 L1495.0,1403.3 L1496.2,1402.5 L1497.4,1403.1 L1498.5,1404.5 L1499.6,1405.6 L1500.7,1403.2 L1501.8,1404.2 L1503.0,1405.1 L1504.2,1403.8 L1505.5,1405.2 L1506.8,1403.9 L1508.3,1405.3 L1509.3,1405.2 L1510.4,1405.9 L1511.5,1405.2 L1512.8,1403.8 L1514.0,1405.5 L1515.4,1404.0 L1516.9,1405.6 L1518.4,1406.3 L1520.0,1405.5 L1521.1,1404.5 L1522.2,1406.1 L1523.4,1405.1 L1524.6,1403.9 L1525.9,1404.7 L1527.2,1406.2 L1528.6,1404.7 L1530.0,1405.0 L1531.4,1404.6 L1532.9,1403.3 L1534.4,1404.4 L1535.4,1405.1 L1536.4,1405.0 L1537.5,1404.6 L1538.5,1402.8 L1539.6,1405.8 L1540.6,1405.3 L1541.7,1405.6 L1542.8,1405.8 L1543.8,1404.2 L1544.9,1404.0 L1546.0,1404.8 L1547.1,1406.0 L1548.2,1402.9 L1549.3,1404.2 L1550.4,1403.8 L1551.6,1404.9 L1552.7,1405.6 L1553.8,1404.0 L1554.9,1403.1 L1556.0,1404.3 L1557.1,1403.9 L1558.2,1402.8 L1559.3,1404.9 L1560.4,1403.6 L1561.5,1404.7 L1562.5,1402.8 L1563.6,1405.0 L1564.7,1402.7 L1565.7,1404.9 L1566.8,1402.3 L1567.8,1405.1 L1568.8,1403.5 L1569.8,1402.4 L1570.8,1403.5 L1572.3,1404.0 L1573.8,1402.8 L1575.2,1403.2 L1576.5,1403.8 L1577.9,1403.4 L1579.2,1400.8 L1580.6,1403.1 L1581.8,1403.8 L1583.0,1403.7 L1584.2,1404.3 L1585.4,1402.7 L1586.6,1405.6 L1587.7,1404.0 L1588.8,1403.6 L1590.0,1404.2 L1591.1,1404.1 L1592.2,1403.3 L1593.2,1402.6 L1594.3,1404.1 L1595.4,1403.5 L1596.4,1401.4 L1597.4,1402.1 L1598.5,1403.5 L1599.5,1403.1 L1601.0,1403.2 L1602.4,1403.5 L1603.9,1403.1 L1605.3,1404.3 L1606.7,1402.3 L1608.1,1402.5 L1609.4,1403.1 L1610.8,1403.4 L1612.1,1403.4 L1613.4,1404.0 L1614.6,1402.2 L1615.9,1403.7 L1617.2,1403.0 L1618.4,1401.6 L1619.6,1402.4 L1620.6,1404.4 L1621.9,1403.2 L1623.1,1402.0 L1624.3,1400.2 L1625.4,1401.7 L1626.6,1401.7 L1627.7,1402.4 L1628.8,1404.3 L1629.8,1402.9 L1630.8,1402.5 L1631.9,1401.3 L1633.3,1401.0 L1634.8,1401.9 L1636.2,1401.6 L1637.5,1404.7 L1638.8,1401.5 L1640.1,1401.3 L1641.4,1402.8 L1642.6,1401.8 L1643.8,1400.5 L1645.0,1402.7 L1646.3,1401.1 L1647.4,1400.1 L1648.5,1401.4 L1649.6,1401.4 L1650.6,1400.5 L1652.0,1401.2 L1653.3,1401.0 L1654.7,1399.2 L1655.9,1397.9 L1657.2,1397.4 L1658.6,1399.1 L1660.0,1400.1 L1661.4,1399.7 L1662.8,1399.7 L1664.1,1399.9 L1665.3,1398.0 L1666.7,1398.6 L1668.0,1396.1 L1669.4,1397.8 L1670.4,1397.4 L1671.5,1396.8 L1672.6,1396.4 L1673.7,1395.6 L1675.0,1396.6 L1676.2,1397.6 L1677.5,1396.0 L1678.9,1396.7 L1680.4,1395.6 L1681.4,1396.4 L1682.4,1395.3 L1683.4,1396.5 L1684.5,1395.9 L1685.6,1396.4 L1686.6,1395.5 L1687.7,1395.0 L1688.8,1395.7 L1689.8,1396.9 L1690.9,1397.4 L1692.0,1395.7 L1693.0,1396.7 L1694.0,1396.6 L1695.0,1396.2 L1696.5,1394.4 L1697.9,1396.0 L1699.2,1394.7 L1700.6,1396.5 L1701.8,1396.0 L1703.0,1395.7 L1704.1,1392.6 L1705.2,1395.3 L1706.2,1395.2 L1707.2,1393.2 L1708.2,1395.0 L1709.6,1393.8 L1711.0,1393.2 L1712.3,1392.4 L1713.6,1391.8 L1714.8,1392.0 L1716.0,1394.8 L1717.1,1391.9 L1718.2,1391.5 L1719.3,1390.5 L1720.2,1390.2 L1721.6,1389.8 L1722.9,1389.0 L1724.1,1390.0 L1725.3,1388.3 L1726.4,1387.7 L1727.4,1386.8 L1728.4,1385.8 L1729.3,1384.7 L1730.1,1383.6 L1730.9,1382.3 L1731.4,1381.4 L1731.9,1380.5 L1732.6,1379.2 L1733.1,1378.0 L1733.7,1376.8 L1734.2,1375.4 L1734.7,1374.1 L1735.0,1373.1 L1735.4,1372.1 L1735.7,1371.2 L1736.0,1370.1 L1736.3,1369.1 L1736.7,1368.1 L1737.0,1367.0 L1737.4,1365.8 L1737.8,1364.8 L1738.1,1363.8 L1738.5,1362.9 L1738.8,1361.9 L1739.2,1360.8 L1739.5,1359.6 L1739.9,1358.3 L1740.2,1357.2 L1740.5,1356.1 L1740.8,1354.8 L1741.1,1353.4 L1741.4,1351.8 L1741.7,1350.0 L1741.9,1349.0 L1742.1,1347.9 L1742.3,1346.8 L1742.5,1345.6 L1742.7,1344.4 L1742.9,1343.2 L1743.1,1341.8 L1743.3,1340.5 L1743.5,1339.1 L1743.7,1337.7 L1744.0,1336.3 L1744.2,1334.8 L1744.3,1333.8 L1744.5,1332.8 L1744.6,1331.8 L1744.8,1330.7 L1745.0,1329.7 L1745.1,1328.6 L1745.3,1327.6 L1745.4,1326.5 L1745.6,1325.5 L1745.7,1324.4 L1745.9,1323.3 L1746.1,1322.2 L1746.2,1321.2 L1746.4,1320.1 L1746.5,1319.0 L1746.7,1317.9 L1746.8,1316.8 L1747.0,1315.7 L1747.2,1314.6 L1747.3,1313.5 L1747.5,1312.5 L1747.6,1311.4 L1747.8,1310.3 L1747.9,1309.2 L1748.1,1308.2 L1748.2,1307.1 L1748.4,1306.1 L1748.5,1305.0 L1748.6,1304.0 L1748.8,1303.0 L1748.9,1302.0 L1749.1,1301.0 L1749.3,1299.5 L1749.5,1298.0 L1749.7,1296.5 L1749.9,1295.0 L1750.1,1293.6 L1750.3,1292.1 L1750.5,1290.6 L1750.7,1289.1 L1750.9,1287.6 L1751.1,1286.1 L1751.3,1284.7 L1751.5,1283.2 L1751.7,1281.7 L1751.9,1280.2 L1752.1,1278.7 L1752.3,1277.2 L1752.5,1275.7 L1752.6,1274.3 L1752.8,1272.8 L1753.0,1271.3 L1753.2,1269.8 L1753.4,1268.3 L1753.6,1266.8 L1753.8,1265.3 L1753.9,1263.9 L1754.1,1262.4 L1754.3,1260.9 L1754.5,1259.4 L1754.6,1257.9 L1754.8,1256.4 L1755.0,1255.0 L1755.1,1253.5 L1755.3,1252.0 L1755.4,1250.5 L1755.6,1249.0 L1755.8,1247.5 L1755.9,1246.0 L1756.1,1244.6 L1756.2,1243.1 L1756.3,1241.6 L1756.5,1240.1 L1756.6,1238.6 L1756.8,1237.1 L1756.9,1235.6 L1757.0,1234.2 L1757.1,1232.7 L1757.3,1231.2 L1757.4,1229.7 L1757.5,1228.2 L1757.6,1226.7 L1757.8,1225.2 L1757.9,1223.8 L1758.0,1222.3 L1758.1,1220.8 L1758.2,1219.3 L1758.4,1217.8 L1758.5,1216.3 L1758.6,1214.9 L1758.7,1213.4 L1758.8,1211.9 L1758.9,1210.4 L1759.1,1208.9 L1759.2,1207.4 L1759.3,1205.9 L1759.4,1204.5 L1759.6,1203.0 L1759.7,1201.5 L1759.8,1200.0 L1759.9,1198.5 L1760.1,1197.0 L1760.2,1195.6 L1760.3,1194.1 L1760.4,1192.7 L1760.6,1191.2 L1760.7,1189.8 L1760.8,1188.3 L1760.9,1186.9 L1761.1,1185.5 L1761.2,1184.0 L1761.3,1182.6 L1761.5,1181.2 L1761.6,1179.7 L1761.7,1178.3 L1761.8,1176.8 L1762.0,1175.4 L1762.1,1173.9 L1762.2,1172.5 L1762.4,1171.0 L1762.5,1169.5 L1762.6,1168.1 L1762.7,1166.6 L1762.8,1165.1 L1762.9,1164.1 L1763.0,1163.1 L1763.1,1162.1 L1763.2,1161.0 L1763.3,1160.0 L1763.3,1159.0 L1763.4,1158.0 L1763.5,1156.9 L1763.6,1155.9 L1763.7,1154.8 L1763.7,1153.8 L1763.8,1152.7 L1763.9,1151.6 L1764.0,1150.5 L1764.0,1149.5 L1764.1,1148.2 L1764.2,1146.8 L1764.3,1145.4 L1764.4,1143.9 L1764.5,1142.5 L1764.6,1141.0 L1764.7,1139.6 L1764.8,1138.1 L1764.9,1136.6 L1764.9,1135.6 L1765.0,1134.6 L1765.0,1133.6 L1765.1,1132.6 L1765.2,1131.6 L1765.2,1130.5 L1765.3,1129.5 L1765.3,1128.5 L1765.4,1127.5 L1765.4,1126.4 L1765.5,1125.4 L1765.6,1124.4 L1765.6,1123.4 L1765.7,1122.3 L1765.7,1121.3 L1765.8,1120.3 L1765.8,1119.2 L1765.9,1118.2 L1765.9,1117.2 L1766.0,1116.1 L1766.1,1115.1 L1766.1,1114.1 L1766.2,1113.0 L1766.2,1112.0 L1766.3,1111.0 L1766.3,1110.0 L1766.4,1109.0 L1766.5,1107.9 L1766.5,1106.9 L1766.6,1105.9 L1766.6,1104.9 L1766.7,1103.9 L1766.8,1102.4 L1766.8,1100.9 L1766.9,1099.5 L1767.0,1098.0 L1767.1,1096.5 L1767.2,1095.1 L1767.3,1093.7 L1767.4,1092.3 L1767.4,1090.9 L1767.5,1089.5 L1767.6,1088.4 L1767.7,1087.3 L1767.7,1086.2 L1767.8,1085.1 L1767.9,1084.1 L1767.9,1083.0 L1768.0,1081.9 L1768.1,1080.9 L1768.1,1079.8 L1768.2,1078.8 L1768.3,1077.7 L1768.3,1076.7 L1768.4,1075.7 L1768.5,1074.6 L1768.5,1073.6 L1768.6,1072.6 L1768.7,1071.5 L1768.7,1070.5 L1768.8,1069.5 L1768.9,1068.5 L1768.9,1067.5 L1769.0,1066.5 L1769.1,1065.5 L1769.2,1064.0 L1769.3,1062.5 L1769.4,1061.0 L1769.5,1059.6 L1769.6,1058.1 L1769.7,1056.7 L1769.8,1055.2 L1769.9,1053.8 L1770.0,1052.4 L1770.1,1051.0 L1770.2,1049.6 L1770.3,1048.2 L1770.4,1046.8 L1770.5,1045.4 L1770.7,1044.0 L1770.8,1042.7 L1770.9,1041.3 L1771.0,1040.0 L1771.1,1038.9 L1771.2,1037.8 L1771.3,1036.7 L1771.4,1035.6 L1771.5,1034.6 L1771.6,1033.5 L1771.7,1032.5 L1771.8,1031.5 L1771.9,1030.4 L1772.0,1029.4 L1772.1,1028.4 L1772.2,1027.4 L1772.4,1025.9 L1772.6,1024.5 L1772.7,1023.0 L1772.9,1021.5 L1773.0,1020.1 L1773.2,1018.7 L1773.4,1017.2 L1773.5,1015.8 L1773.7,1014.4 L1773.9,1013.0 L1774.1,1011.5 L1774.2,1010.1 L1774.4,1008.7 L1774.6,1007.3 L1774.8,1005.8 L1775.0,1004.4 L1775.1,1002.9 L1775.3,1001.5 L1775.5,1000.0 L1775.7,998.5 L1775.9,997.0 L1776.1,995.6 L1776.3,994.1 L1776.5,992.6 L1776.7,991.1 L1776.9,989.6 L1777.1,988.1 L1777.3,986.7 L1777.5,985.2 L1777.7,983.7 L1777.9,982.2 L1778.1,980.7 L1778.3,979.3 L1778.5,977.8 L1778.7,976.3 L1779.0,974.8 L1779.2,973.3 L1779.4,971.9 L1779.6,970.4 L1779.8,968.9 L1780.0,967.4 L1780.2,965.9 L1780.4,964.4 L1780.6,963.0 L1780.8,961.5 L1781.0,960.0 L1781.2,958.5 L1781.4,957.0 L1781.6,955.6 L1781.8,954.1 L1782.0,952.6 L1782.2,951.1 L1782.4,949.6 L1782.5,948.1 L1782.7,946.7 L1782.9,945.2 L1783.1,943.7 L1783.3,942.2 L1783.5,940.7 L1783.7,939.3 L1783.9,937.8 L1784.1,936.3 L1784.2,934.8 L1784.4,933.3 L1784.6,931.9 L1784.8,930.4 L1785.0,928.9 L1785.1,927.4 L1785.3,925.9 L1785.5,924.4 L1785.7,923.0 L1785.8,921.5 L1786.0,920.0 L1786.2,918.5 L1786.3,917.1 L1786.5,915.6 L1786.6,914.2 L1786.8,912.7 L1787.0,911.3 L1787.1,909.9 L1787.3,908.5 L1787.4,907.0 L1787.6,905.6 L1787.7,904.2 L1787.8,902.8 L1788.0,901.3 L1788.1,899.9 L1788.3,898.5 L1788.4,897.0 L1788.6,895.5 L1788.7,894.1 L1788.8,892.6 L1788.9,891.6 L1789.0,890.6 L1789.1,889.6 L1789.2,888.5 L1789.3,887.5 L1789.4,886.5 L1789.5,885.4 L1789.6,884.4 L1789.7,883.3 L1789.8,882.2 L1789.9,881.1 L1790.0,880.0 L1790.1,878.7 L1790.2,877.3 L1790.4,875.9 L1790.5,874.5 L1790.6,873.0 L1790.7,871.6 L1790.8,870.1 L1791.0,868.6 L1791.0,867.6 L1791.1,866.6 L1791.2,865.6 L1791.3,864.6 L1791.4,863.5 L1791.4,862.5 L1791.5,861.5 L1791.6,860.4 L1791.7,859.4 L1791.8,858.4 L1791.9,857.3 L1791.9,856.3 L1792.0,855.3 L1792.1,854.2 L1792.2,853.2 L1792.3,852.1 L1792.3,851.1 L1792.4,850.1 L1792.5,849.0 L1792.6,848.0 L1792.7,847.0 L1792.7,846.0 L1792.8,844.9 L1792.9,843.9 L1793.0,842.9 L1793.0,841.9 L1793.1,840.9 L1793.2,839.4 L1793.4,838.0 L1793.5,836.5 L1793.6,835.1 L1793.7,833.7 L1793.8,832.3 L1793.9,830.9 L1794.0,829.4 L1794.1,828.3 L1794.2,827.3 L1794.3,826.2 L1794.4,825.1 L1794.5,824.1 L1794.6,823.0 L1794.7,822.0 L1794.8,820.9 L1794.9,819.9 L1795.0,818.9 L1795.1,817.9 L1795.2,816.9 L1795.3,815.4 L1795.5,813.9 L1795.6,812.5 L1795.8,811.0 L1795.9,809.6 L1796.0,808.1 L1796.2,806.7 L1796.3,805.3 L1796.4,803.8 L1796.5,802.4 L1796.7,801.0 L1796.8,799.6 L1796.9,798.2 L1797.0,796.7 L1797.1,795.3 L1797.2,793.9 L1797.3,792.4 L1797.4,791.0 L1797.5,789.5 L1797.6,788.5 L1797.6,787.5 L1797.7,786.0 L1797.8,784.5 L1797.9,783.0 L1797.9,781.5 L1798.0,780.0 L1798.1,778.5 L1798.1,777.1 L1798.2,775.6 L1798.2,774.1 L1798.2,772.6 L1798.3,771.1 L1798.3,769.6 L1798.4,768.2 L1798.4,766.7 L1798.5,765.2 L1798.5,763.7 L1798.5,762.3 L1798.6,760.8 L1798.6,759.3 L1798.7,757.8 L1798.7,756.4 L1798.8,754.9 L1798.8,753.4 L1798.9,752.0 L1798.9,750.5 L1799.0,749.0 L1799.0,747.5 L1799.1,746.0 L1799.2,744.5 L1799.2,743.0 L1799.3,741.6 L1799.4,740.1 L1799.5,738.6 L1799.5,737.1 L1799.6,735.6 L1799.7,734.2 L1799.7,732.7 L1799.8,731.2 L1799.9,729.7 L1799.9,728.3 L1800.0,726.8 L1800.1,725.3 L1800.1,723.8 L1800.2,722.4 L1800.3,720.9 L1800.3,719.4 L1800.4,717.9 L1800.5,716.5 L1800.5,715.0 L1800.6,713.5 L1800.6,712.0 L1800.7,710.5 L1800.7,709.0 L1800.8,707.6 L1800.8,706.1 L1800.9,704.6 L1800.9,703.1 L1800.9,701.6 L1801.0,700.1 L1801.0,698.6 L1801.1,697.2 L1801.1,695.7 L1801.1,694.2 L1801.2,692.7 L1801.2,691.2 L1801.2,689.7 L1801.3,688.3 L1801.3,686.8 L1801.4,685.3 L1801.4,683.8 L1801.4,682.3 L1801.5,680.9 L1801.5,679.4 L1801.6,677.9 L1801.6,676.5 L1801.7,675.0 L1801.8,673.5 L1801.8,672.0 L1801.9,670.5 L1802.0,669.0 L1802.0,667.6 L1802.1,666.1 L1802.2,664.6 L1802.2,663.1 L1802.3,661.6 L1802.4,660.2 L1802.4,658.7 L1802.5,657.2 L1802.6,655.8 L1802.7,654.3 L1802.8,652.8 L1802.8,651.4 L1802.9,649.9 L1803.0,648.4 L1803.1,646.9 L1803.2,645.4 L1803.2,644.0 L1803.3,642.5 L1803.4,641.0 L1803.5,639.5 L1803.6,638.0 L1803.7,636.5 L1803.8,635.1 L1803.9,633.6 L1804.0,632.2 L1804.1,630.7 L1804.2,629.3 L1804.3,627.8 L1804.4,626.4 L1804.5,624.9 L1804.6,623.5 L1804.7,622.0 L1804.8,620.5 L1804.9,619.1 L1805.0,617.6 L1805.1,616.1 L1805.2,614.6 L1805.3,613.2 L1805.4,611.7 L1805.5,610.2 L1805.6,609.2 L1805.7,608.2 L1805.7,607.2 L1805.8,606.2 L1805.9,605.1 L1805.9,604.1 L1806.0,603.1 L1806.1,602.1 L1806.1,601.0 L1806.2,600.0 L1806.3,598.6 L1806.4,597.2 L1806.5,595.7 L1806.5,594.3 L1806.6,592.9 L1806.7,591.5 L1806.8,590.0 L1806.8,588.6 L1806.9,587.1 L1807.0,585.7 L1807.1,584.2 L1807.1,582.8 L1807.2,581.3 L1807.3,579.8 L1807.4,578.3 L1807.4,576.8 L1807.5,575.4 L1807.6,573.9 L1807.6,572.9 L1807.7,571.8 L1807.7,570.8 L1807.8,569.8 L1807.9,568.8 L1807.9,567.8 L1808.0,566.8 L1808.0,565.8 L1808.1,564.7 L1808.1,563.7 L1808.2,562.7 L1808.3,561.6 L1808.3,560.6 L1808.4,559.6 L1808.5,558.5 L1808.6,557.1 L1808.7,555.6 L1808.8,554.2 L1808.9,552.7 L1808.9,551.7 L1809.0,550.7 L1809.1,549.7 L1809.1,548.6 L1809.2,547.6 L1809.3,546.6 L1809.3,545.5 L1809.4,544.5 L1809.5,543.4 L1809.6,542.4 L1809.6,541.3 L1809.7,540.3 L1809.8,539.2 L1809.9,538.2 L1809.9,537.1 L1810.0,536.1 L1810.1,535.0 L1810.2,534.0 L1810.2,532.9 L1810.3,531.9 L1810.4,530.8 L1810.5,529.8 L1810.5,528.7 L1810.6,527.7 L1810.7,526.7 L1810.8,525.7 L1810.9,524.7 L1811.0,523.2 L1811.1,521.7 L1811.2,520.3 L1811.3,518.9 L1811.4,517.5 L1811.5,516.1 L1811.7,514.8 L1811.8,513.5 L1811.9,512.2 L1812.0,511.0 L1812.1,509.7 L1812.2,508.5 L1812.4,507.2 L1812.5,506.0 L1812.6,504.8 L1812.7,503.7 L1812.8,502.5 L1813.0,501.4 L1813.1,500.3 L1813.2,499.2 L1813.3,498.2 L1813.5,497.2 L1813.6,496.1 L1813.7,495.1 L1813.9,493.7 L1814.1,492.3 L1814.2,490.9 L1814.4,489.6 L1814.6,488.3 L1814.8,487.0 L1814.9,485.8 L1815.1,484.6 L1815.3,483.5 L1815.4,482.4 L1815.6,481.2 L1815.8,479.8 L1816.1,478.3 L1816.3,476.9 L1816.5,475.6 L1816.7,474.3 L1816.9,473.1 L1817.1,472.1 L1817.4,470.7 L1817.7,469.6 L1818.2,468.6 L1819.0,469.3 L1819.3,470.3 L1819.6,471.6 L1819.8,472.6 L1820.0,473.7 L1820.2,474.9 L1820.3,476.2 L1820.5,477.6 L1820.7,479.0 L1820.8,480.5 L1821.0,482.0 L1821.1,483.1 L1821.2,484.2 L1821.3,485.4 L1821.4,486.6 L1821.4,487.8 L1821.5,489.1 L1821.6,490.4 L1821.6,491.8 L1821.7,493.2 L1821.8,494.6 L1821.8,496.1 L1821.9,497.2 L1821.9,498.2 L1822.0,499.2 L1822.0,500.3 L1822.1,501.4 L1822.1,502.5 L1822.1,503.7 L1822.2,504.8 L1822.3,506.0 L1822.3,507.2 L1822.4,508.5 L1822.4,509.7 L1822.5,511.0 L1822.6,512.2 L1822.6,513.5 L1822.7,514.8 L1822.8,516.1 L1822.8,517.5 L1822.9,518.9 L1823.0,520.3 L1823.1,521.7 L1823.1,523.2 L1823.2,524.7 L1823.3,525.7 L1823.3,526.7 L1823.4,527.7 L1823.4,528.7 L1823.5,529.8 L1823.5,530.8 L1823.6,531.9 L1823.6,532.9 L1823.7,534.0 L1823.8,535.0 L1823.8,536.1 L1823.9,537.1 L1823.9,538.2 L1824.0,539.2 L1824.0,540.3 L1824.1,541.3 L1824.1,542.4 L1824.2,543.4 L1824.3,544.5 L1824.3,545.5 L1824.4,546.6 L1824.4,547.6 L1824.5,548.6 L1824.5,549.7 L1824.6,550.7 L1824.6,551.7 L1824.7,552.7 L1824.8,554.2 L1824.9,555.6 L1824.9,557.1 L1825.0,558.5 L1825.1,559.6 L1825.1,560.6 L1825.2,561.6 L1825.3,562.7 L1825.3,563.7 L1825.4,564.7 L1825.5,565.8 L1825.5,566.8 L1825.6,567.8 L1825.6,568.8 L1825.7,569.8 L1825.8,570.8 L1825.8,571.8 L1825.9,572.9 L1826.0,573.9 L1826.0,574.9 L1826.1,576.3 L1826.2,577.8 L1826.3,579.3 L1826.4,580.8 L1826.5,582.3 L1826.6,583.7 L1826.7,585.2 L1826.8,586.6 L1826.9,588.1 L1827.0,589.5 L1827.0,591.0 L1827.1,592.4 L1827.2,593.8 L1827.3,595.3 L1827.3,596.7 L1827.4,598.1 L1827.5,599.5 L1827.5,601.0 L1827.6,602.1 L1827.6,603.1 L1827.7,604.1 L1827.7,605.1 L1827.8,606.2 L1827.8,607.2 L1827.8,608.2 L1827.9,609.2 L1827.9,610.2 L1827.9,611.7 L1828.0,613.2 L1828.0,614.6 L1828.1,616.1 L1828.1,617.6 L1828.2,619.1 L1828.2,620.5 L1828.2,622.0 L1828.3,623.5 L1828.3,624.9 L1828.3,626.4 L1828.4,627.8 L1828.4,629.3 L1828.4,630.7 L1828.5,632.2 L1828.5,633.6 L1828.5,635.1 L1828.6,636.5 L1828.6,638.0 L1828.6,639.5 L1828.7,641.0 L1828.7,642.5 L1828.7,644.0 L1828.8,645.4 L1828.8,646.9 L1828.8,648.4 L1828.8,649.9 L1828.9,651.4 L1828.9,652.8 L1828.9,654.3 L1828.9,655.8 L1829.0,657.2 L1829.0,658.7 L1829.0,660.2 L1829.0,661.6 L1829.1,663.1 L1829.1,664.6 L1829.1,666.1 L1829.1,667.6 L1829.2,669.0 L1829.2,670.5 L1829.2,672.0 L1829.3,673.5 L1829.3,675.0 L1829.3,676.5 L1829.4,677.9 L1829.4,679.4 L1829.4,680.9 L1829.5,682.3 L1829.5,683.8 L1829.6,685.3 L1829.6,686.8 L1829.6,688.3 L1829.7,689.7 L1829.7,691.2 L1829.8,692.7 L1829.8,694.2 L1829.9,695.7 L1829.9,697.2 L1829.9,698.6 L1830.0,700.1 L1830.0,701.6 L1830.1,703.1 L1830.2,704.6 L1830.2,706.1 L1830.3,707.6 L1830.3,709.0 L1830.4,710.5 L1830.5,712.0 L1830.5,713.5 L1830.6,715.0 L1830.7,716.5 L1830.8,717.9 L1830.8,719.4 L1830.9,720.9 L1831.0,722.4 L1831.1,723.8 L1831.2,725.3 L1831.3,726.8 L1831.4,728.3 L1831.5,729.7 L1831.6,731.2 L1831.7,732.7 L1831.8,734.2 L1831.9,735.6 L1832.0,737.1 L1832.1,738.6 L1832.2,740.1 L1832.3,741.6 L1832.4,743.0 L1832.5,744.5 L1832.5,746.0 L1832.6,747.5 L1832.7,749.0 L1832.8,750.5 L1832.8,752.0 L1832.9,753.4 L1833.0,754.8 L1833.0,756.1 L1833.1,757.5 L1833.1,758.8 L1833.2,760.1 L1833.2,761.3 L1833.2,762.6 L1833.3,763.9 L1833.3,765.2 L1833.4,766.5 L1833.4,767.8 L1833.4,769.2 L1833.5,770.5 L1833.5,771.9 L1833.5,773.4 L1833.6,774.8 L1833.6,775.8 L1833.6,776.9 L1833.7,777.9 L1833.7,779.0 L1833.7,780.1 L1833.8,781.2 L1833.8,782.4 L1833.8,783.6 L1833.9,784.8 L1833.9,786.0 L1833.9,787.3 L1834.0,788.6 L1834.0,790.0 L1834.0,791.2 L1834.1,792.4 L1834.1,793.6 L1834.1,794.8 L1834.2,796.1 L1834.2,797.4 L1834.3,798.7 L1834.3,800.0 L1834.3,801.3 L1834.4,802.7 L1834.4,804.0 L1834.5,805.4 L1834.5,806.8 L1834.5,808.3 L1834.6,809.7 L1834.6,811.2 L1834.7,812.6 L1834.7,814.1 L1834.8,815.6 L1834.8,816.6 L1834.8,817.6 L1834.8,818.6 L1834.9,819.6 L1834.9,820.6 L1834.9,821.7 L1835.0,822.7 L1835.0,823.7 L1835.0,824.8 L1835.0,825.8 L1835.1,826.9 L1835.1,827.9 L1835.1,828.9 L1835.2,830.0 L1835.2,831.1 L1835.2,832.1 L1835.3,833.2 L1835.3,834.2 L1835.3,835.3 L1835.3,836.4 L1835.4,837.4 L1835.4,838.5 L1835.4,839.6 L1835.5,840.7 L1835.5,841.7 L1835.5,842.8 L1835.6,843.9 L1835.6,845.0 L1835.6,846.0 L1835.6,847.1 L1835.7,848.2 L1835.7,849.3 L1835.7,850.4 L1835.8,851.4 L1835.8,852.5 L1835.8,853.6 L1835.9,854.7 L1835.9,855.7 L1835.9,856.8 L1835.9,857.9 L1836.0,858.9 L1836.0,860.0 L1836.0,861.4 L1836.1,862.8 L1836.1,864.3 L1836.1,865.7 L1836.2,867.1 L1836.2,868.6 L1836.3,870.1 L1836.3,871.6 L1836.3,873.1 L1836.3,874.1 L1836.4,875.1 L1836.4,876.1 L1836.4,877.1 L1836.4,878.1 L1836.5,879.1 L1836.5,880.1 L1836.5,881.2 L1836.5,882.2 L1836.6,883.2 L1836.6,884.3 L1836.6,885.3 L1836.6,886.3 L1836.6,887.4 L1836.7,888.4 L1836.7,889.4 L1836.7,890.5 L1836.7,891.5 L1836.8,892.6 L1836.8,893.6 L1836.8,894.6 L1836.8,895.7 L1836.9,896.7 L1836.9,897.8 L1836.9,898.8 L1836.9,899.8 L1836.9,900.9 L1837.0,901.9 L1837.0,903.0 L1837.0,904.0 L1837.0,905.0 L1837.1,906.1 L1837.1,907.1 L1837.1,908.1 L1837.1,909.2 L1837.2,910.2 L1837.2,911.2 L1837.2,912.2 L1837.2,913.3 L1837.3,914.3 L1837.3,915.3 L1837.3,916.3 L1837.3,917.3 L1837.4,918.3 L1837.4,919.8 L1837.4,921.3 L1837.5,922.8 L1837.5,924.2 L1837.6,925.7 L1837.6,927.1 L1837.6,928.6 L1837.7,930.0 L1837.7,931.4 L1837.8,932.8 L1837.8,934.2 L1837.8,935.6 L1837.9,936.9 L1837.9,938.2 L1838.0,939.6 L1838.0,940.6 L1838.1,941.7 L1838.1,942.9 L1838.1,944.0 L1838.2,945.1 L1838.2,946.2 L1838.3,947.3 L1838.3,948.4 L1838.4,949.5 L1838.4,950.5 L1838.5,951.6 L1838.5,952.7 L1838.6,953.7 L1838.6,954.7 L1838.6,955.8 L1838.7,956.8 L1838.7,957.8 L1838.8,958.8 L1838.8,959.8 L1838.9,961.3 L1839.0,962.8 L1839.1,964.3 L1839.1,965.7 L1839.2,967.2 L1839.3,968.6 L1839.4,970.1 L1839.5,971.5 L1839.5,972.9 L1839.6,974.3 L1839.7,975.7 L1839.8,977.1 L1839.8,978.6 L1839.9,980.0 L1840.0,981.4 L1840.1,982.8 L1840.2,984.2 L1840.2,985.6 L1840.3,987.0 L1840.4,988.4 L1840.5,989.8 L1840.5,991.3 L1840.6,992.7 L1840.7,994.1 L1840.8,995.6 L1840.9,997.0 L1840.9,998.5 L1841.0,1000.0 L1841.1,1001.5 L1841.1,1003.0 L1841.2,1004.5 L1841.3,1006.0 L1841.4,1007.4 L1841.4,1008.9 L1841.5,1010.4 L1841.6,1011.9 L1841.7,1013.4 L1841.7,1014.9 L1841.8,1016.4 L1841.9,1017.9 L1841.9,1019.3 L1842.0,1020.8 L1842.1,1022.3 L1842.1,1023.8 L1842.2,1025.3 L1842.3,1026.8 L1842.4,1028.3 L1842.4,1029.8 L1842.5,1031.2 L1842.6,1032.7 L1842.6,1034.2 L1842.7,1035.7 L1842.8,1037.2 L1842.9,1038.7 L1842.9,1040.2 L1843.0,1041.7 L1843.1,1043.1 L1843.2,1044.6 L1843.2,1046.1 L1843.3,1047.6 L1843.4,1049.1 L1843.5,1050.6 L1843.6,1052.1 L1843.6,1053.6 L1843.7,1055.0 L1843.8,1056.5 L1843.9,1058.0 L1844.0,1059.5 L1844.1,1061.0 L1844.1,1062.5 L1844.2,1063.9 L1844.3,1065.4 L1844.4,1066.8 L1844.5,1068.3 L1844.6,1069.7 L1844.7,1071.1 L1844.8,1072.5 L1844.9,1073.9 L1845.0,1075.4 L1845.1,1076.8 L1845.2,1078.2 L1845.3,1079.6 L1845.4,1081.0 L1845.5,1082.4 L1845.6,1083.8 L1845.7,1085.2 L1845.8,1086.6 L1845.9,1088.0 L1846.0,1089.5 L1846.1,1090.9 L1846.2,1092.3 L1846.3,1093.8 L1846.4,1095.2 L1846.5,1096.7 L1846.6,1098.2 L1846.7,1099.7 L1846.8,1100.7 L1846.8,1101.7 L1846.9,1102.7 L1847.0,1103.7 L1847.0,1104.7 L1847.1,1105.8 L1847.2,1106.8 L1847.3,1107.9 L1847.3,1108.9 L1847.4,1110.0 L1847.5,1111.1 L1847.5,1112.2 L1847.6,1113.2 L1847.7,1114.3 L1847.7,1115.5 L1847.8,1116.6 L1847.9,1117.7 L1847.9,1118.8 L1848.0,1120.0 L1848.1,1121.3 L1848.1,1122.7 L1848.2,1124.0 L1848.3,1125.4 L1848.4,1126.8 L1848.4,1128.2 L1848.5,1129.7 L1848.6,1131.1 L1848.7,1132.6 L1848.7,1134.1 L1848.8,1135.1 L1848.8,1136.1 L1848.9,1137.1 L1848.9,1138.1 L1849.0,1139.2 L1849.0,1140.2 L1849.1,1141.2 L1849.1,1142.3 L1849.1,1143.3 L1849.2,1144.4 L1849.2,1145.4 L1849.3,1146.5 L1849.3,1147.5 L1849.4,1148.6 L1849.4,1149.7 L1849.5,1150.7 L1849.5,1151.8 L1849.6,1152.9 L1849.6,1153.9 L1849.7,1155.0 L1849.7,1156.1 L1849.7,1157.1 L1849.8,1158.2 L1849.8,1159.3 L1849.9,1160.4 L1849.9,1161.4 L1850.0,1162.5 L1850.0,1163.6 L1850.1,1164.6 L1850.1,1165.7 L1850.2,1166.8 L1850.2,1167.8 L1850.3,1168.9 L1850.3,1169.9 L1850.4,1171.0 L1850.4,1172.0 L1850.5,1173.1 L1850.5,1174.1 L1850.6,1175.2 L1850.6,1176.2 L1850.7,1177.2 L1850.7,1178.2 L1850.8,1179.3 L1850.8,1180.3 L1850.9,1181.3 L1851.0,1182.8 L1851.1,1184.2 L1851.1,1185.7 L1851.2,1187.1 L1851.3,1188.6 L1851.4,1190.0 L1851.5,1191.4 L1851.6,1192.7 L1851.7,1194.1 L1851.8,1195.4 L1851.8,1196.7 L1851.9,1197.9 L1852.0,1199.2 L1852.2,1200.6 L1852.3,1201.9 L1852.4,1203.1 L1852.5,1204.4 L1852.6,1205.6 L1852.7,1206.7 L1852.8,1207.9 L1852.9,1209.0 L1853.0,1210.2 L1853.1,1211.3 L1853.3,1212.4 L1853.4,1213.4 L1853.5,1214.5 L1853.6,1215.5 L1853.7,1216.5 L1853.9,1217.6 L1854.0,1218.6 L1854.2,1220.0 L1854.4,1221.5 L1854.5,1222.9 L1854.7,1224.3 L1854.9,1225.7 L1855.1,1227.1 L1855.3,1228.5 L1855.5,1229.8 L1855.7,1231.2 L1855.9,1232.5 L1856.1,1233.9 L1856.3,1235.2 L1856.5,1236.5 L1856.7,1237.9 L1856.9,1239.2 L1857.1,1240.6 L1857.3,1241.9 L1857.5,1243.3 L1857.7,1244.7 L1857.9,1246.1 L1858.2,1247.6 L1858.4,1249.0 L1858.6,1250.5 L1858.8,1252.0 L1859.0,1253.4 L1859.2,1254.9 L1859.4,1256.4 L1859.6,1257.8 L1859.8,1259.3 L1859.9,1260.8 L1860.1,1262.3 L1860.3,1263.7 L1860.5,1265.2 L1860.7,1266.7 L1860.9,1268.1 L1861.1,1269.6 L1861.3,1271.1 L1861.5,1272.5 L1861.7,1274.0 L1861.9,1275.5 L1862.1,1277.0 L1862.3,1278.4 L1862.6,1279.9 L1862.8,1281.4 L1863.0,1282.8 L1863.2,1284.3 L1863.5,1285.8 L1863.7,1287.3 L1863.9,1288.7 L1864.2,1290.2 L1864.4,1291.7 L1864.7,1293.1 L1865.0,1294.6 L1865.2,1296.1 L1865.5,1297.5 L1865.8,1299.0 L1866.1,1300.5 L1866.4,1301.9 L1866.7,1303.4 L1866.9,1304.4 L1867.1,1305.4 L1867.4,1306.4 L1867.6,1307.4 L1867.8,1308.4 L1868.0,1309.4 L1868.3,1310.4 L1868.5,1311.4 L1868.7,1312.5 L1869.0,1313.5 L1869.2,1314.5 L1869.5,1315.5 L1869.7,1316.6 L1870.0,1317.6 L1870.2,1318.6 L1870.5,1319.6 L1870.7,1320.7 L1871.0,1321.7 L1871.2,1322.7 L1871.5,1323.7 L1871.8,1324.7 L1872.0,1325.7 L1872.3,1326.8 L1872.5,1327.8 L1872.8,1328.8 L1873.1,1329.8 L1873.3,1330.7 L1873.6,1331.7 L1873.9,1332.7 L1874.1,1333.7 L1874.4,1334.7 L1874.8,1336.1 L1875.2,1337.5 L1875.6,1338.9 L1875.9,1340.3 L1876.3,1341.6 L1876.7,1343.0 L1877.1,1344.3 L1877.4,1345.6 L1877.8,1346.8 L1878.1,1348.0 L1878.5,1349.2 L1878.9,1350.6 L1879.2,1351.9 L1879.6,1353.1 L1879.9,1354.3 L1880.3,1355.4 L1880.6,1356.6 L1881.0,1357.7 L1881.3,1358.8 L1881.7,1359.9 L1882.0,1361.0 L1882.3,1362.0 L1882.7,1363.1 L1883.0,1364.1 L1883.3,1365.1 L1883.6,1366.1 L1884.0,1367.0 L1884.4,1368.4 L1884.9,1369.8 L1885.4,1371.1 L1885.9,1372.4 L1886.4,1373.6 L1886.9,1374.8 L1887.3,1375.9 L1887.8,1377.0 L1888.3,1378.0 L1888.8,1379.0 L1889.3,1380.0 L1890.0,1381.3 L1890.7,1382.4 L1891.4,1383.3 L1892.2,1384.2 L1892.9,1384.9 L1894.0,1385.8 L1895.0,1386.6 L1896.1,1387.3 L1897.2,1388.0 L1898.3,1388.7 L1899.3,1389.4 L1900.4,1390.3 L1901.2,1391.0 L1901.9,1391.7 L1903.1,1392.7 L1904.2,1393.6 L1905.3,1394.6 L1906.4,1395.5 L1907.6,1396.3 L1908.8,1397.2 L1910.0,1398.0 L1911.2,1398.8 L1912.4,1399.5 L1913.6,1401.0 L1914.9,1399.9 L1916.1,1402.5 L1917.5,1402.2 L1918.4,1403.3 L1919.4,1403.0 L1920.4,1402.7 L1921.5,1404.9 L1922.4,1403.7 L1923.7,1404.4 L1925.0,1404.1 L1926.4,1405.4 L1927.8,1405.2 L1929.3,1406.1 L1930.3,1406.3 L1931.3,1405.6 L1932.3,1405.1 L1933.3,1407.0 L1934.3,1407.6 L1935.3,1407.5 L1936.4,1406.0 L1937.4,1407.7 L1938.5,1407.7 L1939.5,1407.7 L1940.9,1408.0 L1942.2,1407.4 L1943.5,1408.0 L1944.7,1408.8 L1945.9,1407.5 L1947.1,1406.8 L1948.4,1408.0 L1949.7,1408.3 L1951.1,1406.5 L1952.6,1407.6 L1953.7,1408.7 L1954.8,1408.1 L1956.0,1408.3 L1957.2,1407.1 L1958.6,1409.1 L1960.0,1409.9 L1961.1,1408.1 L1962.3,1407.7 L1963.6,1407.3 L1964.9,1409.2 L1966.2,1408.5 L1967.6,1407.7 L1969.0,1409.5 L1970.5,1409.1 L1972.0,1409.0 L1973.0,1406.8 L1974.0,1408.3 L1975.0,1409.0 L1976.0,1407.3 L1977.1,1409.3 L1978.1,1409.7 L1979.2,1409.4 L1980.3,1407.8 L1981.3,1407.8 L1982.4,1409.3 L1983.5,1409.4 L1984.5,1409.6 L1985.6,1409.5 L1986.7,1408.4 L1987.8,1408.1 L1988.8,1406.8 L1989.9,1409.2 L1990.9,1410.5 L1992.0,1408.1 L1993.0,1408.1 L1994.0,1409.1 L1995.1,1408.8 L1996.1,1407.3 L1997.6,1407.9 L1999.0,1407.5 L2000.5,1410.3 L2001.6,1407.9 L2002.7,1409.3 L2003.8,1410.2 L2004.9,1410.2 L2006.0,1409.8 L2007.1,1410.0 L2008.3,1407.4 L2009.5,1408.2 L2010.6,1407.9 L2011.8,1408.3 L2013.0,1410.9 L2014.1,1407.0 L2015.3,1409.0 L2016.4,1407.4 L2017.6,1409.7 L2018.7,1409.7 L2019.9,1408.1 L2021.0,1410.4 L2022.1,1408.6 L2023.2,1409.7 L2024.3,1408.8 L2025.3,1408.0 L2026.3,1408.2 L2027.4,1408.4 L2028.8,1409.1 L2030.2,1408.6 L2031.5,1410.6 L2032.7,1408.3 L2033.9,1408.1 L2034.9,1407.9 L2036.2,1407.8 L2037.0,1407.2" fill="none" stroke="#f8343e" stroke-width="5" stroke-linejoin="round" stroke-linecap="round"/>
<path d="M339.0,1407.5 L340.0,1406.4 L341.2,1407.8 L342.3,1408.4 L343.6,1407.0 L344.9,1406.3 L346.0,1407.4 L347.1,1407.9 L348.2,1408.5 L349.3,1406.4 L350.5,1406.3 L351.7,1408.1 L353.0,1407.9 L354.3,1408.9 L355.6,1408.4 L356.9,1407.4 L358.3,1407.3 L359.7,1409.8 L361.1,1407.2 L362.5,1406.8 L364.0,1406.5 L365.5,1407.6 L366.5,1407.6 L367.5,1407.2 L368.6,1407.4 L369.6,1407.7 L370.6,1408.1 L371.7,1408.5 L372.8,1407.7 L373.8,1405.9 L374.9,1408.1 L376.0,1406.2 L377.1,1407.3 L378.2,1406.2 L379.3,1407.5 L380.4,1406.8 L381.5,1407.7 L382.6,1410.5 L383.7,1407.5 L384.9,1408.3 L386.0,1406.3 L387.2,1407.2 L388.3,1408.1 L389.4,1407.4 L390.6,1407.8 L391.8,1407.6 L392.9,1406.6 L394.1,1408.0 L395.2,1406.8 L396.4,1409.2 L397.6,1407.0 L398.7,1408.1 L399.9,1407.5 L401.1,1408.4 L402.3,1407.0 L403.4,1408.4 L404.6,1407.4 L405.8,1408.6 L406.9,1408.1 L408.1,1407.6 L409.3,1406.8 L410.4,1408.2 L411.6,1407.9 L412.8,1409.0 L413.9,1407.2 L415.1,1408.0 L416.3,1408.0 L417.4,1407.8 L418.6,1407.7 L419.7,1407.7 L420.8,1407.0 L422.0,1406.6 L423.1,1407.1 L424.2,1408.0 L425.4,1408.9 L426.5,1408.4 L427.6,1408.4 L428.7,1408.2 L429.8,1408.1 L430.9,1407.7 L432.0,1408.2 L433.1,1409.1 L434.1,1407.2 L435.2,1406.9 L436.2,1409.3 L437.3,1407.7 L438.3,1408.4 L439.4,1408.3 L440.4,1406.5 L441.4,1409.7 L442.4,1409.1 L443.9,1407.7 L445.3,1408.2 L446.8,1407.6 L448.2,1406.7 L449.5,1407.4 L450.6,1407.8 L451.7,1408.5 L452.8,1408.1 L453.9,1407.6 L455.1,1408.7 L456.2,1406.8 L457.3,1408.2 L458.5,1408.5 L459.6,1407.2 L460.8,1405.9 L461.9,1406.7 L463.1,1407.7 L464.2,1408.0 L465.4,1408.9 L466.6,1406.6 L467.7,1407.5 L468.9,1408.1 L470.0,1407.4 L471.2,1405.4 L472.4,1408.3 L473.5,1409.6 L474.7,1408.4 L475.9,1406.7 L477.0,1407.2 L478.2,1407.8 L479.3,1409.8 L480.5,1408.1 L481.6,1407.7 L482.8,1409.0 L483.9,1407.5 L485.1,1409.3 L486.2,1407.0 L487.4,1407.2 L488.5,1408.2 L489.7,1408.9 L490.8,1408.2 L491.9,1407.9 L493.0,1406.0 L494.2,1407.0 L495.3,1407.1 L496.4,1407.1 L497.5,1408.1 L498.6,1407.3 L499.7,1408.3 L500.8,1407.7 L501.9,1407.3 L502.9,1407.7 L504.0,1408.0 L505.1,1408.4 L506.1,1407.2 L507.2,1407.4 L508.2,1406.4 L509.2,1409.1 L510.3,1408.9 L511.3,1407.5 L512.3,1407.2 L513.8,1406.5 L515.3,1407.8 L516.7,1407.8 L518.1,1409.6 L519.5,1407.9 L520.9,1406.9 L522.3,1405.4 L523.6,1408.9 L524.9,1407.8 L526.2,1406.2 L527.5,1407.8 L528.7,1406.2 L529.9,1410.7 L531.0,1408.6 L532.2,1408.1 L533.3,1407.4 L534.3,1405.7 L535.4,1407.5 L536.7,1406.2 L538.0,1408.1 L539.1,1405.6 L542.2,1406.6 L544.1,1408.5 L545.6,1408.8 L546.9,1406.3 L547.9,1405.9 L549.3,1408.0 M570.9,1406.1 L572.0,1408.1 L573.1,1407.7 L574.5,1409.1 L576.3,1407.3 L577.4,1407.3 L578.6,1406.6 L580.0,1407.4 L581.3,1406.4 L582.3,1406.0 L583.4,1408.2 L584.6,1408.9 L585.9,1408.4 L587.2,1408.8 L588.6,1407.9 L590.0,1407.0 L591.5,1407.8 L592.5,1407.4 L593.5,1406.7 L594.5,1406.2 L595.6,1406.4 L596.7,1407.7 L597.8,1407.8 L598.9,1407.3 L600.0,1409.0 L601.1,1407.9 L602.3,1408.2 L603.4,1408.8 L604.6,1407.0 L605.7,1405.9 L606.9,1408.4 L608.1,1407.1 L609.2,1408.9 L610.4,1408.0 L611.6,1408.6 L612.8,1408.4 L614.0,1405.8 L615.1,1408.3 L616.3,1407.1 L617.4,1407.0 L618.6,1407.3 L619.8,1408.3 L620.9,1408.4 L622.0,1408.5 L623.1,1406.1 L624.2,1407.1 L625.3,1405.5 L626.4,1407.5 L627.5,1408.1 L628.5,1406.9 L629.5,1407.8 L630.5,1407.8 L632.0,1408.5 L633.4,1406.8 L634.8,1406.8 L636.1,1406.8 L637.4,1409.1 L638.5,1408.5 L639.6,1407.4 L640.8,1407.7 L642.5,1407.6 L644.0,1407.7 L645.5,1407.3 L646.9,1407.2 L648.2,1406.4 L649.5,1406.9 L650.7,1409.0 L651.8,1408.0 L652.8,1407.6 L653.9,1407.3 L655.3,1407.6 L656.6,1407.8 L657.8,1406.9 L658.9,1407.6 L660.0,1407.6 L661.3,1406.6 L662.5,1406.5 L663.7,1406.1 L665.0,1405.9 L666.4,1407.5 L667.5,1404.1 M761.4,1403.0 L762.9,1403.8 L763.9,1404.8 L765.1,1403.9 L766.5,1403.7 L768.1,1403.4 L770.0,1403.9 L771.2,1404.9 L772.5,1403.7 L773.5,1403.1 L774.5,1403.0 L775.6,1403.1 L776.8,1402.9 L778.0,1405.1 L779.2,1404.5 L780.5,1404.0 L781.8,1405.5 L783.2,1403.6 L784.6,1404.9 L786.0,1404.9 L787.4,1402.8 L788.9,1402.8 L789.9,1403.4 L790.9,1405.0 L791.9,1405.4 L793.0,1403.1 L794.0,1405.2 L795.1,1403.9 L796.1,1403.9 L797.2,1403.7 L798.3,1403.9 L799.4,1402.6 L800.5,1403.3 L801.6,1403.1 L802.7,1404.6 L803.8,1406.1 L804.9,1406.7 L806.1,1403.9 L807.2,1402.6 L808.3,1403.8 L809.5,1403.3 L810.6,1406.0 L811.8,1404.7 L812.9,1403.5 L814.0,1405.0 L815.2,1404.6 L816.3,1402.7 L817.5,1403.7 L818.6,1403.9 L819.8,1404.1 L820.9,1404.2 L822.1,1403.8 L823.2,1404.3 L824.4,1403.6 L825.5,1403.3 L826.6,1405.4 L827.8,1404.4 L828.9,1404.5 L830.0,1402.6 L831.1,1403.9 L832.2,1404.8 L833.3,1402.9 L834.4,1405.0 L835.5,1403.7 L836.6,1404.4 L837.6,1403.9 L838.7,1404.2 L839.7,1405.1 L840.8,1403.7 L841.8,1405.4 L842.8,1403.3 L843.8,1403.2 L845.3,1404.6 L846.7,1403.0 L848.2,1403.7 L849.5,1404.8 L850.6,1405.1 L851.7,1402.4 L852.8,1404.5 L853.9,1405.7 L855.1,1405.1 L856.2,1403.8 L857.4,1403.5 L858.5,1403.7 L859.7,1403.0 L860.8,1403.8 L862.0,1403.9 L863.1,1403.9 L864.3,1405.1 L865.4,1403.8 L866.6,1402.7 L867.7,1405.0 L868.9,1403.1 L870.1,1403.7 L871.2,1404.0 L872.4,1403.8 L873.5,1403.2 L874.7,1403.9 L875.8,1406.1 L876.9,1403.6 L878.1,1404.0 L879.2,1405.1 L880.3,1404.8 L881.4,1404.8 L882.6,1404.9 L883.7,1402.4 L884.8,1403.4 L885.9,1404.3 L886.9,1404.6 L888.0,1405.3 L889.1,1404.6 L890.1,1404.0 L891.2,1404.2 L892.2,1404.0 L893.2,1404.4 L894.3,1404.8 L895.3,1403.9 L896.7,1403.5 L898.2,1403.4 L899.6,1405.2 L901.0,1405.3 L902.4,1405.1 L903.7,1404.9 L905.0,1404.9 L906.2,1404.2 L907.4,1404.7 L908.6,1403.2 L909.7,1403.9 L910.8,1403.4 L911.9,1404.7 L913.2,1403.5 L914.4,1403.9 L916.8,1404.3 L918.3,1405.1 L919.6,1403.1 L920.6,1403.0 L922.0,1404.5 L923.1,1402.5 M1067.1,1392.0 L1068.4,1394.8 L1069.6,1393.9 L1071.0,1393.7 L1072.4,1396.4 L1073.9,1395.1 L1075.0,1397.4 L1076.0,1394.5 L1077.0,1393.6 L1078.0,1393.7 L1079.0,1394.8 L1080.0,1393.0 L1081.3,1392.9 L1082.5,1392.3 M1124.8,1400.6 L1126.0,1402.9 L1127.0,1403.1 L1128.3,1402.8 L1129.8,1402.2 L1131.5,1401.4 L1133.5,1403.9 L1134.7,1403.5 L1135.9,1402.2 L1137.2,1403.8 L1138.5,1402.5 L1140.0,1404.0 L1141.2,1404.2 L1142.5,1404.5 L1143.8,1404.4 L1144.8,1404.4 L1145.8,1403.3 L1146.9,1404.0 L1148.0,1403.9 L1149.1,1404.2 L1150.2,1404.7 L1151.4,1405.0 L1152.6,1406.0 L1153.8,1402.2 L1155.0,1404.9 L1156.3,1404.4 L1157.5,1406.7 L1158.8,1405.5 L1160.1,1403.2 L1161.5,1405.1 L1162.8,1404.3 L1164.2,1405.6 L1165.6,1403.8 L1167.0,1404.7 L1168.5,1404.7 L1169.9,1404.7 L1171.4,1404.3 L1172.8,1403.2 L1174.3,1405.3 L1175.3,1405.8 L1176.4,1404.8 L1177.4,1404.0 L1178.4,1405.1 L1179.4,1405.4 L1180.5,1404.7 L1181.5,1404.9 L1182.5,1406.2 L1183.6,1403.9 L1184.7,1404.4 L1185.7,1403.2 L1186.8,1404.3 L1187.9,1404.3 L1188.9,1404.1 L1190.0,1404.3 L1191.1,1406.6 L1192.2,1404.8 L1193.3,1404.8 L1194.4,1406.9 L1195.5,1404.9 L1196.6,1403.4 L1197.7,1405.3 L1198.8,1404.1 L1199.9,1406.4 L1201.0,1403.8 L1202.1,1404.4 L1203.3,1403.5 L1204.4,1405.1 L1205.5,1404.0 L1206.6,1404.9 L1207.8,1404.6 L1208.9,1404.4 L1210.0,1405.8 L1211.2,1405.8 L1212.3,1405.0 L1213.4,1404.2 L1214.6,1404.0 L1215.7,1405.2 L1216.8,1407.1 L1218.0,1404.6 L1219.1,1404.3 L1220.3,1404.3 L1221.4,1404.0 L1222.5,1404.1 L1223.7,1404.8 L1224.8,1406.3 L1226.0,1405.0 L1227.1,1404.5 L1228.2,1403.5 L1229.4,1405.2 L1230.5,1404.9 L1231.6,1403.9 L1232.8,1404.0 L1233.9,1404.9 L1235.0,1405.9 L1236.2,1405.5 L1237.3,1405.2 L1238.4,1404.7 L1239.5,1405.3 L1240.6,1405.0 L1241.8,1406.9 L1242.9,1404.0 L1244.0,1404.6 L1245.1,1406.1 L1246.2,1404.7 L1247.3,1406.3 L1248.4,1405.0 L1249.5,1405.1 L1250.5,1404.7 L1251.9,1403.8 L1253.3,1404.1 L1254.7,1407.0 L1256.2,1405.6 L1257.7,1405.6 L1259.2,1405.9 L1260.2,1405.6 L1261.2,1406.0 L1262.2,1404.8 L1263.2,1404.9 L1264.3,1406.0 L1265.3,1404.8 L1266.3,1403.9 L1267.4,1404.9 L1268.5,1404.6 L1269.5,1405.6 L1270.6,1404.4 L1271.7,1404.1 L1272.7,1404.8 L1273.8,1406.5 L1274.9,1405.1 L1276.0,1405.3 L1277.1,1405.1 L1278.2,1405.4 L1279.3,1406.0 L1280.4,1406.4 L1281.5,1403.7 L1282.7,1406.4 L1283.8,1405.2 L1284.9,1404.9 L1286.0,1407.3 L1287.2,1405.0 L1288.3,1406.9 L1289.4,1406.1 L1290.6,1404.3 L1291.7,1405.6 L1292.9,1405.9 L1294.0,1405.1 L1295.2,1403.1 L1296.3,1404.9 L1297.5,1405.1 L1298.6,1404.2 L1299.7,1406.9 L1300.9,1405.0 L1302.1,1404.9 L1303.2,1405.0 L1304.4,1404.6 L1305.5,1404.6 L1306.7,1405.4 L1307.8,1405.6 L1309.0,1404.8 L1310.1,1405.2 L1311.3,1404.0 L1312.4,1405.8 L1313.5,1404.6 L1314.7,1405.5 L1315.8,1404.5 L1317.0,1404.8 L1318.1,1405.5 L1319.2,1404.2 L1320.4,1407.5 L1321.5,1405.3 L1322.6,1405.3 L1323.8,1404.7 L1324.9,1406.8 L1326.0,1406.6 L1327.1,1405.6 L1328.2,1404.1 L1329.3,1404.9 L1330.4,1405.9 L1331.5,1404.9 L1332.6,1404.3 L1333.7,1404.3 L1334.8,1404.6 L1335.9,1405.3 L1336.9,1404.8 L1338.0,1405.4 L1339.1,1407.8 L1340.1,1406.9 L1341.2,1404.4 L1342.2,1405.6 L1343.2,1405.4 L1344.3,1405.2 L1345.3,1406.3 L1346.3,1405.0 L1347.3,1405.0 L1348.3,1405.0 L1349.8,1405.2 L1351.3,1406.5 L1352.7,1406.0 L1354.2,1404.1 L1355.6,1404.9 L1357.0,1404.6 L1358.4,1406.0 L1359.7,1405.5 L1361.0,1406.1 L1362.3,1405.2 L1363.6,1403.5 L1364.9,1405.6 L1366.1,1405.4 L1367.3,1405.7 L1368.5,1404.0 L1369.7,1405.3 L1370.8,1404.6 L1371.9,1404.5 L1373.0,1405.5 L1374.1,1405.4 L1375.1,1404.3 L1376.4,1403.5 L1377.7,1402.8 L1378.9,1404.5 L1380.0,1406.0 L1382.2,1404.9 L1384.1,1402.8 L1385.8,1404.0 L1387.4,1405.1 L1388.8,1406.2 L1390.0,1405.6 L1391.0,1404.9 L1392.6,1404.5 L1393.7,1403.2 L1394.8,1403.4 M1474.1,1394.7 L1475.0,1395.8 L1475.9,1397.3 L1476.9,1397.2 L1478.0,1397.4 L1479.1,1397.3 L1480.3,1396.7 L1481.5,1398.5 L1482.7,1399.7 L1484.0,1398.8 L1485.4,1401.4 L1486.7,1400.4 L1487.7,1401.4 L1488.7,1401.1 L1489.7,1400.6 L1490.7,1403.8 L1491.7,1401.2 L1492.8,1403.4 L1493.9,1402.3 L1495.0,1403.3 L1496.2,1402.5 L1497.4,1403.1 L1498.5,1404.5 L1499.6,1405.6 L1500.7,1403.2 L1501.8,1404.2 L1503.0,1405.1 L1504.2,1403.8 L1505.5,1405.2 L1506.8,1403.9 L1508.3,1405.3 L1509.3,1405.2 L1510.4,1405.9 L1511.5,1405.2 L1512.8,1403.8 L1514.0,1405.5 L1515.4,1404.0 L1516.9,1405.6 L1518.4,1406.3 L1520.0,1405.5 L1521.1,1404.5 L1522.2,1406.1 L1523.4,1405.1 L1524.6,1403.9 L1525.9,1404.7 L1527.2,1406.2 L1528.6,1404.7 L1530.0,1405.0 L1531.4,1404.6 L1532.9,1403.3 L1534.4,1404.4 L1535.4,1405.1 L1536.4,1405.0 L1537.5,1404.6 L1538.5,1402.8 L1539.6,1405.8 L1540.6,1405.3 L1541.7,1405.6 L1542.8,1405.8 L1543.8,1404.2 L1544.9,1404.0 L1546.0,1404.8 L1547.1,1406.0 L1548.2,1402.9 L1549.3,1404.2 L1550.4,1403.8 L1551.6,1404.9 L1552.7,1405.6 L1553.8,1404.0 L1554.9,1403.1 L1556.0,1404.3 L1557.1,1403.9 L1558.2,1402.8 L1559.3,1404.9 L1560.4,1403.6 L1561.5,1404.7 L1562.5,1402.8 L1563.6,1405.0 L1564.7,1402.7 L1565.7,1404.9 L1566.8,1402.3 L1567.8,1405.1 L1568.8,1403.5 L1569.8,1402.4 L1570.8,1403.5 L1572.3,1404.0 L1573.8,1402.8 L1575.2,1403.2 L1576.5,1403.8 L1577.9,1403.4 L1579.2,1400.8 L1580.6,1403.1 L1581.8,1403.8 L1583.0,1403.7 L1584.2,1404.3 L1585.4,1402.7 L1586.6,1405.6 L1587.7,1404.0 L1588.8,1403.6 L1590.0,1404.2 L1591.1,1404.1 L1592.2,1403.3 L1593.2,1402.6 L1594.3,1404.1 L1595.4,1403.5 L1596.4,1401.4 L1597.4,1402.1 L1598.5,1403.5 L1599.5,1403.1 L1601.0,1403.2 L1602.4,1403.5 L1603.9,1403.1 L1605.3,1404.3 L1606.7,1402.3 L1608.1,1402.5 L1609.4,1403.1 L1610.8,1403.4 L1612.1,1403.4 L1613.4,1404.0 L1614.6,1402.2 L1615.9,1403.7 L1617.2,1403.0 L1618.4,1401.6 L1619.6,1402.4 L1620.6,1404.4 L1621.9,1403.2 L1623.1,1402.0 L1624.3,1400.2 L1625.4,1401.7 L1626.6,1401.7 L1627.7,1402.4 L1628.8,1404.3 L1629.8,1402.9 L1630.8,1402.5 L1631.9,1401.3 L1633.3,1401.0 L1634.8,1401.9 L1636.2,1401.6 L1637.5,1404.7 L1638.8,1401.5 L1640.1,1401.3 L1641.4,1402.8 L1642.6,1401.8 L1643.8,1400.5 L1645.0,1402.7 L1646.3,1401.1 L1647.4,1400.1 L1648.5,1401.4 L1649.6,1401.4 L1650.6,1400.5 L1652.0,1401.2 L1653.3,1401.0 L1654.7,1399.2 L1655.9,1397.9 L1657.2,1397.4 L1658.6,1399.1 L1660.0,1400.1 L1661.4,1399.7 L1662.8,1399.7 L1664.1,1399.9 L1665.3,1398.0 L1666.7,1398.6 L1668.0,1396.1 L1669.4,1397.8 L1670.4,1397.4 L1671.5,1396.8 L1672.6,1396.4 L1673.7,1395.6 L1675.0,1396.6 L1676.2,1397.6 L1677.5,1396.0 L1678.9,1396.7 L1680.4,1395.6 L1681.4,1396.4 L1682.4,1395.3 L1683.4,1396.5 L1684.5,1395.9 L1685.6,1396.4 L1686.6,1395.5 L1687.7,1395.0 L1688.8,1395.7 L1689.8,1396.9 L1690.9,1397.4 L1692.0,1395.7 L1693.0,1396.7 L1694.0,1396.6 L1695.0,1396.2 L1696.5,1394.4 L1697.9,1396.0 L1699.2,1394.7 L1700.6,1396.5 L1701.8,1396.0 L1703.0,1395.7 L1704.1,1392.6 L1705.2,1395.3 L1706.2,1395.2 L1707.2,1393.2 L1708.2,1395.0 L1709.6,1393.8 L1711.0,1393.2 L1712.3,1392.4 L1713.6,1391.8 L1714.8,1392.0 L1716.0,1394.8 L1717.1,1391.9 L1718.2,1391.5 L1719.3,1390.5 L1720.2,1390.2 L1721.6,1389.8 L1722.9,1389.0 L1724.1,1390.0 L1725.3,1388.3 M1913.6,1401.0 L1914.9,1399.9 L1916.1,1402.5 L1917.5,1402.2 L1918.4,1403.3 L1919.4,1403.0 L1920.4,1402.7 L1921.5,1404.9 L1922.4,1403.7 L1923.7,1404.4 L1925.0,1404.1 L1926.4,1405.4 L1927.8,1405.2 L1929.3,1406.1 L1930.3,1406.3 L1931.3,1405.6 L1932.3,1405.1 L1933.3,1407.0 L1934.3,1407.6 L1935.3,1407.5 L1936.4,1406.0 L1937.4,1407.7 L1938.5,1407.7 L1939.5,1407.7 L1940.9,1408.0 L1942.2,1407.4 L1943.5,1408.0 L1944.7,1408.8 L1945.9,1407.5 L1947.1,1406.8 L1948.4,1408.0 L1949.7,1408.3 L1951.1,1406.5 L1952.6,1407.6 L1953.7,1408.7 L1954.8,1408.1 L1956.0,1408.3 L1957.2,1407.1 L1958.6,1409.1 L1960.0,1409.9 L1961.1,1408.1 L1962.3,1407.7 L1963.6,1407.3 L1964.9,1409.2 L1966.2,1408.5 L1967.6,1407.7 L1969.0,1409.5 L1970.5,1409.1 L1972.0,1409.0 L1973.0,1406.8 L1974.0,1408.3 L1975.0,1409.0 L1976.0,1407.3 L1977.1,1409.3 L1978.1,1409.7 L1979.2,1409.4 L1980.3,1407.8 L1981.3,1407.8 L1982.4,1409.3 L1983.5,1409.4 L1984.5,1409.6 L1985.6,1409.5 L1986.7,1408.4 L1987.8,1408.1 L1988.8,1406.8 L1989.9,1409.2 L1990.9,1410.5 L1992.0,1408.1 L1993.0,1408.1 L1994.0,1409.1 L1995.1,1408.8 L1996.1,1407.3 L1997.6,1407.9 L1999.0,1407.5 L2000.5,1410.3 L2001.6,1407.9 L2002.7,1409.3 L2003.8,1410.2 L2004.9,1410.2 L2006.0,1409.8 L2007.1,1410.0 L2008.3,1407.4 L2009.5,1408.2 L2010.6,1407.9 L2011.8,1408.3 L2013.0,1410.9 L2014.1,1407.0 L2015.3,1409.0 L2016.4,1407.4 L2017.6,1409.7 L2018.7,1409.7 L2019.9,1408.1 L2021.0,1410.4 L2022.1,1408.6 L2023.2,1409.7 L2024.3,1408.8 L2025.3,1408.0 L2026.3,1408.2 L2027.4,1408.4 L2028.8,1409.1 L2030.2,1408.6 L2031.5,1410.6 L2032.7,1408.3 L2033.9,1408.1 L2034.9,1407.9 L2036.2,1407.8 L2037.0,1407.2" fill="none" stroke="#f8343e" stroke-width="8" stroke-linejoin="round" stroke-linecap="round"/>
<rect x="337.6" y="53.5" width="1720.4" height="1388.0" fill="none" stroke="#000" stroke-width="5"/>
<g stroke="#000" stroke-width="5"><line x1="460.5" y1="1441.5" x2="460.5" y2="1429.5"/><line x1="583.4" y1="1441.5" x2="583.4" y2="1417.5"/><line x1="706.3" y1="1441.5" x2="706.3" y2="1429.5"/><line x1="829.1" y1="1441.5" x2="829.1" y2="1417.5"/><line x1="952.0" y1="1441.5" x2="952.0" y2="1429.5"/><line x1="1074.9" y1="1441.5" x2="1074.9" y2="1417.5"/><line x1="1197.8" y1="1441.5" x2="1197.8" y2="1429.5"/><line x1="1320.7" y1="1441.5" x2="1320.7" y2="1417.5"/><line x1="1443.6" y1="1441.5" x2="1443.6" y2="1429.5"/><line x1="1566.5" y1="1441.5" x2="1566.5" y2="1417.5"/><line x1="1689.3" y1="1441.5" x2="1689.3" y2="1429.5"/><line x1="1812.2" y1="1441.5" x2="1812.2" y2="1417.5"/><line x1="1935.1" y1="1441.5" x2="1935.1" y2="1429.5"/><line x1="337.6" y1="1325.8" x2="349.6" y2="1325.8"/><line x1="337.6" y1="1210.2" x2="361.6" y2="1210.2"/><line x1="337.6" y1="1094.5" x2="349.6" y2="1094.5"/><line x1="337.6" y1="978.8" x2="361.6" y2="978.8"/><line x1="337.6" y1="863.2" x2="349.6" y2="863.2"/><line x1="337.6" y1="747.5" x2="361.6" y2="747.5"/><line x1="337.6" y1="631.8" x2="349.6" y2="631.8"/><line x1="337.6" y1="516.2" x2="361.6" y2="516.2"/><line x1="337.6" y1="400.5" x2="349.6" y2="400.5"/><line x1="337.6" y1="284.8" x2="361.6" y2="284.8"/><line x1="337.6" y1="169.2" x2="349.6" y2="169.2"/></g>
<g style="font-family:'Liberation Serif','Times New Roman',serif;font-weight:bold;font-size:60px;letter-spacing:3.30px" fill="#000"><text transform="translate(294.0,1518) scale(0.90,1.02)">200</text><text transform="translate(539.9,1518) scale(0.90,1.02)">300</text><text transform="translate(786.3,1518) scale(0.90,1.02)">400</text><text transform="translate(1031.4,1518) scale(0.90,1.02)">500</text><text transform="translate(1277.3,1518) scale(0.90,1.02)">600</text><text transform="translate(1522.5,1518) scale(0.90,1.02)">700</text><text transform="translate(1768.9,1518) scale(0.90,1.02)">800</text><text transform="translate(2014.8,1518) scale(0.90,1.02)">900</text><text transform="translate(280.6,1460.0) scale(0.90,1.02)">0</text><text transform="translate(160.7,1228.7) scale(0.90,1.02)">10000</text><text transform="translate(160.7,997.3) scale(0.90,1.02)">20000</text><text transform="translate(160.7,766.0) scale(0.90,1.02)">30000</text><text transform="translate(160.7,534.7) scale(0.90,1.02)">40000</text><text transform="translate(160.7,303.3) scale(0.90,1.02)">50000</text><text transform="translate(160.7,72.0) scale(0.90,1.02)">60000</text></g>
<g style="font-family:'Liberation Serif','Times New Roman',serif;font-size:61px;letter-spacing:2.70px" fill="#111" stroke="#fff" stroke-width="0.7"><text transform="translate(1502.0,414.8) scale(0.880,1)">(802, 41983)</text><text transform="translate(1502.0,482.7) scale(0.880,1)">(802, 15585)</text><text transform="translate(698.4,594.4) scale(0.880,1)">(450, 30404)</text><text transform="translate(698.4,666.3) scale(0.880,1)">(450, 7307)</text><text transform="translate(1086.9,740.0) scale(0.880,1)">(475, 30177)</text><text transform="translate(1087.6,808.2) scale(0.880,1)">(475, 8837)</text><text transform="translate(550.9,955.7) scale(0.880,1)">(362, 11983)</text><text transform="translate(553.5,1018.5) scale(0.880,1)">(362, 3977)</text><text transform="translate(364.9,1162.7) scale(0.880,1)">(345, 10496)</text><text transform="translate(364.9,1231.0) scale(0.880,1)">(345, 2398)</text><text transform="translate(1274.5,1123.6) scale(0.880,1)">(646, 9453)</text><text transform="translate(1274.6,1188.5) scale(0.880,1)">(646, 4073)</text></g>
<g stroke="#585858" stroke-width="1.9" fill="none"><line x1="1806.6" y1="426.5" x2="1815.0" y2="462.0"/><line x1="1654.0" y1="495.5" x2="1815.0" y2="1068.0"/><line x1="850.3" y1="607.2" x2="944.3" y2="726.0"/><line x1="836.0" y1="680.7" x2="954.0" y2="1269.0"/><line x1="1088.1" y1="720.0" x2="1027.0" y2="739.0"/><line x1="1090.5" y1="821.0" x2="1017.0" y2="1225.0"/><line x1="703.6" y1="969.0" x2="733.6" y2="1150.0"/><line x1="690.3" y1="1031.0" x2="732.0" y2="1337.0"/><line x1="669.4" y1="1175.0" x2="685.9" y2="1189.0"/><line x1="639.8" y1="1245.0" x2="688.0" y2="1373.0"/><line x1="1411.0" y1="1137.0" x2="1431.0" y2="1215.0"/><line x1="1412.0" y1="1202.0" x2="1433.0" y2="1338.0"/></g>
<line x1="1385" y1="135" x2="1553" y2="135" stroke="#dc4656" stroke-width="6.5"/>
<line x1="1385" y1="236" x2="1553" y2="236" stroke="#555" stroke-width="6.5"/>
<g style="font-family:'Liberation Serif','Times New Roman',serif;font-weight:bold;font-size:65px;letter-spacing:2.70px" fill="#000"><text transform="translate(1566.2,159.5) scale(0.930,1)">NaYF<tspan font-size="46px" dy="18.5">4</tspan><tspan dy="-18.5">:Yb,Tm</tspan></text><text transform="translate(1566.2,260) scale(0.930,1)">NaGdF<tspan font-size="46px" dy="18.5">4</tspan><tspan dy="-18.5">:Yb,Tm</tspan></text></g>
<g style="font-family:'Liberation Serif','Times New Roman',serif" fill="#000"><text x="875.8 961.3 1003.5 1046.9 1082.8 1108.7 1146.8 1194.4 1237.6 1265.5" y="1656" style="font-weight:bold;font-size:85px">Wavelength</text><text x="1335.3" y="1655.5" style="font-size:99px">(</text><text x="1366.7 1414.0" y="1656" style="font-weight:bold;font-size:85px">nm</text><text x="1486.9" y="1655.5" style="font-size:99px">)</text></g>
<g transform="translate(87.5,1016) rotate(-90)" style="font-family:'Liberation Serif','Times New Roman',serif" fill="#000"><g transform="scale(0.94,1)" style="font-weight:bold;font-size:84px"><text x="3.6 38.9 91.1 120.1 161.3 209.2 244.5 272.7 300.8" y="0">Intensity</text><text x="396.7 443.2 468.1 518.5" y="0">a.u.</text></g><text x="346.9" y="0" style="font-size:83px">(</text><text x="506.2" y="0" style="font-size:83px">)</text></g>
</svg></body></html>
